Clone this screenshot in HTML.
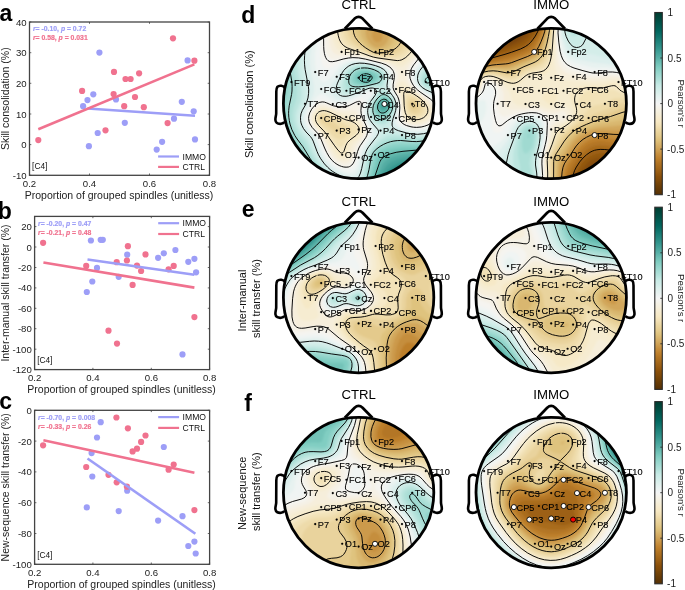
<!DOCTYPE html><html><head><meta charset="utf-8"><style>html,body{margin:0;padding:0;background:#fff;}svg{display:block;font-family:"Liberation Sans",sans-serif;will-change:transform;}</style></head><body><svg width="685" height="590" viewBox="0 0 685 590"><defs><filter id="bl" x="-10%" y="-10%" width="120%" height="120%"><feGaussianBlur stdDeviation="0.8"/></filter></defs><rect width="685" height="590" fill="#fff"/><circle cx="99.4" cy="52.6" r="3.1" fill="#9d9ef7"/><circle cx="83.1" cy="106.2" r="3.1" fill="#9d9ef7"/><circle cx="87.5" cy="100.1" r="3.1" fill="#9d9ef7"/><circle cx="93.3" cy="94.3" r="3.1" fill="#9d9ef7"/><circle cx="116" cy="99.4" r="3.1" fill="#9d9ef7"/><circle cx="124.8" cy="122.8" r="3.1" fill="#9d9ef7"/><circle cx="97.7" cy="133" r="3.1" fill="#9d9ef7"/><circle cx="88.9" cy="146.2" r="3.1" fill="#9d9ef7"/><circle cx="156.7" cy="149.6" r="3.1" fill="#9d9ef7"/><circle cx="162.1" cy="141.8" r="3.1" fill="#9d9ef7"/><circle cx="174" cy="118.7" r="3.1" fill="#9d9ef7"/><circle cx="181.8" cy="101.8" r="3.1" fill="#9d9ef7"/><circle cx="187.6" cy="60.4" r="3.1" fill="#9d9ef7"/><circle cx="193.7" cy="111.3" r="3.1" fill="#9d9ef7"/><circle cx="195" cy="139.4" r="3.1" fill="#9d9ef7"/><circle cx="38.3" cy="140.1" r="3.1" fill="#f0728f"/><circle cx="82.1" cy="90.9" r="3.1" fill="#f0728f"/><circle cx="105.5" cy="130.3" r="3.1" fill="#f0728f"/><circle cx="114" cy="71.9" r="3.1" fill="#f0728f"/><circle cx="113.6" cy="94" r="3.1" fill="#f0728f"/><circle cx="125.5" cy="79" r="3.1" fill="#f0728f"/><circle cx="130.6" cy="79" r="3.1" fill="#f0728f"/><circle cx="135" cy="97" r="3.1" fill="#f0728f"/><circle cx="139.1" cy="73.3" r="3.1" fill="#f0728f"/><circle cx="124.2" cy="106.2" r="3.1" fill="#f0728f"/><circle cx="143.8" cy="107.2" r="3.1" fill="#f0728f"/><circle cx="173" cy="38.3" r="3.1" fill="#f0728f"/><circle cx="167.6" cy="123.1" r="3.1" fill="#f0728f"/><circle cx="194.4" cy="60.7" r="3.1" fill="#f0728f"/><line x1="87.5" y1="108.5" x2="195" y2="115.7" stroke="#9d9ef7" stroke-width="2.6"/><line x1="38.3" y1="129.2" x2="194.4" y2="64.4" stroke="#f0728f" stroke-width="2.6"/><rect x="29.5" y="22" width="180" height="153.3" fill="none" stroke="#444" stroke-width="1.3"/><path d="M29.5 22h1.8M209.5 22h-1.8" stroke="#444" stroke-width="0.8"/><text x="26.7" y="25.5" text-anchor="end" font-size="9.6" fill="#222">40</text><path d="M29.5 52.7h1.8M209.5 52.7h-1.8" stroke="#444" stroke-width="0.8"/><text x="26.7" y="56.2" text-anchor="end" font-size="9.6" fill="#222">30</text><path d="M29.5 83.3h1.8M209.5 83.3h-1.8" stroke="#444" stroke-width="0.8"/><text x="26.7" y="86.8" text-anchor="end" font-size="9.6" fill="#222">20</text><path d="M29.5 114h1.8M209.5 114h-1.8" stroke="#444" stroke-width="0.8"/><text x="26.7" y="117.5" text-anchor="end" font-size="9.6" fill="#222">10</text><path d="M29.5 144.6h1.8M209.5 144.6h-1.8" stroke="#444" stroke-width="0.8"/><text x="26.7" y="148.1" text-anchor="end" font-size="9.6" fill="#222">0</text><path d="M29.5 175.3h1.8M209.5 175.3h-1.8" stroke="#444" stroke-width="0.8"/><text x="26.7" y="178.8" text-anchor="end" font-size="9.6" fill="#222">-10</text><path d="M29.5 175.3v-1.8M29.5 22v1.8" stroke="#444" stroke-width="0.8"/><text x="29.5" y="186.5" text-anchor="middle" font-size="9.6" fill="#222">0.2</text><path d="M89.5 175.3v-1.8M89.5 22v1.8" stroke="#444" stroke-width="0.8"/><text x="89.5" y="186.5" text-anchor="middle" font-size="9.6" fill="#222">0.4</text><path d="M149.5 175.3v-1.8M149.5 22v1.8" stroke="#444" stroke-width="0.8"/><text x="149.5" y="186.5" text-anchor="middle" font-size="9.6" fill="#222">0.6</text><path d="M209.5 175.3v-1.8M209.5 22v1.8" stroke="#444" stroke-width="0.8"/><text x="209.5" y="186.5" text-anchor="middle" font-size="9.6" fill="#222">0.8</text><text x="119" y="198.9" text-anchor="middle" font-size="10.5" fill="#222">Proportion of grouped spindles (unitless)</text><text transform="translate(9.3 98.7) rotate(-90)" text-anchor="middle" font-size="10.5" fill="#222">Skill consolidation (%)</text><text x="32.9" y="31.2" font-size="6.85" font-weight="bold" fill="#9d9ef7" stroke="#9d9ef7" stroke-width="0.2"><tspan font-style="italic">r</tspan>= -0.10, <tspan font-style="italic">p</tspan> = 0.72</text><text x="32.9" y="40.4" font-size="6.85" font-weight="bold" fill="#f0728f" stroke="#f0728f" stroke-width="0.2"><tspan font-style="italic">r</tspan>= 0.58, <tspan font-style="italic">p</tspan> = 0.031</text><text x="32.1" y="169" font-size="8.3" fill="#111">[C4]</text><line x1="158.1" y1="156.5" x2="179" y2="156.5" stroke="#9d9ef7" stroke-width="2.2"/><line x1="158.1" y1="166.9" x2="179" y2="166.9" stroke="#f0728f" stroke-width="2.2"/><text x="182.5" y="159.7" font-size="8.6" fill="#111">IMMO</text><text x="182.5" y="170.1" font-size="8.6" fill="#111">CTRL</text><circle cx="90.9" cy="240.5" r="3.1" fill="#9d9ef7"/><circle cx="100.7" cy="239.8" r="3.1" fill="#9d9ef7"/><circle cx="102.8" cy="239.8" r="3.1" fill="#9d9ef7"/><circle cx="127.2" cy="254.7" r="3.1" fill="#9d9ef7"/><circle cx="97" cy="267.9" r="3.1" fill="#9d9ef7"/><circle cx="92.3" cy="281.5" r="3.1" fill="#9d9ef7"/><circle cx="86.8" cy="292" r="3.1" fill="#9d9ef7"/><circle cx="118.7" cy="276.8" r="3.1" fill="#9d9ef7"/><circle cx="158.1" cy="257.8" r="3.1" fill="#9d9ef7"/><circle cx="163.8" cy="253.3" r="3.1" fill="#9d9ef7"/><circle cx="175.4" cy="250" r="3.1" fill="#9d9ef7"/><circle cx="188.3" cy="261.8" r="3.1" fill="#9d9ef7"/><circle cx="194.4" cy="258.8" r="3.1" fill="#9d9ef7"/><circle cx="196.1" cy="272.3" r="3.1" fill="#9d9ef7"/><circle cx="182.5" cy="354.4" r="3.1" fill="#9d9ef7"/><circle cx="43.1" cy="242.8" r="3.1" fill="#f0728f"/><circle cx="86.2" cy="265.9" r="3.1" fill="#f0728f"/><circle cx="127.9" cy="246.2" r="3.1" fill="#f0728f"/><circle cx="126.9" cy="260.5" r="3.1" fill="#f0728f"/><circle cx="116.7" cy="262.2" r="3.1" fill="#f0728f"/><circle cx="145.5" cy="254.4" r="3.1" fill="#f0728f"/><circle cx="137" cy="265.6" r="3.1" fill="#f0728f"/><circle cx="141.1" cy="271" r="3.1" fill="#f0728f"/><circle cx="132.6" cy="284.9" r="3.1" fill="#f0728f"/><circle cx="168.6" cy="269.3" r="3.1" fill="#f0728f"/><circle cx="173.7" cy="265.9" r="3.1" fill="#f0728f"/><circle cx="108.5" cy="330.7" r="3.1" fill="#f0728f"/><circle cx="117" cy="343.6" r="3.1" fill="#f0728f"/><circle cx="194.4" cy="317.1" r="3.1" fill="#f0728f"/><line x1="87.5" y1="259.5" x2="194.4" y2="274.7" stroke="#9d9ef7" stroke-width="2.6"/><line x1="43.4" y1="262.5" x2="194.4" y2="287.6" stroke="#f0728f" stroke-width="2.6"/><rect x="34.6" y="216.4" width="175" height="153.2" fill="none" stroke="#444" stroke-width="1.3"/><path d="M34.6 226.6h1.8M209.6 226.6h-1.8" stroke="#444" stroke-width="0.8"/><text x="31.8" y="230.1" text-anchor="end" font-size="9.6" fill="#222">20</text><path d="M34.6 247h1.8M209.6 247h-1.8" stroke="#444" stroke-width="0.8"/><text x="31.8" y="250.5" text-anchor="end" font-size="9.6" fill="#222">0</text><path d="M34.6 267.5h1.8M209.6 267.5h-1.8" stroke="#444" stroke-width="0.8"/><text x="31.8" y="271" text-anchor="end" font-size="9.6" fill="#222">-20</text><path d="M34.6 287.9h1.8M209.6 287.9h-1.8" stroke="#444" stroke-width="0.8"/><text x="31.8" y="291.4" text-anchor="end" font-size="9.6" fill="#222">-40</text><path d="M34.6 308.3h1.8M209.6 308.3h-1.8" stroke="#444" stroke-width="0.8"/><text x="31.8" y="311.8" text-anchor="end" font-size="9.6" fill="#222">-60</text><path d="M34.6 328.7h1.8M209.6 328.7h-1.8" stroke="#444" stroke-width="0.8"/><text x="31.8" y="332.2" text-anchor="end" font-size="9.6" fill="#222">-80</text><path d="M34.6 349.2h1.8M209.6 349.2h-1.8" stroke="#444" stroke-width="0.8"/><text x="31.8" y="352.7" text-anchor="end" font-size="9.6" fill="#222">-100</text><path d="M34.6 369.6h1.8M209.6 369.6h-1.8" stroke="#444" stroke-width="0.8"/><text x="31.8" y="373.1" text-anchor="end" font-size="9.6" fill="#222">-120</text><path d="M34.6 369.6v-1.8M34.6 216.4v1.8" stroke="#444" stroke-width="0.8"/><text x="34.6" y="380.8" text-anchor="middle" font-size="9.6" fill="#222">0.2</text><path d="M92.9 369.6v-1.8M92.9 216.4v1.8" stroke="#444" stroke-width="0.8"/><text x="92.9" y="380.8" text-anchor="middle" font-size="9.6" fill="#222">0.4</text><path d="M151.3 369.6v-1.8M151.3 216.4v1.8" stroke="#444" stroke-width="0.8"/><text x="151.3" y="380.8" text-anchor="middle" font-size="9.6" fill="#222">0.6</text><path d="M209.6 369.6v-1.8M209.6 216.4v1.8" stroke="#444" stroke-width="0.8"/><text x="209.6" y="380.8" text-anchor="middle" font-size="9.6" fill="#222">0.8</text><text x="121.6" y="393.2" text-anchor="middle" font-size="10.5" fill="#222">Proportion of grouped spindles (unitless)</text><text transform="translate(9.3 293) rotate(-90)" text-anchor="middle" font-size="10.5" fill="#222">Inter-manual skill transfer (%)</text><text x="38" y="225.6" font-size="6.85" font-weight="bold" fill="#9d9ef7" stroke="#9d9ef7" stroke-width="0.2"><tspan font-style="italic">r</tspan>= -0.20, <tspan font-style="italic">p</tspan> = 0.47</text><text x="38" y="234.8" font-size="6.85" font-weight="bold" fill="#f0728f" stroke="#f0728f" stroke-width="0.2"><tspan font-style="italic">r</tspan>= -0.21, <tspan font-style="italic">p</tspan> = 0.48</text><text x="37.2" y="363.3" font-size="8.3" fill="#111">[C4]</text><line x1="158.2" y1="223.2" x2="179.1" y2="223.2" stroke="#9d9ef7" stroke-width="2.2"/><line x1="158.2" y1="234" x2="179.1" y2="234" stroke="#f0728f" stroke-width="2.2"/><text x="182.6" y="226.4" font-size="8.6" fill="#111">IMMO</text><text x="182.6" y="237.2" font-size="8.6" fill="#111">CTRL</text><circle cx="100.7" cy="422.2" r="3.1" fill="#9d9ef7"/><circle cx="97" cy="437.5" r="3.1" fill="#9d9ef7"/><circle cx="91.6" cy="453.1" r="3.1" fill="#9d9ef7"/><circle cx="92.3" cy="476.5" r="3.1" fill="#9d9ef7"/><circle cx="86.8" cy="507.4" r="3.1" fill="#9d9ef7"/><circle cx="118.7" cy="511.1" r="3.1" fill="#9d9ef7"/><circle cx="127.2" cy="490.7" r="3.1" fill="#9d9ef7"/><circle cx="158.1" cy="520.6" r="3.1" fill="#9d9ef7"/><circle cx="163.8" cy="447" r="3.1" fill="#9d9ef7"/><circle cx="182.5" cy="516.2" r="3.1" fill="#9d9ef7"/><circle cx="188.3" cy="546" r="3.1" fill="#9d9ef7"/><circle cx="194.4" cy="541.6" r="3.1" fill="#9d9ef7"/><circle cx="195.7" cy="553.5" r="3.1" fill="#9d9ef7"/><circle cx="43.1" cy="445.3" r="3.1" fill="#f0728f"/><circle cx="116.4" cy="417.5" r="3.1" fill="#f0728f"/><circle cx="127.9" cy="428.3" r="3.1" fill="#f0728f"/><circle cx="145.5" cy="435.5" r="3.1" fill="#f0728f"/><circle cx="141.1" cy="441.9" r="3.1" fill="#f0728f"/><circle cx="137" cy="448.7" r="3.1" fill="#f0728f"/><circle cx="132.6" cy="451.4" r="3.1" fill="#f0728f"/><circle cx="86.2" cy="467" r="3.1" fill="#f0728f"/><circle cx="108.5" cy="474.8" r="3.1" fill="#f0728f"/><circle cx="116.7" cy="482.3" r="3.1" fill="#f0728f"/><circle cx="126.9" cy="486.7" r="3.1" fill="#f0728f"/><circle cx="168.6" cy="469.7" r="3.1" fill="#f0728f"/><circle cx="173.7" cy="464.6" r="3.1" fill="#f0728f"/><circle cx="194.4" cy="510.1" r="3.1" fill="#f0728f"/><line x1="87.5" y1="458.5" x2="195.4" y2="533.8" stroke="#9d9ef7" stroke-width="2.6"/><line x1="43.4" y1="440.2" x2="194.4" y2="472.8" stroke="#f0728f" stroke-width="2.6"/><rect x="34.6" y="410.3" width="175" height="154" fill="none" stroke="#444" stroke-width="1.3"/><path d="M34.6 410.3h1.8M209.6 410.3h-1.8" stroke="#444" stroke-width="0.8"/><text x="31.8" y="413.8" text-anchor="end" font-size="9.6" fill="#222">0</text><path d="M34.6 441.1h1.8M209.6 441.1h-1.8" stroke="#444" stroke-width="0.8"/><text x="31.8" y="444.6" text-anchor="end" font-size="9.6" fill="#222">-20</text><path d="M34.6 471.9h1.8M209.6 471.9h-1.8" stroke="#444" stroke-width="0.8"/><text x="31.8" y="475.4" text-anchor="end" font-size="9.6" fill="#222">-40</text><path d="M34.6 502.7h1.8M209.6 502.7h-1.8" stroke="#444" stroke-width="0.8"/><text x="31.8" y="506.2" text-anchor="end" font-size="9.6" fill="#222">-60</text><path d="M34.6 533.5h1.8M209.6 533.5h-1.8" stroke="#444" stroke-width="0.8"/><text x="31.8" y="537" text-anchor="end" font-size="9.6" fill="#222">-80</text><path d="M34.6 564.3h1.8M209.6 564.3h-1.8" stroke="#444" stroke-width="0.8"/><text x="31.8" y="567.8" text-anchor="end" font-size="9.6" fill="#222">-100</text><path d="M34.6 564.3v-1.8M34.6 410.3v1.8" stroke="#444" stroke-width="0.8"/><text x="34.6" y="575.5" text-anchor="middle" font-size="9.6" fill="#222">0.2</text><path d="M92.9 564.3v-1.8M92.9 410.3v1.8" stroke="#444" stroke-width="0.8"/><text x="92.9" y="575.5" text-anchor="middle" font-size="9.6" fill="#222">0.4</text><path d="M151.3 564.3v-1.8M151.3 410.3v1.8" stroke="#444" stroke-width="0.8"/><text x="151.3" y="575.5" text-anchor="middle" font-size="9.6" fill="#222">0.6</text><path d="M209.6 564.3v-1.8M209.6 410.3v1.8" stroke="#444" stroke-width="0.8"/><text x="209.6" y="575.5" text-anchor="middle" font-size="9.6" fill="#222">0.8</text><text x="121.6" y="587.9" text-anchor="middle" font-size="10.5" fill="#222">Proportion of grouped spindles (unitless)</text><text transform="translate(9.3 487.3) rotate(-90)" text-anchor="middle" font-size="10.5" fill="#222">New-sequence skill transfer (%)</text><text x="38" y="419.5" font-size="6.85" font-weight="bold" fill="#9d9ef7" stroke="#9d9ef7" stroke-width="0.2"><tspan font-style="italic">r</tspan>= -0.70, <tspan font-style="italic">p</tspan> = 0.008</text><text x="38" y="428.7" font-size="6.85" font-weight="bold" fill="#f0728f" stroke="#f0728f" stroke-width="0.2"><tspan font-style="italic">r</tspan>= -0.33, <tspan font-style="italic">p</tspan> = 0.26</text><text x="37.2" y="558" font-size="8.3" fill="#111">[C4]</text><line x1="158.2" y1="417.1" x2="179.1" y2="417.1" stroke="#9d9ef7" stroke-width="2.2"/><line x1="158.2" y1="427.9" x2="179.1" y2="427.9" stroke="#f0728f" stroke-width="2.2"/><text x="182.6" y="420.3" font-size="8.6" fill="#111">IMMO</text><text x="182.6" y="431.1" font-size="8.6" fill="#111">CTRL</text><clipPath id="cp00"><circle cx="358.6" cy="103.5" r="75.2"/></clipPath><g clip-path="url(#cp00)"><g filter="url(#bl)" fill-rule="evenodd"><circle cx="358.6" cy="103.5" r="78.2" fill="#cc9a4c"/><path fill="#d2a75c" d="M280 23.8l158.3 0 0 159.5-159.4 0 0-159.5zM374.5 29.5l-1.2 1.2-1.1 2.2 0 3.5 0.7 2.2 1.6 2.3 1.8 1.2 1.7 0.2 2.2-0.9 1.3-1.6 0.8-2.3 0.1-2.3-0.9-3.4-1.3-1.8-2.2-1.3-2.3 0.2-1.2 0.6z"/><path fill="#d9b76f" d="M280 23.8l87.7 0-1.6 3.5-0.7 3.4 0.1 3.4 0.9 3.4 1.8 3.4 2.9 3.5 3.4 2.5 3.5 0.8 3.4-0.8 2.7-1.4 2.4-2.3 1.9-3.4 0.7-3.4 0.3-5.7-0.6-3.4-1.5-3.5 51 0 0 159.5-159.4 0 0-159.5z"/><path fill="#dfc37e" d="M280 23.8l81.3 0-0.8 4.6 0.1 4.5 0.9 3.5 1.8 3.4 3.7 4.5 4 3.5 3.5 2 3.5 0.6 4.5-0.8 4.4-1.8 3.2-2.3 2.7-3.4 1.8-4.6 0.8-4.6 0-4.5-0.9-4.6 43.8 0 0 159.5-159.4 0 0-159.5z"/><path fill="#e4ca8c" d="M280 23.8l76.2 0-0.4 4.6 0.4 4.5 1.7 4.6 2.2 3.4 4.5 4.6 4.6 3.4 5.3 2.9 3.5 0.5 5.7-0.7 5.1-1.6 4.2-2.2 3.5-3.5 2.6-4.5 1.3-4.6 0.5-5.7-0.7-5.7 38.1 0 0 159.5-159.4 0 0-159.5z"/><path fill="#e9d39d" d="M280 23.8l71.5 0-0.1 5.7 0.8 4.6 2.2 4.5 2.7 3.5 5.4 4.5 7.2 4.6 4.8 2.1 4.6 0.5 6.8-0.6 5.7-1.4 4.6-2.1 3.6-3.1 3.1-4.5 1.9-5.7 0.8-5.7-0.5-6.9 33.2 0 0 159.5-159.4 0 0-159.5zM411.2 102.4l-0.9 2.3 0.7 2.6 1.1 1.4 1.2 0.7 2.2-0.1 1.2-1.1 0.3-1.2-0.5-2.3-2.1-2.3-2.3-0.5z"/><path fill="#eedbaa" d="M280 23.8l67.2 0 0 5.7 1.2 5.7 2.4 4.6 3.2 3.4 6.5 4.6 10.6 5.6 4.6 1.4 5.7 0.4 7.9-0.4 5.7-1.1 4.6-2.1 3.4-2.9 3.4-5 2.3-6.2 1-6.8-0.2-6.9 28.8 0 0 159.5-159.4 0 0-159.5zM411.3 99l-2.1 1.1-1.1 2.3-0.1 2.3 0.6 3.4 1.1 2.3 1.3 1.5 2.3 1.3 2.2 0.2 2.3-0.5 1.8-1.4 1-2.3 0-2.2-1.5-3.4-2.1-2.3-2.6-1.7-2.3-0.7zM321 117.2l-0.5 1.2 0.5 2.1 2.3 2.5 5.7 3.8 6.8 5.4 2.3 0.5 1.7-0.7 0.9-1.1 0.1-1.2-1.3-2.2-9.3-8-3.2-2.3-2.6-0.9-2.2 0.1-1.2 0.7z"/><path fill="#f2e2b8" d="M280 23.8l63.1 0 0.1 6.9 1.3 5.7 2.5 4.5 3.5 3.4 8 4.6 13.8 6.2 5.7 1.2 11.3 0.5 5.7-0.3 4.6-1.2 4.5-2.8 3.3-3.6 3.2-5.7 1.9-5.7 1-6.8-0.1-6.9 24.9 0 0 159.5-159.4 0 0-159.5zM408.5 96.7l-0.9 0.8-0.8 1.5-0.6 4.6 0.4 4.5 1.8 4.6 2.3 2.2 2.6 1.2 3.4 0.2 3.8-1.4 2.3-2.2 0.9-2.3-0.2-3.4-1.8-3.4-2.7-3.1-3.5-2.5-3.4-1.5-2.3-0.2-1.1 0.3zM322 113.8l-2.2 1.1-1.5 2.3-0.1 2.3 1.6 3.4 14.9 14.5 3.4 1.9 2.3 0 3.4-1.6 5.4-4.5 1.7-2.3 0.1-1.2-0.4-1.1-2.8-2.3-7.4-4.1-11.4-7-3.4-1.3-3.4-0.1z"/><path fill="#f6e9c7" d="M280 23.8l59.2 0 0.1 6.9 1.4 6.8 2.2 4.6 2 2.2 2.3 1.7 6 2.9 20.2 7.7 5.7 1 17.1 1.6 4.5-0.7 3.4-1.8 3.8-3.3 3.6-4.5 2.8-5.7 1.7-5.7 1.1-6.8 0-6.9 21.2 0 0 159.5-159.4 0 0-159.5zM406.7 93.3l-1.4 1.5-0.7 5.3 0.5 8 1.3 5.2 2 2.8 2.6 1.7 3.4 0.9 4.6-0.3 3.4-1.4 2.2-1.9 1-1.3 1.1-3.4-0.3-2.3-0.8-2.3-3.4-4.5-4.4-3.8-5.7-3.2-4.5-1.2zM323.3 111.5l-3.4 0.9-2.7 2.5-1 3.5 0.8 3.4 1.7 2.7 7.3 7.5 9.8 12.1 2.3 2.1 2.3 1.1 1.1-0.2 1.2-1 4.8-6.1 8.7-6.8 1.4-2.3 0.3-1.2-0.4-1.5-2.3-2.9-2.3-1.5-9.1-3.3-14.8-7.7-3.4-1.1-2.3-0.2z"/><path fill="#f6ecd1" d="M280 23.8l55.5 0 0.1 8 1.6 8 2.1 4.5 2.1 2.3 1.6 1.2 4.2 1.7 11.4 3.3 14.8 4.8 25.1 4.7 3.4-0.4 4.5-2.7 4.7-4.6 3.3-4.6 2.7-5.7 2.2-6.8 1.1-6.8 0.1-6.9 17.8 0 0 159.5-159.4 0 0-159.5zM402 87.6l-0.8 1.1-0.1 1.2 1.7 8 1.3 13.6 1.5 4.6 2 2.3 3.4 1.8 4.5 0.8 4.6-0.5 4.8-2.1 3.2-3.5 1-2.2 0.3-2.3-0.4-2.3-0.9-2.3-3.5-4.5-5.4-4.6-12.8-8.1-3.4-1.3zM319.5 110.4l-2.9 2.3-1.8 3.4-0.3 3.4 1.2 3.4 1.9 2.8 4.9 5.2 3.6 4.5 10.9 17.3 3.4 3.1 2.3 0.4 1.1-0.3 1.1-0.7 1.2-1.6 2-7.9 1-2.3 1.5-1.8 6.9-5.4 2.3-3 0.8-3.5-1-3.4-3.3-4.1-3.4-2.4-8-2-13.6-6.1-4.6-1.7-3.4-0.5-3.4 0.7z"/><path fill="#f6eedb" d="M280 23.8l51.8 0 0.2 9.1 1.5 9.2 2.3 5.2 1.4 1.6 2 1.5 3.5 1.3 13.6 2.2 17.1 4.8 13 2.7 5.2 1.7 6.9 3.1 2.2 0.5 1.2-0.1 2.2-1.1 3.5-3.1 6.8-7.4 3.2-5 2.7-5.7 2.2-6.8 1.2-6.8 0.2-6.9 14.4 0 0 159.5-159.4 0 0-159.5zM400.6 81.9l-1.4 1.2-1.4 2.2-0.5 1.3-0.1 2.1 2.9 5.7 1.1 3.5 0.8 4.5 0.9 11.4 0.5 2.3 1.2 2.3 1.8 1.8 2.3 1.3 3.4 1.1 3.4 0.4 3.5-0.2 3.4-0.8 4.9-2.5 3.2-3.4 1.4-3.4 0-3.5-2.1-4.5-4-4.6-13.6-10.2-8.1-7.7-2.2-0.7-1.2 0.3zM319.8 108.1l-3.6 2.3-1.8 2.3-1.1 2.2-0.5 2.3 0 2.3 1 3.4 2.3 3.4 5.1 5.7 2.6 3.4 8.6 16 3.2 4.5 2.5 2.3 2.3 1.2 2.3 0.4 3-0.5 1.7-1.1 2.1-3 2.2-8.4 1-2.3 6.8-6.8 2.3-3.4 0.8-2.3 0.2-2.3-1.4-4.5-3.9-5.8-2.3-2.3-2.3-1.4-8-1.3-19.3-6.6-3.4-0.2-2.3 0.5z"/><path fill="#f5f1e6" d="M280 23.8l48.2 0 0.2 10.3 1.5 11.4 1.7 4.5 1.7 2.3 1.4 1.1 2.3 1 2.2 0.5 12.6 0.2 9.1 1.3 23.9 6 3.6 1.3 4.1 2.3 3.9 3.4 1.5 2.3 0.6 2.2-0.3 3.5-2.6 6.8-0.5 3.4 0.6 2.3 3.7 6.8 1.1 3.4 0.7 5.7 0.2 9.1 0.8 3.5 1.9 2.6 3.5 2.2 4.5 1.4 4.6 0.3 4.5-0.5 3.4-1 3.3-1.6 2.4-1.9 2.3-2.7 1.2-2.3 0.7-3.4-0.2-2.3-1.7-4-3.2-3.9-4-3.4-9.3-6.9-5.7-5.7-2.3-3.4-2.3-4.5-0.5-2.3 0.1-2.3 0.6-2.3 1.9-3.4 10-12.5 4.9-9.1 1.7-4.6 1.6-5.7 0.8-5.7 0.1-5.7 11.3 0 0 159.5-159.4 0 0-159.5zM319.9 105.8l-2.3 1.1-2.3 1.8-2.9 4-0.9 2.2-0.5 3.5 1 4.5 2.1 3.4 5.1 5.7 2.5 3.4 7.8 16 4 6 3.5 3.1 3.4 1.8 3.4 0.8 3.4-0.6 2.3-1.4 1.4-1.8 1.7-3.4 2.8-9.1 1.4-2.3 5.2-6.2 1.7-2.9 0.8-2.2 0.2-3.5-1.5-5.1-6.9-12.6-1.9-1.6-1.5-0.3-6.8 0.9-3.4-0.3-8-1.8-9.1-3.2-3.4-0.3-2.3 0.4z"/><path fill="#f5f4f0" d="M280 23.8l44.5 0 0 6.9 1.2 19.3 0.9 3.4 1 2.3 2.5 2.7 2.3 0.8 2.3 0.2 14.8-2.3 9.1 0.3 6.8 1.3 17.1 4.3 4.7 1.8 3.3 2.1 3.3 3.6 1.3 3.4 0.1 3.5-1.5 6.8-0.1 3.4 1.2 3.4 3.3 5.7 1.5 4.6 0.6 5.7-0.4 10.2 0.6 2.3 1.4 2.3 1.2 1.1 3.4 1.9 4.6 1.4 5.7 0.6 4.5-0.4 3.4-0.9 3.6-1.5 3.4-2.2 2.2-2.3 2.1-3.4 0.9-3.4-0.2-3.5-1.7-4.3-2.9-3.6-4.1-3.4-9.7-6.9-2.6-2.3-2.9-3.4-2.1-3.4-1.3-3.4-0.5-3.4 0.2-2.3 0.6-2.3 1.6-3.4 9.5-12.5 5-9.1 1.8-4.6 1.6-5.7 0.8-5.7 0.2-5.7 8.2 0 0 159.5-159.4 0 0-159.5zM319.1 103.6l-2.6 1.4-2.3 2.1-2.3 2.9-1.4 2.7-1.1 3.4-0.2 2.3 0.5 3.4 0.9 2.2 2.3 3.5 4.7 5 2.2 2.9 7.8 17.1 2 3.4 2.6 3.4 3.6 3.3 4.6 2.5 4.5 1.1 3.5-0.4 2.2-1.2 2.5-3 1.6-3.4 3.3-10.2 6.9-10.3 1.8-4.5 0.1-2.3-0.6-3.4-4.7-10.3-1.1-3.4-0.4-3.4 0.1-5.7-0.4-1.1-1.1-0.7-1.1 0-9.1 4.1-5.7 0.9-8-1.1-10.3-3.7-2.2-0.2-2.3 0.4z"/><path fill="#f0f4f3" d="M280 23.8l40.8 0 0.2 14.8-0.6 12.6 0.3 5.7 1.5 6.8 1.1 2.3 2.3 2.3 2.3 0.5 2.2-0.6 9.3-5.6 5.5-2.3 4.8-1.2 5.5-0.4 8 0.7 14.8 3.5 5.9 1.9 4.3 2.5 2.3 2.2 1.9 3.3 0.6 4.6-0.9 6.8 0.1 3.4 1.2 3.4 4 6.9 1.4 4.5 0.3 5.7-1 9.1 0.1 2.3 1.7 3.4 2.9 2.3 4.8 2 5.7 1.2 5.7 0.1 5.6-1 4.6-1.7 4.3-2.9 3.1-3.4 1.7-3.4 0 67.2-159.4 0 0-159.5zM369.7 93.3l0.3-0.1zM359.1 99l-11.9 5.2-5.7 1-4.5-0.2-3.5-0.7-9.1-4.3-2.2-0.3-2.3 0.4-3.4 1.9-4.6 4.8-2.9 4.7-1.5 4.6 0.1 4.5 1 3.4 2.2 3.5 5.4 5.7 1.7 2.2 7.2 17.1 4.3 6.8 4.5 4.6 5.3 3.3 5.7 1.9 4.6 0 3.2-1.8 2.4-3.4 1.8-4.6 3.2-10.2 7.2-11.4 1.6-4.5 0-2.3-0.8-3.4-4.2-9.1-1.3-4.6-0.1-4.6 1.6-10.2-0.9-0.7-3.5 0.5zM433.8 23.8l4.5 0 0 83.2-1.8-3.4-3.1-3.5-2.8-2.2-9.4-6.1-4.8-4.2-1.8-2.3-1.9-3.4-1.1-3.4-0.3-2.3 0.3-3.4 1.7-4.6 2.2-3.4 8.8-11.4 4.9-9.1 1.6-4.5 1.5-5.7 0.6-4.6 0.2-5.7z"/><path fill="#e7f2f0" d="M280 23.8l37.1 0-0.5 14.8-1.6 16 0.1 9.1 0.8 5.7 1.3 4.5 2.7 5.2 2.3 2.3 1.1 0.4 2.3-0.5 4.5-3.1 3.4-3.4 4.5-6.6 3.6-3.4 4.5-2.5 5.7-1.7 4.5-0.4 4.6 0.1 11.4 2.2 10.2 3.1 2.9 1.5 2.8 2.3 1.7 2.3 1.2 3.4 0.1 3.4-0.7 6.8 0.6 3.4 5.2 9.2 1.5 4.5 0.3 6.8-1.8 10.3 0.4 2.3 1.8 2.8 3.4 2.4 5.7 2.1 6.8 1.2 5.7-0.1 5.7-1.1 4.5-1.7 4.6-2.9 3.4-3.7 0 62.5-159.4 0 0-159.5zM368.1 91l-6.1 4-11.4 5.1-4.5 1.7-4.6 0.7-4.5-0.2-3.5-1-9.1-6.7-2.2-0.9-1.2 0.2-2.3 1.4-2.2 2.2-4.6 5.8-4.4 7.1-1.9 5.7 0 4.5 1.5 4.6 2.3 3.4 6.5 6.8 1.7 3.5 5.1 13.6 2.5 4.6 3.3 4.5 2.8 2.8 3.4 2.8 6.8 3.6 3.4 1.2 3.5 0.7 2.2-0.1 2.3-0.7 2.3-2.2 1.1-2 1.9-4.9 3.8-12.6 1.7-3.4 5.3-7.9 2-4.6 0.3-2.3-0.7-3.4-5-10.2-1.3-5.7 0.3-4.6 1.6-5.7 1.3-2.3 3.9-4.5 1.4-2.3 0.2-1.1-0.7-1.5-1.2-0.6-2.3 0.5zM437.2 23.8l1.1 0 0 78.7-2-2.4-2.8-2.2-11.1-6.8-4.2-3.5-3.2-4.5-0.9-2.3-0.6-3.4 0.4-4.6 2-4.6 11.3-14.8 4.9-9.1 1.7-4.5 1.4-5.7 0.7-4.6 0.2-5.7z"/><path fill="#ddefed" d="M280 23.8l33.3 0-1.2 14.8-1.9 14.8-0.4 8 1 10 3.2 13.9 0.1 5.7-0.8 3.4-1.8 4.6-7.2 13.7-1 4.5 0.1 3.4 0.9 3.4 1.7 3.5 2.5 3.1 5.7 6 7.3 18.2 3.5 5.7 3.9 4.5 3.5 3.1 3.4 2.3 9.1 4.4 5.7 1.3 2.3-0.2 2.3-1 1.7-1.9 1.7-3.7 3.9-14.5 1.6-4.6 2.5-4.3 5-7 1.8-3.5 0.6-3.4-0.5-2.3-6.3-11.3-1-3.5-0.3-3.4 0.3-3.4 1.4-4.5 1.9-3.5 3.7-4.5 1.2-2.3 0-2.3-0.9-1.1-2.4-0.8-2.3 0.4-9.1 4.5-9.1 3.8-4.5 1.4-3.4 0.5-4.6-0.5-3.4-1.5-3-3.3-1.2-3.4 0.2-3.4 1.4-3.4 4.6-6.8 3.4-6.9 3.7-4.1 4.3-2.7 4.8-1.6 5.7-0.6 6.8 0.6 9.1 2 6.9 2.2 4.7 3.1 2.5 3.4 1 4.6-0.6 6.8 0.3 3.4 1.5 3.4 4.4 6.9 1.8 5.7 0.2 3.4-0.3 3.4-2.1 8-0.2 2.2 0.6 3.4 2.1 2.8 3.4 1.9 6.9 2.2 5.7 1 5.7 0.2 5.6-0.8 5.7-1.8 4.6-2.5 3.4-2.8 0 59.1-159.4 0 0-159.5zM438.3 33.1l0 66.2-5-3.7-9.8-5.3-4.5-3.8-1.7-2.3-1.5-3.4-0.4-2.3 0.1-3.4 1-3.4 1.8-3.5 9.4-11.3 4.6-6.9 3.7-7.9 2.1-8z"/><path fill="#d4ede9" d="M280 23.8l29.5 0-3.6 27.4-0.6 9.1 0.8 10.2 3.2 16 0.2 6.8-0.9 4.6-1.4 4.5-4.3 8-1.3 3.4-0.6 3.4 0.1 3.4 1.2 4.6 1.8 3.4 7.1 8 1.5 2.3 4.8 12.5 2.8 5.7 3 4.5 4.6 5.3 3.4 3 3.4 2.3 11.4 5.8 5.7 1.3 2.2-0.2 2.3-0.8 2-1.9 1.6-3.4 4.2-17.1 1.6-4.5 2.5-4.6 7-9.1 1.9-3.4 0.5-2.3-0.7-2.3-7.5-10.2-1.4-3.4-0.6-3.4 0.1-3.5 1.2-4.5 1.7-3.4 4.9-6.9 0.8-2.2-0.5-2.3-2.2-1.4-3.4-0.2-19.4 7.4-3.4 0.9-3.4 0.3-3.4-0.6-2.3-1.2-1.7-1.8-1.1-3.4 0.1-2.3 0.9-3.4 4.8-10.3 2-3.4 3-3.1 4-2.6 5.1-1.5 5.7-0.5 5.7 0.6 9.1 2 5.7 2.3 3.9 2.8 2.1 3.4 0.7 3.5-0.7 7.9 0.2 2.3 1 2.3 5.6 8 1 2.2 0.9 3.5 0.2 3.4-0.4 3.4-2.5 8-0.8 4.5 0.6 3.4 1.8 2.1 4.6 2.2 8 2.2 5.7 0.9 4.5 0.2 5.7-0.5 5.7-1.4 5.1-2.3 4-2.7 0 56.3-159.4 0 0-159.5zM438.3 43.9l0 52.6-4.5-2.8-9.2-4.2-3.4-2.5-2.9-3.9-0.8-2.3-0.4-3.4 0.6-3.5 1.6-3.4 2.5-3.4 10-11.4 3.7-5.7 2.6-5.7z"/><path fill="#cbebe6" d="M280 23.8l25.7 0-3.8 25.1-0.8 11.4 0.7 9.1 3.4 18.2 0.3 8-1.2 6.8-3.7 6.8-1.4 3.5-0.7 3.4 0 4.5 0.8 3.4 1.3 3.5 2.9 4.5 6.6 8 5.3 12.5 3 5.7 3.8 5.4 4.3 4.9 7 5.6 9.2 5.1 3.4 1.6 5.7 1.2 3.4-0.4 2.3-0.9 2.3-2 1.7-3.4 1.6-5.7 2.5-12.5 2.6-6.9 2.9-4.2 9.7-10.6 2.4-3.4 0.2-1.1-0.4-1.2-7.3-5.1-3.4-3.5-2.4-3.9-1-3.4 0-4.6 1.1-4.5 1.7-3.4 4.2-5.7 1.8-3.4 0.1-2.3-0.9-1.2-3.5-1.3-3.4 0.1-18.2 5.8-5.7 1-2.3-0.3-1.7-0.7-1.4-1.1-1.3-2.3-0.2-3.4 1.5-5.7 3.1-7.2 3.4-4.5 3.4-2.5 4.6-1.8 5.7-0.7 5.7 0.4 7.2 1.5 6.2 2.2 3.7 2.6 2.2 3.4 0.7 4.3-1.1 6.8 0 2.3 1.2 2.3 6.5 8 1.5 3.4 0.7 3.4 0 3.4-0.7 3.4-5.6 14.8 0.1 2.3 0.9 1.1 4.9 2.1 12.6 2.9 9.1 1 6.8-0.5 5.7-1.2 4.6-1.8 4.5-2.6 0 53.7-159.4 0 0-159.5zM438.3 50.7l0 43.1-3.4-1.7-9.1-3.5-3.2-2.1-2.7-3.4-0.8-2.3-0.3-2.3 0.6-3.4 1.8-3.7 2.3-2.9 9-9.4 5.6-7.9z"/><path fill="#bce5df" d="M280 23.8l22 0-3.6 20.5-1.3 12.6 0.4 10.2 3.3 18.2 0.8 9.1-0.9 6.9-3.9 9.1-1.1 4.5 0.1 5.7 0.6 3.4 1.2 3.5 2.9 5.1 6.9 8.7 7.7 15.8 2.9 4.5 3.6 4.6 5.1 5.3 4.6 3.7 9.1 5.5 5.5 2.6-67 0 0-159.5zM438.3 56.4l0 34.7-3.4-1.4-8-2.3-2.3-1.1-1.2-1-1.8-2.2-1-3.5 0.6-3.7 2.3-3.9 9.8-9.4 4.7-5.7zM357.5 65.8l6.8-0.5 6.8 1.1 6.9 2.2 4.5 3 2.2 3.5 0.4 3.4-1.4 5.5-1.2 2.2-1.1 1.2-1.2 0.1-4.9-1-3-0.1-21.7 5-3.4 0.3-2.4-0.7-1.9-2.3-0.5-3.4 0.9-4.5 2.1-5.7 2.1-3.4 2.2-2.3 3.2-2.1 3.6-1.3zM381.4 90.2l1.1-0.3 1.2 0.3 2.2 1.4 3.4 2.9 3.5 4.4 1.4 3.5 0.4 4.6-0.7 3.7-2.3 5.4-3.4 5.7-1.1 1.2-2.3 1.5-2.3 0.3-3.4-0.8-3.4-2-2.3-2.1-1.9-2.7-0.9-2.3-0.4-2.2 0-3.5 1.6-5.6 1.9-3.5 7-9.1zM438.3 132l0 51.3-80.8 0 3.4-2.6 2.4-4.3 1.5-5.7 2.6-13.6 2.6-6.4 2.3-3.1 3.4-3.6 4.5-3.9 4.6-3.2 3.4-1.6 4.6-0.6 7.9 0.6 11.4 2 9.1 0 9.1-1.7 4.6-1.7 3.4-1.9z"/><path fill="#aee0d8" d="M280 23.8l18.3 0-3.6 19.4-1.4 13.7 0.3 10.2 2.8 16 0.7 7.9-0.6 8-3.2 10.2-0.8 5.7 0.4 6.9 1.6 5.7 2.9 5.7 7.7 10.5 7.9 14.5 4.8 6.8 5.5 6.1 4.6 4.2 5.6 4.1 6.6 3.9-61.2 0 0-159.5zM438.3 61.8l0 26.2-3.4-1.1-6.8-1-2.3-0.8-2.4-2-0.9-3.5 0.5-2.2 1.6-2.8 9.2-8 3.9-4zM358.6 67l5.7-0.5 5.7 0.7 6.8 2.2 3.8 2.3 1.2 1.1 1.4 2.3 0.4 3.4-0.6 2.3-1.3 2.3-2.6 1.7-6.8 0.7-10.3 2.3-6.8 1-5.7 0.1-2.3-0.9-1.1-1.6-0.5-3.3 0.8-4.6 1.3-3.4 1.8-2.8 2.3-2.2 2.9-1.9 3.3-1.1zM382.5 92.8l1.2 0 2.2 0.6 3.4 2.5 3.1 4.2 1.3 4.6-0.4 4.5-1.7 4.6-3.4 5.1-3.4 2.7-3.4 0.6-2.3-0.5-2.3-1.2-3.5-3.3-1.2-2.3-0.5-2.2-0.2-2.3 0.4-3.4 1.7-4.6 4.5-6.1 3.4-3zM437.2 134.9l1.1-0.6 0 49-77.2 0 2.1-2.4 2-4.5 1.5-5.7 2.3-12.5 2-5.7 3.5-4.6 6.9-5.4 5.7-3.1 5.7-1.5 6.8-0.2 12.5 1.6 6.9 0 9.1-1.2 8-2.7z"/><path fill="#a0dad1" d="M280 23.8l14.8 0-3.9 19.4-1.4 14.8 0.3 9.1 2.4 14.8 0.3 4.6-0.4 7.9-2.5 11.4-0.7 6.9 0.6 7.9 1.8 6.9 2 4.5 2.5 4.6 7 9.5 8.1 13.2 4.1 5.7 9.5 10.3 4.5 3.7 6.4 4.3-56.5 0 0-159.5zM359.7 68.2l3.5-0.4 3.4 0.1 6.8 1.5 4.9 2.3 1.9 1.6 1.4 1.8 0.4 1.1 0 2.3-0.6 1.7-1.3 1.7-3.3 1.7-9.1 2.2-6.8 1-5.7 0.2-3.4-0.6-1.8-1.1-0.9-1.1-0.6-2.3 0-2.3 1-3.4 1.2-2.3 3.4-3.4 2.2-1.2 3.1-1.1zM438.3 67.8l0 16-5.7-1.5-5.7 0.9-1.1-0.5-0.7-0.8-0.3-1.1 1-2.6 6.8-4.7 5.3-5.3zM383.7 94.4l3.4 1.1 3.4 3.1 1.9 3.8 0.5 3.4-0.8 4.6-2.8 5-3.4 3.3-3.4 1.3-3.4-0.4-3.7-2.4-2.1-3.4-0.6-4.6 0.9-4.5 2.4-4.6 4.2-4.4 1.2-0.7 2.2-0.6zM438.3 136.6l0 46.7-74.6 0 2.1-3.5 1.7-4.5 3.1-16 1.3-4.5 2.6-4.1 5.7-4.6 6.9-3.5 6.8-1.9 5.7-0.4 12.5 1 8-0.1 10.2-1.6 8-3z"/><path fill="#8fd3c9" d="M280 23.8l11.3 0-3.8 18.3-1 7.9-0.6 8 0.2 9.1 1.7 13.7 0.2 4.5-0.6 6.9-2.2 11.4-0.2 5.6 0.9 9.2 1.8 7.9 2.7 6.9 3.3 6 8 10.8 9.4 13.9 4.7 5.7 5.4 5.7 4.4 3.9 5.6 4.1-52.3 0 0-159.5zM362 69.2l5.7 0.1 5.7 1.4 3.9 2.1 1.8 1.6 1.1 1.8-0.1 2.3-2.1 2.7-4 1.9-7.4 2.1-5.7 0.4-4.6-0.4-2.8-1-2-2.3-0.3-3.4 0.6-2.3 1.3-2.3 3.2-2.8 4.6-1.7zM381.4 96.4l2.3-0.6 3.4 0.9 2.2 1.9 1.2 1.5 1.3 3.5 0.1 3.4-0.9 3.4-1.9 3.4-3.2 3-3.4 1.3-3.4-0.5-2.3-1.4-1.1-1.2-1.5-3.5-0.3-3.4 1.2-4.5 2.9-4.4 2.9-2.5zM438.3 138.8l0 44.5-72.3 0 1.8-3.5 1.5-4.5 4.2-19.4 2.2-3.4 4.5-3.6 6.9-3.4 6.8-1.9 6.8-0.6 12.6 0.5 7.9-0.4 9.1-1.5 7.9-2.7z"/><path fill="#81cec2" d="M280 23.8l7.9 0-3.8 18.3-1.7 15.9 0 8 1.1 18.2-0.5 5.7-1.8 11.4-0.2 4.5 1.1 10.3 2.1 9.1 3.8 9.8 4.9 8.4 18.8 25.1 7 7.5 8.5 7.3-0.5 0-47.8 0 0-159.5zM363.2 70.5l4.5 0.1 4.2 1.1 4.1 2.2 1.7 2.3-0.2 2.3-2.1 2.3-4.3 2.3-4.5 1.3-4.6 0.1-4.5-0.9-2.7-1.7-1.1-2.3 0.5-3.4 1.5-2.3 3.2-2.2 4.2-1.2zM381.4 97.7l2.3-0.7 3.4 0.9 2.3 2.2 1.5 3.5 0.2 2.2-0.6 3.4-2 3.5-2.6 2.4-2.2 1-3.5 0-2.3-1.2-1.1-1.1-1.2-2.3-0.5-3.4 1.1-4.5 2.2-3.5 2.6-2.2zM438.3 141l0 42.3-70.1 0 1.5-3.5 1.8-5.6 4.2-17.5 2.2-3 3.5-2.6 6.8-3 6.8-1.7 5.7-0.6 13.7-0.1 8-0.6 9.1-1.7 6.6-2.3z"/><path fill="#73c3b8" d="M280 23.8l4.7 0-2.5 10.3-1.8 10.2-1.1 9.1-0.4 8.7 0-38.3zM278.9 67.1l0.4 13.7-0.4 8 0-22.4zM360.9 72.8l3.4-0.8 3.4 0.1 3.4 1 3 2 0.7 1.1 0.2 1.2-0.3 1.1-2.1 2.3-4 2.3-3.2 0.4-3.4-0.4-3.4-1.2-1.4-1.1-0.9-2.3 0.5-2.3 1.8-2.1 2.2-1.3zM381.4 98.9l2.3-0.7 3.1 0.8 2.3 2.3 0.9 2.3 0.2 2.2-0.8 3.4-1.4 2.3-2.1 2-3.4 1.1-2.3-0.3-2.2-1.6-1.3-2.3-0.3-3.4 0.9-3.4 1.8-2.9 2.1-1.7zM279 117.2l2 8 2.5 6.8 3.2 6.9 3.5 5.6 19.3 25.1 7.6 8 6.5 5.7-44.7 0 0-66.7zM438.3 143.3l0 40-68 0 3.6-10.3 3.7-13.7 2.2-3.4 3-2.2 5.4-2.4 6.8-1.9 6.9-0.9 13.6-0.6 8-0.8 8-1.5 6.4-2.2z"/><path fill="#61b7ac" d="M280 23.8l1.5 0-2.6 10.8 0-10.8zM364.3 73.9l2.3-0.1 2.2 0.5 1.7 0.8 1.1 1.1 0.4 1.2-0.8 2.2-1.1 1.2-2.4 1.4-4.2-0.3-2.5-1.1-1.3-1.3-0.3-2.1 0.5-1.2 1.2-1.1 2.8-1.2zM381.4 100.1l2.3-0.8 2.2 0.4 1.2 0.7 1.5 2 0.7 2.3-0.2 2.3-0.9 2.3-2.3 2.5-2.2 1-2.3 0-2.2-1.3-1.2-2.1-0.4-2.4 0.4-2.3 1.1-2.4 2.2-2.2zM279.1 128.6l5.1 11.4 6.1 9.4 17 21.3 6.5 6.9 6.2 5.7-41.1 0 0-55.3zM438.3 145.5l0 37.8-65.8 0 7.7-21.9 2.3-3.2 3.2-2.3 4.8-1.9 5.7-1.5 6.8-1.1 20.5-2 8-1.6 6.3-2.1z"/><path fill="#52aca3" d="M364.3 77.1l2.3-0.5 1.1 0.4 0.7 1.5-0.7 1.3-1.1 0.4-2.2-0.6-0.8-1.1 0.3-1.1zM382.5 100.7l2.3-0.2 1.1 0.4 1.2 1 0.9 1.7 0.3 2.2-0.7 2.3-1.7 2-1.1 0.7-2.3 0.4-1.1-0.3-1.2-0.8-1.1-2 0.1-3.4 1-2.1 1.3-1.3zM278.9 135.4l5.5 10.3 7.5 10.2 13.2 16 11.5 11.4-37.7 0 0-47.9zM438.3 147.8l0 35.5-63.5 0 7.7-18.5 2.3-3.2 3.4-2.6 4.4-1.9 5.9-1.7 6.8-1.2 19.3-2.6 6.9-1.6 6.3-2z"/><path fill="#44a299" d="M382.5 102.1l2.3-0.4 1.1 0.6 0.9 1.3 0.3 2.2-0.4 1.2-0.8 1.2-1.1 0.8-1.1 0.4-1.3-0.2-1-0.6-1-1.6 0.1-2.3 1.5-2.3zM279.4 142.3l5.8 9.1 8.9 11.4 9.9 11.4 9.3 9.1-34.4 0 0-42zM438.3 150.1l0 33.2-61 0 4.1-9 3.4-6.1 3.4-3.9 3.4-2.3 4.6-2 5.7-1.8 25-4.7 11-3.3z"/><path fill="#33958d" d="M383.7 103.2l1.1 0.1 0.8 1.4-0.8 2-1.1 0.4-1.2-0.6-0.3-1.8 0.8-1.1zM279.1 146.8l5.5 8 8.2 10.2 9.1 10.3 8 8-31 0 0-36.9zM438.3 152.4l0 30.9-58.2 0 4.7-8.5 3-4.1 3.8-3.5 4.6-2.7 4.5-2.1 5.8-1.9 21.6-4.8 9.9-3.2z"/><path fill="#298b83" d="M279.1 151.4l5.5 7.5 6.9 8.4 7.9 8.7 7.3 7.3-27.8 0 0-32.3zM438.3 154.8l0 28.5-55.1 0 3.9-5.8 3.4-3.9 4.5-3.6 5.7-3.4 9.1-3.7 19.4-5 9-3.1z"/></g><path fill="none" stroke="#000" stroke-width="0.95" stroke-linejoin="round" d="M353.4 23.8l-0.3 4.6 0.6 4.5 0.7 2.3 1 2.3 2.4 3.4 2.1 2.3 2.6 2.3 3.1 2.3 3.4 2.2 4.4 2.3 2.3 0.7 2.3 0.2 3.4-0.2 3.4-0.4 5.7-1.5 2.4-1.1 2-1.1 1.5-1.1 2.3-2.3 1.6-2.3 1.2-2.3 0.8-2.3 0.7-2.4 0.5-3.3 0.2-3.4-0.2-3.4-0.3-2.3M412.1 104.3l-0.1 0.4 0.1 0.7 0.2 0.4 1 0.9 1.1-0.4 0.2-0.5-0.3-1.1-1-0.9M337.5 23.8l-0.1 4.6 0.2 3.4 0.6 3.4 0.9 3.4 0.9 2.3 1.4 2.3 2.1 2.3 1.6 1.1 2.1 1.2 2.8 1.1 8.6 2.9 10.5 3.9 4.3 1.4 4.6 0.9 15.9 2.2 3.4 0.4 2.3-0.2 2.3-0.6 3.4-2 2.3-1.9 2.2-2.4 1.9-2.3 1.4-2.3 1.3-2.4 1.4-3.3 1.2-3.4 0.8-3.4 0.6-3.5 0.3-3.4 0-5.7M405.3 91l-1.2 0.9-0.3 1.4-0.1 1.1 0.5 11.4 0.4 3.4 0.7 3.5 1.1 2.6 1.2 1.4 1.1 1 1.1 0.7 2.3 0.9 3.4 0.5 3.5-0.3 2.2-0.7 2.3-1.1 2-1.6 1.4-2 0.7-1.4 0.3-2.3-0.3-2.3-0.9-2.3-1.4-2.2-2-2.3-3.2-2.9-3.4-2.5-3.4-2.1-4.6-2.1-2.3-0.7M319.9 111.4l-1.2 0.6-1.1 1-1.1 1.5-0.7 1.6-0.3 1.1 0 2.3 0.6 2.3 0.6 1.1 2 2.8 5.1 5.2 2.8 3.4 8.1 11.5 3.4 4.5 2.3 2.2 1.1 0.5 1.2-0.2 1.2-1.4 1.9-5.7 1.1-2.3 0.7-1.1 2.3-2.3 6.2-4.6 2-2.2 0.7-1.2 0.5-2.3-0.1-1.1-0.6-1.4-1.1-1.7-1.2-1.2-1.7-1.4-1.7-1-2.3-0.9-4.5-1.1-2.3-0.9-13.7-6.7-3.4-1.2-2.3-0.5-2.2 0.1-2.3 0.7M323.3 23.8l-0.1 5.7 0.4 9.1 0.1 8 0.2 3.4 0.5 3.4 0.6 2.3 0.6 1.6 1.1 2 1.2 1.2 1.1 0.7 1.1 0.4 2.3 0.1 3.4-0.6 8-2.2 4.6-0.9 4.5-0.4 5.7 0.3 6.8 1.2 16 4 4.7 1.7 3.7 2.3 1.3 1.1 1.8 2.3 0.6 1.2 0.7 2.2 0.2 3.5-1.2 6.8-0.1 3.4 0.6 2.3 0.6 1.1 3.4 5.7 0.9 2.3 0.6 2.3 0.5 3.4 0.1 3.4-0.6 9.1 0.4 2.3 0.5 1.1 0.8 1.2 1.1 1.1 2.1 1.5 2.3 1.1 4.6 1.3 2.3 0.4 3.4 0.2 4.5-0.4 3.4-0.8 3.5-1.3 3.2-2 2.5-2.3 1.7-2.2 1.2-2.3 0.8-3.4 0.1-2.3-0.5-2.3-0.8-2.3-1.5-2.2-1.9-2.3-2.6-2.3-10.2-7-2.6-2.1-2.3-2.3-1.9-2.3-1.9-3.4-1.2-3.4-0.4-2.3 0-2.3 0.4-2.2 1.4-3.5 2.1-3.4 6.3-7.9 2.4-3.5 2.7-4.5 2.1-4.6 1.7-4.5 1.4-5.7 0.6-4.6 0.3-5.7M319.9 102.3l-1.2 0.4-2.2 1.4-2.3 2-2.5 3.1-1.9 3.5-1 3.4-0.2 2.3 0.5 3.4 0.9 2.2 2.2 3.5 5.3 5.7 1.6 2.2 1.8 3.5 3.7 9.1 2.1 4.5 2.7 4.6 2.8 3.4 2.5 2.2 2.3 1.6 2.2 1.2 2.3 0.9 2.3 0.6 2.3 0.2 2.3-0.2 1.1-0.4 1.1-0.6 1.2-0.9 1.1-1.3 1.1-1.9 1.6-3.7 2-6.8 1.3-3.4 1.3-2.3 5.5-8 1.1-2.3 0.6-2.2 0.1-2.3-0.7-3.4-0.9-2.3-3.3-6.8-1.4-4.6-0.3-3.4 0.5-5.7-0.1-1.1-0.3-1.2-1.3-1-1.1 0-1.1 0.2-2.3 0.9-5.7 2.9-2.3 0.8-2.3 0.5-3.4 0.3-3.4-0.3-4.6-0.9-2.2-0.8-4.6-2.1-2.3-0.8-2.2-0.2-2.3 0.4M308.7 23.8l-3.6 26.5-0.5 5.4-0.2 4.6 0.2 4.5 0.5 4.6 3.3 17.1 0.3 3.4-0.1 3.4-0.6 4.6-1.4 4.5-1 2.3-3.3 5.7-1.3 3.4-0.5 3.4 0.1 3.4 0.4 2.3 0.8 2.3 1.7 3.4 2.6 3.4 4.4 4.6 1.6 2.3 1.1 2.2 3.8 10.3 1.5 3.4 1.9 3.4 1.8 2.6 2.3 3.1 3.2 3.4 2.5 2.3 2.2 1.7 3.4 2.1 8 4.3 3.4 1.3 3.4 0.8 2.3 0 2.3-0.4 2.3-1.1 1.5-1.9 1.5-3.4 1.2-4.5 2.5-11.4 1-3.4 0.9-2.3 1.1-2.3 1.6-2.5 7.8-10 1.3-2.3 0.5-1.1 0.2-1.2-0.2-1.1-0.5-1.2-5.6-6.5-1.9-2.6-1.3-2.2-0.8-2.3-0.6-3.4 0-2.3 0.3-2.3 0.5-2.3 0.9-2.2 1.3-2.3 4.2-5.7 1.2-2.3 0.3-1.1 0-1.2-0.4-1.1-0.3-0.4-0.9-0.8-1.4-0.5-1.1-0.2-2.3 0.1-2.2 0.6-6.9 2.9-9.1 3.3-3.4 1-2.3 0.4-3.4-0.1-2.3-0.7-1.8-1.1-1.1-1.1-0.7-1.1-0.4-1.2-0.3-2.3 0.6-3.4 0.8-2.2 4.7-10.3 1.6-2.4 2.3-2.4 2.7-2 3-1.5 3.4-0.9 4.5-0.5 4.6 0.2 5.7 0.9 5.7 1.5 4.5 1.7 3.4 2 1.3 1.1 1 1.3 1.2 2.1 0.4 1.2 0.3 2.3-0.1 2.2-0.7 5.7 0.2 2.3 0.4 1.1 1.4 2.3 3.5 4.6 1.5 2.3 1 2.2 1 3.5 0.1 3.4-0.4 3.4-0.7 2.5-1.9 5.5-1 4.5 0 2.3 0.3 1.1 0.7 1.2 1.1 1.1 1.8 1.1 2.5 1 7.9 2.2 5.7 1.1 5.7 0.3 5.7-0.6 5.7-1.3 4.6-1.9 2.2-1.3 2.3-1.6M438.3 95.9l-4.5-2.6-8-3.5-3.5-2.2-2.2-2.3-1.5-2.2-0.8-2.3-0.3-2.3 0.3-3.4 0.8-2.3 1.2-2.3 2.6-3.3 6.4-6.9 3.7-4.6 3-4.5 2.8-5.7M294.5 23.8l-2 9.1-1.7 9.2-1 7.9-0.5 6.9-0.1 5.7 0.3 4.5 0.6 4.6 1.8 10.2 0.2 4.6-0.1 4.5-0.4 3.4-2.4 11.4-0.5 4.6-0.1 3.4 0.2 3.4 0.5 3.4 0.7 3.4 1.9 5.7 2.9 5.8 2.3 3.5 5.9 7.8 6.9 11.4 3.9 5.7 4.8 5.7 5.6 5.7 4.8 3.9 6 4.1M438.3 83.3l-2.3-0.9-3.4-0.7-1.1 0-3.4 1.3-1.2 0-1.1-0.6-0.4-0.5-0.3-1.1 0.3-1.2 0.4-0.8 1.1-1.1 3.4-1.8 2.3-1.7 2.3-2.1 3.4-3.7M363.9 183.3l2.1-3.5 1.6-4.5 1.4-5.7 2-11.4 1.1-3.4 1.3-2.4 1.8-2.2 2.8-2.3 2.2-1.6 3.5-2 3.4-1.5 3.4-1.1 3.4-0.7 3.4-0.4 3.4-0.1 11.4 1 4.6 0.1 3.4-0.3 5.7-0.7 4.5-0.9 4.6-1.4 3.4-1.5M360.9 68.1l3.4-0.2 3.4 0.2 3.4 0.7 3.4 1.1 3.5 1.7 1.6 1.2 1.1 1.1 0.7 1.1 0.4 1.2 0.2 1.2-0.5 2.2-1.3 1.9-1.1 1-2.3 0.9-11.4 2.8-6.8 0.7-3.4-0.1-2.3-0.3-1.1-0.4-1.4-0.8-1-1.1-0.5-1.1-0.2-2.3 0.2-2.3 0.8-2.3 1.2-2.3 2-2.2 1.4-1.2 2-1.1 3.6-1.2M381.4 95.1l1.1-0.4 1.2-0.1 1.1 0.1 1.1 0.3 2.3 1.4 1.6 1.5 1.6 2.2 0.5 1.2 0.7 2.3 0.2 3.4-0.5 2.2-0.8 2.3-2.2 3.7-1.1 1.4-2.3 2-1.1 0.6-2.3 0.6-2.3-0.1-2.2-0.8-2.3-1.6-1.1-1.2-0.7-1.2-0.8-2.2-0.3-2.3 0.1-2.3 0.4-2.3 0.8-2.2 1.3-2.3 1.6-2.3 2.1-2.2 1.6-1.2M281.6 23.8l-2.7 11.5M278.9 127.6l2.1 5.6 2.7 5.7 3.2 5.4 3.3 4.8 11.6 14.8 5.7 6.8 6.4 6.9 6.3 5.7M372.4 183.3l1.3-3.5 5.4-15.9 0.9-2.3 1.3-2.3 1-1.1 1.4-1.1 1.7-1.2 2.4-1.1 2.7-1 5.7-1.5 6.8-1 14.8-1.3 6.8-0.9 6.9-1.4 3.4-1 3.4-1.3M364.3 73.8l2.3-0.1 2.2 0.5 1.9 0.9 1.1 1.1 0.4 1.2-0.2 1.1-0.7 1.1-1.1 1.2-1.7 1.1-0.8 0.3-2.3 0.1-2.2-0.4-2.4-1.1-1.2-1.2-0.4-1.1 0-1.1 0.6-1.2 1.1-1.1 2.6-1.2M381.4 100l1.1-0.5 1.2-0.3 1.1 0.1 1.1 0.3 1.2 0.8 0.9 0.9 0.7 1.1 0.6 2.3-0.1 2.3-1 2.4-1.1 1.5-1.2 1-1.1 0.6-1.1 0.4-1.2 0.1-1.1-0.1-1.2-0.5-1.1-0.9-1.1-1.9-0.4-1.5 0-1.1 0.3-2.3 1.2-2.4 1.1-1.4 1-0.8"/></g><g font-size="9.2" fill="#000" stroke="#000" stroke-width="0.12"><circle cx="341.6" cy="51.9" r="1.05" fill="#000"/><text x="344.2" y="55.4">Fp1</text><circle cx="375.6" cy="51.9" r="1.05" fill="#000"/><text x="378.2" y="55.4">Fp2</text><circle cx="315.2" cy="72" r="1.05" fill="#000"/><text x="317.8" y="75.5">F7</text><circle cx="402" cy="72" r="1.05" fill="#000"/><text x="404.6" y="75.5">F8</text><circle cx="336.7" cy="76.8" r="1.05" fill="#000"/><text x="339.3" y="80.3">F3</text><circle cx="380.5" cy="76.8" r="1.05" fill="#000"/><text x="383.1" y="80.3">F4</text><circle cx="358.6" cy="77.8" r="1.05" fill="#000"/><text x="361.2" y="81.3">Fz</text><circle cx="291.4" cy="82" r="1.05" fill="#000"/><text x="294" y="85.5">FT9</text><circle cx="425.8" cy="82" r="1.05" fill="#000"/><text x="428.4" y="85.5">FT10</text><circle cx="321.2" cy="89" r="1.05" fill="#000"/><text x="323.8" y="92.5">FC5</text><circle cx="396" cy="89" r="1.05" fill="#000"/><text x="398.6" y="92.5">FC6</text><circle cx="346.4" cy="90.8" r="1.05" fill="#000"/><text x="349" y="94.2">FC1</text><circle cx="370.8" cy="90.8" r="1.05" fill="#000"/><text x="373.4" y="94.2">FC2</text><circle cx="305" cy="103.8" r="1.05" fill="#000"/><text x="307.6" y="107.2">T7</text><circle cx="412.2" cy="103.8" r="1.05" fill="#000"/><text x="414.8" y="107.2">T8</text><circle cx="332.8" cy="104" r="1.05" fill="#000"/><text x="335.4" y="107.5">C3</text><circle cx="384.4" cy="104" r="2.55" fill="#fff" stroke="#000" stroke-width="0.9"/><text x="387" y="107.5">C4</text><circle cx="358.6" cy="104" r="1.05" fill="#000"/><text x="361.2" y="107.5">Cz</text><circle cx="321.2" cy="118" r="1.05" fill="#000"/><text x="323.8" y="121.5">CP5</text><circle cx="396" cy="118" r="1.05" fill="#000"/><text x="398.6" y="121.5">CP6</text><circle cx="346.2" cy="117" r="1.05" fill="#000"/><text x="348.8" y="120.5">CP1</text><circle cx="371" cy="117" r="1.05" fill="#000"/><text x="373.6" y="120.5">CP2</text><circle cx="315.2" cy="135.1" r="1.05" fill="#000"/><text x="317.8" y="138.6">P7</text><circle cx="402" cy="135.1" r="1.05" fill="#000"/><text x="404.6" y="138.6">P8</text><circle cx="336.7" cy="130.6" r="1.05" fill="#000"/><text x="339.3" y="134.1">P3</text><circle cx="380.5" cy="130.6" r="1.05" fill="#000"/><text x="383.1" y="134.1">P4</text><circle cx="358.6" cy="129.4" r="1.05" fill="#000"/><text x="361.2" y="132.9">Pz</text><circle cx="342.2" cy="154.8" r="1.05" fill="#000"/><text x="344.8" y="158.2">O1</text><circle cx="375" cy="154.8" r="1.05" fill="#000"/><text x="377.6" y="158.2">O2</text><circle cx="358.6" cy="157.6" r="1.05" fill="#000"/><text x="361.2" y="161.1">Oz</text></g><circle cx="358.6" cy="103.5" r="75.2" fill="none" stroke="#000" stroke-width="2.8"/><path fill="none" stroke="#000" stroke-width="2.7" stroke-linejoin="round" d="M344.8 28.8L354.6 18.6Q358.6 15 362.6 18.6L372.4 28.8"/><path fill="none" stroke="#000" stroke-width="2.6" stroke-linejoin="round" d="M432.2 88C433.6 85.7 437.9 84.8 439.9 86.9C440.7 88 440.9 89.5 440.9 91.5L441 113.5C441.1 116 442 117.5 441.8 120C441.5 123.2 438.8 124 436.1 123.8C434.6 123.5 433.4 122.8 432.8 121.8"/><path fill="none" stroke="#000" stroke-width="2.6" stroke-linejoin="round" d="M285 88C283.6 85.7 279.3 84.8 277.3 86.9C276.5 88 276.3 89.5 276.3 91.5L276.2 113.5C276.1 116 275.2 117.5 275.4 120C275.7 123.2 278.4 124 281.1 123.8C282.6 123.5 283.8 122.8 284.4 121.8"/><clipPath id="cp01"><circle cx="551.2" cy="103.5" r="75.2"/></clipPath><g clip-path="url(#cp01)"><g filter="url(#bl)" fill-rule="evenodd"><circle cx="551.2" cy="103.5" r="78.2" fill="#714108"/><path fill="#7c4709" d="M529.6 23.8l101.4 0 0 143.8-25.1-1.5-4.5 0.3-4.6 1-4.4 2.2-2.4 2.4-2.3 4.4-1.7 6.9-114.5 0 0-126.8 20.5-7.6 17.1-7.2 5.7-2.8 4.6-3 4.4-4.1 3.5-4.1 2.1-3.9z"/><path fill="#894f0a" d="M533 23.8l98 0 0 139.4-26.2-1.8-5.7 0.4-4.6 1.2-4.5 2.5-2.3 2-1.6 2.1-1.8 3.4-1.2 3.2-1.3 7.1-110.3 0 0-124.7 24-8.6 15.9-6.1 6.2-3 5.2-3.5 5.5-5.6 2.5-3.4 1.7-4.6z"/><path fill="#93580f" d="M535.3 23.8l95.7 0 0 135.2-9.1-0.3-19.4-1.5-5.7 0.6-4.6 1.7-3.4 2-2.2 1.9-4.1 5.1-2.9 6.8-1.4 8-106.7 0 0-122.7 38.8-13.3 10.2-4.4 5.7-4.1 4.6-5 3.2-5.4 1.2-4.6z"/><path fill="#9d6116" d="M537.6 23.8l93.4 0 0 131.2-10.3-0.2-19.3-1.7-5.7 0.8-4.6 1.8-3.4 2.2-3 2.6-2.7 3.1-2.6 3.7-1.7 3.4-1.4 3.8-0.9 4.2-0.5 4.6-103.4 0 0-120.7 6.9-2.5 33-10.3 8-3.1 4.5-2.3 5.6-4.6 4.4-5.7 2.5-4.9 1.1-5.4z"/><path fill="#a96c1e" d="M539.9 23.8l91.1 0 0 127.2-11.4 0-14.8-1.7-4.6-0.2-5.7 0.9-4.5 2-3.4 2.4-3.5 3.2-3.4 4-3.4 5.1-2 4-1.1 3.5-0.9 4.5-0.4 4.6-100.4 0 0-118.8 8-3 31.9-9 9.1-3.3 5.2-2.6 5.1-4.1 4.5-6.1 3.4-6.9 0.8-5.7z"/><path fill="#b37625" d="M542.1 23.8l88.9 0 0 123.2-12.6 0.2-13.6-1.8-5.7-0.2-5.7 1.1-4.6 2.1-3.9 3-4 4.1-4.6 5.9-3.1 4.8-1.6 3.4-1.5 4.6-0.9 9.1-97.7 0 0-116.9 9.1-3.5 29.7-7.4 11.3-4.1 5.7-2.7 3-2.1 2.2-2.3 5.1-7.8 3.1-7 0.5-5.7z"/><path fill="#bd7f2c" d="M543.3 23.8l87.7 0 0 119-13.7 0.7-12.5-1.9-5.7-0.4-5.7 1-5.7 2.6-4.1 3.2-3.9 4.2-6.9 9.4-2.8 4.6-1.5 3.4-1.2 4.6-0.7 9.1-95.1 0 0-115 5-2.3 5.3-1.8 28.5-6.3 12.7-4.5 6.6-3.1 2.3-1.7 2.3-2.6 4.5-7.7 3.6-8.8 0.4-5.7z"/><path fill="#c58e3d" d="M544.4 23.8l86.6 0 0 114.7-13.7 1-13.7-1.8-6.8-0.1-5.7 1.5-5.7 3.1-3.4 2.7-3.4 3.8-11.3 16.3-1.4 3.5-1.1 4.5-0.6 10.3-92.7 0 0-113.1 4.6-2.4 5.7-2 10.2-2.4 12.6-1.8 5.7-1.2 13.6-5 6.9-3.1 2.2-1.6 2.3-2.6 4.6-8.2 3.6-9.2 0.4-2.3 0.2-4.6z"/><path fill="#cc9a4c" d="M545.6 23.8l85.4 0 0 110.1-12.6 1.2-15.9-1.1-6.8 0.2-5.7 1.8-6.9 3.7-3.4 2.9-3.4 3.9-11.7 17.4-1.3 3.4-0.9 4.6-0.5 5.7 0 5.7-90.4 0 0-111.2 5.7-3.2 5.7-2 9.1-1.9 13.7-1.3 5.7-1.3 15.9-6.1 5.7-2.9 2.3-2 1.9-2.5 3.8-7.6 3.7-10.6 0.6-6.9z"/><path fill="#d2a75c" d="M546.7 23.8l84.3 0 0 105.2-12.6 1.4-15.9 0.1-6.8 0.6-3.5 0.9-4.5 1.7-4.6 2.3-3.4 2.3-3 2.8-2.8 3.4-5.6 9.2-4.4 5.6-2 3.5-1 3.4-0.8 4.5-0.4 5.7 0.1 6.9-88.3 0 0-109.1 5.7-3.8 6.9-2.4 9.1-1.7 12.5-0.4 5.7-1.2 17.1-6.7 5.7-3 2.2-2 2.3-3 3.4-7.3 3.6-10.9 0.8-8z"/><path fill="#d9b76f" d="M547.8 23.8l83.2 0 0 100.1-16 2.1-14.8 1.4-5.7 1-4.5 1.3-5.5 2.3-4.2 2.3-3.3 2.3-5.3 5.7-6.5 10.2-4.3 5.7-1.2 2.3-1 3.4-0.6 5.1-0.4 7.4 0.1 6.9-86.3 0 0-107 5.7-4.3 5.7-2.5 10.3-1.8 12.5 0.3 4.6-0.6 19.3-7.8 5.3-2.7 3.8-3.7 2-3.2 1.6-3.4 4.2-13.7 1.1-9.1z"/><path fill="#dfc37e" d="M549 23.8l82 0 0 94.7-6.9 0.9-25 4.9-5.7 1.4-5.7 2-5.7 2.5-4.6 2.5-3.4 2.6-6 7-9.2 13.6-1.7 3.4-0.9 6.9-0.2 17.1-84.5 0 0-104.6 5.7-5.1 2.3-1.4 3.4-1.4 4.6-1.1 5.7-0.6 13.6 1.1 3.5-0.5 21.6-9 4.5-2.6 2.3-2 2.1-2.7 3.2-6.8 3.4-12.5 1.3-10.3z"/><path fill="#e4ca8c" d="M550.1 23.8l80.9 0 0 89.3-4.6 0.2-3.4 0.7-12.5 3.9-16 4.3-12.5 5.1-6.7 3.6-3 2.3-3.4 3.4-3.6 4.5-8.4 12.8-2.1 4.3-0.6 4.6 0.1 20.5-82.8 0 0-102.2 6-6 3.1-2.1 2.3-1 4.6-1.1 5.7-0.4 4.5 0.3 9.1 1.5 3.5-0.3 3.4-1.1 10.2-4.9 9.1-3.7 4.6-2.6 2.3-2 2.2-2.9 2.8-5.9 3.2-12.5 1.7-12.6z"/><path fill="#e9d39d" d="M551.2 23.8l79.8 0 0 84.1-4.6-0.2-4.5 0.8-13.3 5.3-12.9 4.3-10.3 4.5-5.7 2.9-6.8 4.1-4.2 3.6-3.3 3.4-2.8 3.6-7.9 13.1-1.8 3.8-0.5 4.5 0.2 21.7-81.1 0 0-99.7 2.3-2.1 4.6-5.4 2.2-1.8 3.5-1.5 4.5-0.9 4.6-0.1 4.5 0.5 9.1 1.9 4.6-0.3 4.5-1.7 9.2-4.6 9.8-3.9 3.9-2.3 2.6-2.3 1.9-2.4 2.9-6.7 2.8-12.1 1.9-14.1z"/><path fill="#eedbaa" d="M552.4 23.8l78.6 0 0 79.6-5.7-0.7-5.7 0.8-3.5 1.2-9.1 4.6-12.5 4.4-11.4 6.5-9.1 6.1-4.8 3.4-5.2 4.6-2.5 2.9-2.3 3.6-6.8 12.9-1.3 3.4-0.4 3.4 0.4 22.8-1 0-78.6 0 0-97.4 3.5-2.9 4.5-6.3 2.2-1.6 2.4-1.1 4.5-0.9 4.6 0 4.5 0.8 9.1 2.3 4.6 0 4.5-1.5 10.3-5.4 10.2-3.9 4.6-2.7 2.3-2.3 1.6-2.4 2.8-6.8 2-10.3 2.2-17.1z"/><path fill="#f2e2b8" d="M553.5 23.8l77.5 0 0 75.7-10.3-1.4-5.7 0.1-3.4 1.2-6.8 4.4-9.1 1.4-3.5 1.2-3.4 2.6-5.3 5.9-5.9 5.7-16.1 12.6-2.3 2.7-1.7 3-6.3 13.4-1.6 4.8-0.4 3.4 0.5 22.8-78.2 0 0-95.3 4.8-3.8 2.4-4.6 1.9-2.2 2.3-1.7 2.3-0.9 3.4-0.5 4.6 0.1 3.4 0.8 10.2 3.2 3.5 0.3 2.2-0.2 4.6-1.6 10.2-5.9 10.3-3.4 4.5-2.5 2.3-2.1 1.9-2.7 2.6-6.9 1.7-9.1 2.4-20.5z"/><path fill="#f6e9c7" d="M554.7 23.8l76.3 0 0 72.2-8-2-8-4.1-2.3-0.5-2.2 0.1-6.9 1.8-3.4 0.4-10.2-1.2-2.3 0.2-3.6 1.5-2.7 2.2-1.7 2.6-1 3.1-0.1 3.5 0.8 4.5 0 2.3-1.4 4.5-2.2 3.5-3.2 3.4-4.3 3.4-7.9 5.4-2.6 2.6-2 3.6-6.7 16.9-0.9 3.4-0.3 3.4 0.5 11.4-0.1 11.4-76.8 0 0-93.2 5.7-4.5 3.9-7.1 1.8-1.5 2.3-1 3.4-0.5 4.6 0.3 4.5 1.4 10.3 3.9 3.4 0.4 2.3-0.1 4.5-1.8 6.3-4.5 4-2.2 11.4-2.9 4.5-2.4 1.6-1.6 1.8-2.7 1.3-3 1.3-4.6 1.2-7.9 2.4-24z"/><path fill="#f6ecd1" d="M555.8 23.8l75.2 0 0 68.8-4.6-1.1-3.4-1.6-2.6-2.3-3.1-4.2-2.3-0.7-3.4 0.3-11.4 2.5-12.5-0.3-5.7 0.5-5.7 1.7-3.5 2.5-2.4 3.4-0.7 3.4 0.8 3.4 3.6 9.1 0.3 3.5-0.5 2.2-1.7 3.5-2.7 3.1-3.4 2.6-8 4.7-2.3 2.1-1.2 2.3-3.1 10.2-3.7 9.9-0.9 3.8-0.3 4.5 0.5 11.4-0.2 10.3-75.4 0 0-91.1 5.7-4.4 1.9-2.5 2.5-5.7 1.3-1.2 2.3-1.2 3.4-0.5 4.8 0.7 4.3 1.6 11.4 5.7 3.4 1 3.4 0.2 3.5-1.4 6.8-7.1 3.4-2.1 3.4-0.6 9.1-0.3 2.3-0.4 2.3-1.2 2-2.3 1.1-2.3 2.1-7.9 1.2-10.3 1-19.3 1-6.9zM548.7 91l-2.5 1.2-2.7 2.2-1.2 2.3 0 1.2 1.4 2.2 4.1 3.4 2.3 0.9 2.3-0.2 2.4-1.8 1.6-2.3 0.8-2.2-0.3-2.3-1.4-2.3-2-1.6-2.3-0.8-2.2 0z"/><path fill="#f6eedb" d="M556.9 23.8l74.1 0 0 65.5-3.5-0.9-3.4-1.7-1.4-1.4-3.1-4.5-3.4-1.5-4.6 0.1-10.2 1.9-6.9 0.4-27.3-1.4-3.4-0.8-3.7-2.1-2.1-2.3-1.9-3.4-0.8-3.5-0.4-3.4 0.1-30.7 0.4-5.7 0.8-4.6zM486.3 78.2l4.6 0.1 4 1.3 4.1 2.3 5.9 4.6 3.3 3.4 1.5 2.3 2.8 9.2 2 2.2 2.6 1.4 3.4 1 4.6 0.4 7.9-1.5 4.6 0 3.4 0.8 6.8 2.6 3.4 0.5 3.5-0.7 6.8-2.7 2.3-0.1 3.4 1.4 2.1 2.5 1 2.3 0.2 2.3-0.4 2.3-1.8 3.1-3.4 2.9-9.1 4.4-2.2 2.1-1.1 2.3-2.1 10.2-4 12.6-0.9 4.5-0.2 4.6 0.6 12.5-0.4 8-74 0 0-88.9 4.6-3.3 2.3-2.2 1.6-2.4 2.2-5.7 1-1.2 2.1-1.1z"/><path fill="#f5f1e6" d="M558.1 23.8l72.9 0 0 61.9-4.6-1.5-1.5-1.1-4-4.6-3.6-1.6-5.7-0.4-13.7 1.8-7.9-0.2-9.1-1.5-11.4-2.6-3.4-1.3-3.3-2.2-2-2.3-1.6-2.8-1.2-4-0.8-4.5-1.1-22.8 0.3-5.7 1-4.6zM486.3 79.6l3.5 0.1 4.5 1.7 3.8 2.8 3.1 3.4 1.4 2.3 1.1 3.4 0.2 3.4-0.4 5.7 0.4 2.3 1.3 2.3 2.8 1.9 3.4 0.7 4.5 0.2 8-0.4 9.1-1.1 3.4 0.1 4.6 1 6.8 2.7 3.4 0.9 3.5-0.2 6.8-2.1 2.3 0.2 1.1 0.6 1.2 1.3 0.6 2.1-0.1 1.2-1.2 2.3-2.8 1.8-5.7 1.4-2.2 1.1-2.3 2.3-1.9 3.6-1.8 12.5-3.6 12.6-0.9 4.5-0.2 4.6 0.6 12.5-0.4 8-72.7 0 0-86.6 7.2-5.7 2.3-3.4 1.9-5.8 1.2-1.3 2.1-0.9z"/><path fill="#f5f4f0" d="M559.2 23.8l71.8 0 0 57.7-3.5-1.5-5.6-4.1-4.6-1.6-6.8-0.5-13.7 1.5-5.7-0.3-8-1.7-9.1-2.5-4.5-1.7-3.4-2-2.4-2.3-2.2-3.3-1.4-3.5-1-4.6-1.1-9.1-0.8-11.4 0.3-4.5 1.1-4.6zM485.2 81.7l3.4-0.4 3.4 1.3 3.5 2.7 2.3 3.4 0.8 2.3 0.2 3.4-1.9 8-0.2 3.4 1.6 5.7 1.2 2.3 1.6 1.7 2.3 1 2.3 0 14.8-4 9.1-1.3 4.6-0.2 4.5 0.7 3.4 1.2 5 3.2 2 2.3 0.4 1.1 0.1 2.3-1.2 6.8-0.9 10.3-4 15.9-0.6 4.5 0.5 16-0.6 8-71.3 0 0-83.9 6.6-5 2.5-2.5 1.9-3.2 1.5-5.6 0.8-1.2z"/><path fill="#f0f4f3" d="M560.4 23.8l70.6 0 0 53.1-9.1-4.1-5.7-1.3-8-0.5-12.5 1-4.6-0.5-15.9-4.4-3.5-1.3-3.5-2.1-2.6-2.3-2.3-3.4-1.5-3.4-1.2-4.6-2.2-17.1 0.2-4.5 1.3-4.6zM487.5 84.1l2.3 0.6 2.2 1.8 1.4 2.2 0.6 2.3-0.1 3.4-1.7 8-0.3 5.7 0.3 19.4 0.9 3.4 1.2 1.3 2.3 0.9 3.4-0.7 2.3-1.9 4.4-6.5 3.4-3.4 5.8-3.7 6.9-2.4 8-1.2 5.6 0.4 3.5 1.1 2.2 1.3 3.1 3.4 0.9 2.3 0.3 2.2-0.2 11.4-0.8 6.9-2.9 11.4-0.9 5.6-0.1 4.6 0.7 11.4-0.8 8-69.9 0 0-80.5 2.8-2.7 7.7-5.7 2.3-3.4 1.8-5.7 1.2-1.1z"/><path fill="#e7f2f0" d="M561.5 23.8l69.5 0 0 48.5-9.1-2.6-10.3-1.5-5.7-0.4-10.2 0.2-3.5-0.4-15.9-4.3-3.4-1.3-3.4-2-2.3-2-2.5-3.4-1.4-3.4-1.5-5.7-1.4-7.6-0.7-6.1 0.2-3.4 1.5-4.6zM482.9 100l1.2 0.1 1.1 0.7 0.8 1.6 0.4 4.6-0.5 4.5-1.3 4.6-1.7 3.1-2.3 2.5-2.2 1.1-2.3-0.1-1.1-0.6-2.3-2.6-1.2-3.8 0-4.2 1.3-4.5 2.1-3.4 3.5-2.3 3.7-1.2zM526.2 115.9l6.8-0.4 3.4 0.6 2.3 0.9 2 1.4 1.4 1.6 1.9 4 0.6 5.7 0 6.9-0.9 6.8-2.8 11.4-0.7 4.5-0.1 4.6 0.8 12.5-0.9 6.9-61.6 0-0.7-6.9 0.6-7.9 1.9-6.9 2.9-5.7 2.1-2.7 3.1-3 11.7-8.2 5.7-5.2 1.6-2.5 3-8 3.6-4.5 5.5-3.7 6-2z"/><path fill="#ddefed" d="M562.6 24.8l0.6-1 67.8 0 0 43.8-14.8-2-9.2-1.6-13.6-1.5-16-3.3-5.8-2.3-2.1-1.6-2.3-2.5-1.4-2.8-2-5.8-2-7.8-0.7-4.6 0.1-3.4 1.4-3.4zM525.1 118.2l3.4-0.6 3.4 0 3.4 0.6 2.3 1 1.8 1.4 1.6 2.2 1.5 4.7 0.6 5.7-0.4 6.8-3.4 15.9-0.6 4.6 0 4.5 0.9 11.4-1.2 6.9-51.7 0-0.2-4.6 0.7-5.7 1.4-4.6 2.7-5.6 4.5-6.9 12.2-16.3 2.2-4.2 2.4-6.8 1.9-3.4 2-2.3 2.9-2.2 5.3-2.3z"/><path fill="#d4ede9" d="M564.9 24.6l0.6-0.8 65.5 0 0 38.4-9.1-0.4-5.7-0.7-24-6.9-13.6-0.3-3.4-0.6-2.3-0.9-2.3-1.6-2.3-3-2.2-4.9-2.3-6.5-1-4.6 0-2.3 0.7-2.2 1.2-2.3zM525.1 120.3l5.7-0.7 3.4 0.6 2.2 1.1 1.9 1.6 1.4 2.3 1.4 4.5 0.4 5.7-0.4 5.7-3.3 14.8-0.7 4.6 0 4.5 1.1 11.4-0.4 3.4-1.2 3.5-41.3 0 0.1-5.7 1.8-6.9 7-17 7.2-14.7 3.4-9.3 1.9-3.4 2-2.3 2.9-2.2 2.6-1.2z"/><path fill="#cbebe6" d="M568.3 24.4l0.6-0.6 62.1 0 0 31.4-5.7 0.2-5.7-0.7-4.2-1.3-3.8-1.9-3.4-2.5-2.2-2.4-6.9-10.9-2.3-1.9-2.3-1-3.4 0.1-3.4 1.7-2.3 2.6-3.4 6-2.3 2.1-2.3 0.9-3.4-0.4-2.3-1.4-2.2-2.6-2.3-4-1.4-3.7-0.5-2.3 0.1-2.3 0.8-2.2 1.6-2.3zM528.5 121.6l4.5 0.5 3.4 2.1 2.3 3.8 1.1 5.2 0 4.5-0.6 5.7-3.9 17.1 0 4.5 1.4 11.4-0.6 3.4-1.5 3.5-30.7 0 0.2-5.7 2.5-10.3 2.1-12.5 7.6-22.8 1.9-3.9 2.4-2.9 3.3-2.3 3.7-1.1z"/><path fill="#bce5df" d="M620.7 24.2l0.6-0.4 9.7 0 0 17.3-3.5 0.4-2.2-0.3-2.9-1.4-2.3-2.3-1.8-3.4-0.8-3.4 0.5-3.4 1.6-2.3zM575.2 25.9l2.2-0.2 1.2 0.4 1.1 1.1 0.3 1.2-0.3 2.3-1.1 2.4-1.8 2.1-1.6 0.9-2.3-0.2-1.2-0.8-1.1-1.5-0.5-1.8 0.3-2.3 0.7-1.1 1.1-1.1 2.1-1.2zM527.3 123.9l2.3-0.2 2.3 0.3 2.3 1.2 1.1 1 2 3.5 0.8 4.6 0 4.6-0.8 5.6-3.6 12.6-0.7 4.5 0.1 4.6 1.8 10.2-0.7 3-2.5 3.9-19.2 0-0.5-2.3 0.1-3.4 1.9-8-0.9-9.1 0.1-5.7 0.6-4.6 1.6-6.8 2.5-9.1 1.9-4.6 3-3.6 4-2.1z"/><path fill="#aee0d8" d="M527.3 126.1l3.5 0 2.2 1.1 1.2 1.1 1.6 3.7 0.5 4.6-1.1 9.1-4.8 12.5-1 4.6 0.3 3.4 2.2 7.5 0.2 2.7-0.3 1.2-1.5 2.2-1.8 1.5-1.7 0.8-1.7 0.4-2.6-0.4-1.6-1.1-1.2-2.3-0.2-2.3 0.8-9.1-2.2-10.2-0.5-5.7 0.9-9.1 2.2-9.1 1-2.3 1.7-2.3 3.4-2.3z"/><path fill="#a0dad1" d="M528.5 128.4l2.3 0.3 2.2 2.2 0.9 3.4-0.1 4.6-0.8 5.2-1.1 3.4-3.4 4.7-2.3 1.3-1.1-0.1-1.2-0.7-1.1-1.9-0.9-4 0-4.5 0.7-5.7 0.9-3.4 1.6-2.7 2.6-1.9z"/><path fill="#8fd3c9" d="M528.5 133.7l1.1 0.6 0.1 1.1-0.1 1.2-1.1 2.1-0.8-2.1 0.4-2.3z"/></g><path fill="none" stroke="#000" stroke-width="0.95" stroke-linejoin="round" d="M471.5 64.4l3.5-1.4 4.5-1.6 24.5-6.8 7.4-2.3 9.1-3.3 4.8-2.4 3.2-2.2 2.3-2.2 2.2-2.8 2.3-3.3 2.3-4.2 0.9-2.4 0.6-2.2 0.2-3.5M631 151.3l-5.7 0.1-5.7-0.2-4.6-0.4-10.2-1.3-4.6-0.1-3.4 0.4-2.3 0.5-2.3 0.9-2.2 1.1-3.4 2.4-3.5 3.2-3.4 4-3.4 5.2-1.8 3.6-1.1 3.5-0.9 4.5-0.4 4.6M471.5 72.4l2.9-1.9 2.8-1.5 2.3-0.9 3.4-1 9.1-2 4.6-0.5 9.1-0.7 2.3-0.3 3.4-0.9 15.9-6.1 3.5-1.6 2.2-1.3 1.8-1.4 1.9-2.3 2-3.3 2.3-4.9 2.3-5.9 1.3-4.1 0.7-3.4 0.2-4.6M631 133.3l-8 1-4.6 0.2-4.5-0.1-11.4-0.9-5.7 0.2-3.4 0.6-3.1 1.1-3.7 1.8-3.5 2.1-3.6 3-3.2 3.6-2.3 3.3-3.4 5.6-4.5 6.1-1.8 3-1.3 3.4-0.9 4.6-0.5 5.7 0.1 5.7M471.5 81.9l6.6-6.8 2.5-1.7 3.5-1.4 4.5-0.9 4.6-0.3 4.5 0.4 9.1 1.7 3.5-0.3 2.2-0.6 2.3-0.9 9.1-4.4 9.1-3.7 2.3-1.1 2.6-1.6 2.5-2.3 1.8-2.3 1.9-3.4 1.3-3.4 1.6-5.7 1.4-6.8 1-5.7 0.7-6.9M631 111.5l-4.6 0.1-3.4 0.6-12.5 4.3-11.4 3.2-4.6 1.4-7.9 3.2-5.7 2.6-6.9 3.9-2.8 2.4-3.3 3.4-3.6 4.5-8.1 12.6-1.7 3.4-0.6 2.2-0.2 2.3-0.1 17.1 0.2 4.6M471.5 91.1l3.5-2.4 2.4-2.2 1-1.3 0.5-1 1.3-3.4 1.6-2.2 1.7-1.2 1.7-0.8 3.4-0.5 2.3 0.1 2.3 0.3 4.5 1.5 6.9 3.2 3.4 1.3 3.4 0.7 2.3 0.1 2.2-0.5 2.3-1 2.3-1.6 4.6-4 1.7-1.1 1.7-0.9 3.4-1 6.8-1 2.3-0.5 2.3-0.8 2.3-1.4 2-2.4 1.3-2.3 1.2-3.2 0.9-3.6 1.2-8 1.4-19.3 0.9-6.9M631 94.4l-4.6-1.1-3.4-1.3-1.7-1-1.6-1.1-3.5-3.5-1.2-0.6-1.1-0.2-2.3 0.2-8 1.9-3.4 0.5-3.4 0-6.8-0.7-3.4 0.2-3.5 0.8-2.2 1-2.3 1.4-1.3 1.3-1.6 2.2-0.5 1.3-0.5 2.2-0.1 2.2 0.3 2.3 1.5 5.7 0.3 2.3-0.1 2.3-1.2 3.4-2.3 3.4-3.5 3.4-3.5 2.6-6.8 4.2-2.4 2.3-1.1 1.8-0.7 1.6-3.1 9.1-3.6 9.2-0.8 3.4-0.4 3.4 0.5 12.5-0.1 10.3M631 78.4l-2.3-1-4.2-2.3-2.6-1.3-2.3-0.7-3.4-0.7-3.5-0.4-4.5 0-12.5 1.2-2.3-0.1-3.4-0.6-8-2.1-8-2.4-3.4-1.4-3.4-2-2.3-2.2-1.1-1.5-1.2-1.9-1.3-3.3-1.2-4.5-1.3-9.1-0.8-9.2 0.2-4.5 1.3-4.6M471.5 101.5l2.3-2 5.5-3.9 2.4-2.3 0.8-1.1 1.2-2.3 1.5-5.7 1.1-1.2 1.2-0.1 1.1 0.1 2.6 1.2 2 1.8 1.2 1.6 0.5 1.1 0.7 2.3 0 3.4-1.7 6.9-0.3 2.3-0.1 4.5 0.8 6.6 1.2 5.6 1.1 3.3 1.2 1.6 1.1 0.6 1.1 0 1.1-0.3 1.2-0.7 5.2-4.2 5.5-3.4 5.2-2.3 3.4-0.9 3.5-0.7 3.4-0.5 3.4-0.2 4.5 0.3 2.3 0.6 2.3 0.9 2.3 1.4 1.6 1.4 0.9 1.2 1.1 2.2 0.4 2.3 0 2.3-0.5 10.2-0.5 4.6-1 4.5-2.6 10.3-0.7 4.5-0.1 4.6 0.7 11.4-0.2 4.5-0.5 3.5M631 56.4l-5.7 0.1-5.7-0.6-4.9-1.3-4.7-2.3-3.2-2.3-2.3-2.2-1.7-2.3-3.3-5.7-1.6-2.3-1.1-1.2-1.1-0.8-2.3-0.9-2.3 0-1.1 0.3-1.2 0.5-1.1 0.8-1.1 1.3-0.7 1.1-2.8 5.4-1.2 1.5-1.6 1.1-1.7 0.7-2.3 0.2-2.3-0.5-1.1-0.6-2.3-2-2.3-3.3-2.2-4.7-1-3.5-0.3-2.2 0.4-2.3 1.2-2.3 1.8-2.3M502.7 183.3l-0.1-3.5 0.4-3.4 2.5-9.1 2.6-12.5 1.4-4.6 3.8-10.2 3.1-9.1 1.8-3.4 2-2.3 1.4-1.2 1.8-1.1 1.7-0.8 2.2-0.6 2.3-0.2 2.3 0.2 1.1 0.3 2.3 1.1 1.4 1.1 0.9 1.2 1.2 2.3 0.7 2.2 0.5 3.5 0.1 4.5-0.7 5.7-0.7 3.4-2.6 10.3-0.5 3.4-0.1 4.5 1.2 8 0.2 3.4-0.6 3.4-1.4 3.5"/></g><g font-size="9.2" fill="#000" stroke="#000" stroke-width="0.12"><circle cx="534.2" cy="51.9" r="2.55" fill="#fff" stroke="#000" stroke-width="0.9"/><text x="536.9" y="55.4">Fp1</text><circle cx="568.2" cy="51.9" r="1.05" fill="#000"/><text x="570.9" y="55.4">Fp2</text><circle cx="507.9" cy="72" r="1.05" fill="#000"/><text x="510.5" y="75.5">F7</text><circle cx="594.6" cy="72" r="1.05" fill="#000"/><text x="597.2" y="75.5">F8</text><circle cx="529.4" cy="76.8" r="1.05" fill="#000"/><text x="532" y="80.3">F3</text><circle cx="573.1" cy="76.8" r="1.05" fill="#000"/><text x="575.8" y="80.3">F4</text><circle cx="551.2" cy="77.8" r="1.05" fill="#000"/><text x="553.9" y="81.3">Fz</text><circle cx="484.1" cy="82" r="1.05" fill="#000"/><text x="486.7" y="85.5">FT9</text><circle cx="618.5" cy="82" r="1.05" fill="#000"/><text x="621.1" y="85.5">FT10</text><circle cx="513.9" cy="89" r="1.05" fill="#000"/><text x="516.5" y="92.5">FC5</text><circle cx="588.6" cy="89" r="1.05" fill="#000"/><text x="591.2" y="92.5">FC6</text><circle cx="539" cy="90.8" r="1.05" fill="#000"/><text x="541.6" y="94.2">FC1</text><circle cx="563.5" cy="90.8" r="1.05" fill="#000"/><text x="566.1" y="94.2">FC2</text><circle cx="497.6" cy="103.8" r="1.05" fill="#000"/><text x="500.2" y="107.2">T7</text><circle cx="604.9" cy="103.8" r="1.05" fill="#000"/><text x="607.5" y="107.2">T8</text><circle cx="525.5" cy="104" r="1.05" fill="#000"/><text x="528.1" y="107.5">C3</text><circle cx="577" cy="104" r="1.05" fill="#000"/><text x="579.6" y="107.5">C4</text><circle cx="551.2" cy="104" r="1.05" fill="#000"/><text x="553.9" y="107.5">Cz</text><circle cx="513.9" cy="118" r="1.05" fill="#000"/><text x="516.5" y="121.5">CP5</text><circle cx="588.6" cy="118" r="1.05" fill="#000"/><text x="591.2" y="121.5">CP6</text><circle cx="538.9" cy="117" r="1.05" fill="#000"/><text x="541.5" y="120.5">CP1</text><circle cx="563.6" cy="117" r="1.05" fill="#000"/><text x="566.2" y="120.5">CP2</text><circle cx="507.9" cy="135.1" r="1.05" fill="#000"/><text x="510.5" y="138.6">P7</text><circle cx="594.6" cy="135.1" r="2.55" fill="#fff" stroke="#000" stroke-width="0.9"/><text x="597.2" y="138.6">P8</text><circle cx="529.4" cy="130.6" r="1.05" fill="#000"/><text x="532" y="134.1">P3</text><circle cx="573.1" cy="130.6" r="1.05" fill="#000"/><text x="575.8" y="134.1">P4</text><circle cx="551.2" cy="129.4" r="1.05" fill="#000"/><text x="553.9" y="132.9">Pz</text><circle cx="534.9" cy="154.8" r="1.05" fill="#000"/><text x="537.5" y="158.2">O1</text><circle cx="567.6" cy="154.8" r="1.05" fill="#000"/><text x="570.2" y="158.2">O2</text><circle cx="551.2" cy="157.6" r="1.05" fill="#000"/><text x="553.9" y="161.1">Oz</text></g><circle cx="551.2" cy="103.5" r="75.2" fill="none" stroke="#000" stroke-width="2.8"/><path fill="none" stroke="#000" stroke-width="2.7" stroke-linejoin="round" d="M537.5 28.8L547.2 18.6Q551.2 15 555.2 18.6L565 28.8"/><path fill="none" stroke="#000" stroke-width="2.6" stroke-linejoin="round" d="M624.9 88C626.2 85.7 630.5 84.8 632.5 86.9C633.4 88 633.5 89.5 633.5 91.5L633.6 113.5C633.8 116 634.6 117.5 634.5 120C634.1 123.2 631.5 124 628.8 123.8C627.2 123.5 626 122.8 625.5 121.8"/><path fill="none" stroke="#000" stroke-width="2.6" stroke-linejoin="round" d="M477.6 88C476.2 85.7 471.9 84.8 469.9 86.9C469.1 88 468.9 89.5 468.9 91.5L468.9 113.5C468.8 116 467.9 117.5 468.1 120C468.4 123.2 471.1 124 473.8 123.8C475.2 123.5 476.4 122.8 477.1 121.8"/><linearGradient id="cb0" x1="0" y1="0" x2="0" y2="1"><stop offset="0.000" stop-color="#003c30"/><stop offset="0.025" stop-color="#00463b"/><stop offset="0.050" stop-color="#005046"/><stop offset="0.075" stop-color="#015b52"/><stop offset="0.100" stop-color="#01655d"/><stop offset="0.125" stop-color="#0c7169"/><stop offset="0.150" stop-color="#1a7e76"/><stop offset="0.175" stop-color="#278a82"/><stop offset="0.200" stop-color="#35978f"/><stop offset="0.225" stop-color="#47a49b"/><stop offset="0.250" stop-color="#58b0a7"/><stop offset="0.275" stop-color="#6dbfb4"/><stop offset="0.300" stop-color="#7fccc0"/><stop offset="0.325" stop-color="#92d4ca"/><stop offset="0.350" stop-color="#a3dbd3"/><stop offset="0.375" stop-color="#b4e2db"/><stop offset="0.400" stop-color="#c7eae5"/><stop offset="0.425" stop-color="#d2ede9"/><stop offset="0.450" stop-color="#def0ed"/><stop offset="0.475" stop-color="#e9f2f1"/><stop offset="0.500" stop-color="#f4f5f5"/><stop offset="0.525" stop-color="#f5f2e8"/><stop offset="0.550" stop-color="#f5efdc"/><stop offset="0.575" stop-color="#f6ebcf"/><stop offset="0.600" stop-color="#f6e8c3"/><stop offset="0.625" stop-color="#f1dfb3"/><stop offset="0.650" stop-color="#ead59f"/><stop offset="0.675" stop-color="#e5cc8f"/><stop offset="0.700" stop-color="#dec17b"/><stop offset="0.725" stop-color="#d7b169"/><stop offset="0.750" stop-color="#cfa256"/><stop offset="0.775" stop-color="#c79040"/><stop offset="0.800" stop-color="#bf812d"/><stop offset="0.825" stop-color="#b17423"/><stop offset="0.850" stop-color="#a5691b"/><stop offset="0.875" stop-color="#995d13"/><stop offset="0.900" stop-color="#8b500a"/><stop offset="0.925" stop-color="#7e4909"/><stop offset="0.950" stop-color="#6e4007"/><stop offset="0.975" stop-color="#613806"/><stop offset="1.000" stop-color="#543005"/></linearGradient><rect x="654.8" y="12.5" width="7.5" height="182.2" fill="url(#cb0)" stroke="#2a2a2a" stroke-width="1.1"/><text x="667.6" y="16.1" font-size="10" fill="#1a1a1a">1</text><line x1="660.3" y1="58" x2="662.3" y2="58" stroke="#2a2a2a" stroke-width="0.9"/><text x="667.6" y="61.6" font-size="10" fill="#1a1a1a">0.5</text><line x1="660.3" y1="103.6" x2="662.3" y2="103.6" stroke="#2a2a2a" stroke-width="0.9"/><text x="667.6" y="107.2" font-size="10" fill="#1a1a1a">0</text><line x1="660.3" y1="149.1" x2="662.3" y2="149.1" stroke="#2a2a2a" stroke-width="0.9"/><text x="667.1" y="152.7" font-size="10" fill="#1a1a1a">-0.5</text><text x="667.1" y="198.3" font-size="10" fill="#1a1a1a">-1</text><text transform="translate(678.2 103.5) rotate(90)" font-size="9.6" fill="#1a1a1a" text-anchor="middle">Pearson's r</text><clipPath id="cp10"><circle cx="358.6" cy="297.6" r="75.2"/></clipPath><g clip-path="url(#cp10)"><g filter="url(#bl)" fill-rule="evenodd"><circle cx="358.6" cy="297.6" r="78.2" fill="#bd7f2c"/><path fill="#c58e3d" d="M280 217.8l158.3 0 0 159.5-159.4 0 0-159.5zM406.4 343.1l-2.3 1.9-1.7 2.7-1.7 3.7-1.1 4.2 0 5.7 1 3.4 1.2 2.3 2.3 3.1 2.3 2.1 2.8 1.6 2.9 1.1 3.4 0.5 2.3-0.2 3.4-0.9 2.3-1.3 1.6-1.4 1.7-2.3 1.3-3.4 0.1-4.6-0.9-3.4-1.1-2.3-4.3-5.7-6.4-5.2-4.5-2.1-2.3-0.2-2.3 0.7z"/><path fill="#cc9a4c" d="M280 217.8l158.3 0 0 159.5-6.2 0 1.9-2.3 2-3.4 1.4-5.7 0-3.4-0.7-3.5-1.3-3.4-2-3.4-5.3-6.1-11.4-9.1-4.6-2.7-4.5-1-2.3 0.3-2.3 1.3-3.4 4.5-2.8 7.1-1.8 9.1 0 5.7 1.2 5.7 2.9 5.7 4 4.6-124.2 0 0-159.5z"/><path fill="#d2a75c" d="M280 217.8l158.3 0 0 129.3-6.7-6.3-7.9-5.7-4.7-3.9-3.5-2.1-3.4-1.1-3.4-0.4-4.6 0.6-2.6 1.2-3.4 3.5-3.3 5.6-2 6.8-1.3 8-0.3 6.9 0.8 6.8 1.9 5.4 2.9 4.9-117.9 0 0-159.5z"/><path fill="#d9b76f" d="M280 217.8l158.3 0 0 120.1-15.9-12-3.4-1.9-2.3-0.9-4.6-0.4-4.5 0.8-5.7 2-4.2 2.8-3.3 3.4-2.9 4.6-1.7 4.5-1 5.7-0.9 11.4 0.2 6.8 1.4 6.9 2.6 5.7-113.2 0 0-159.5zM409.7 240.6l-1.4 1.2-1 2.2-0.1 3.4 0.9 2.3 0.9 1.2 2 1.1 2.3 0.1 2.2-0.7 2.2-1.7 1.3-2.3 0.2-2.2-0.8-2.3-1.7-1.8-2.3-1-2.3-0.2-2.3 0.6z"/><path fill="#dfc37e" d="M280 217.8l158.3 0 0 111.8-14.8-11.1-3.4-1.8-3.4-0.6-4.6 1.1-11.4 5.8-4.8 3-4 3.4-3 3.5-2 3.4-1.1 3.4-0.5 3.4-0.6 15.9 0.1 5.7 1.2 6.9 2.2 5.7-109.3 0 0-159.5zM408.7 232.6l-2.4 1.2-2.8 2.3-1.8 2.2-1.7 3.5-0.7 3.4-0.1 3.4 0.5 3.4 1 3.4 1.2 2.3 1.7 2.3 1.7 1.3 2.3 0.8 4.5-0.1 6.9-2 3.4-1.7 2.5-1.7 2.3-2.3 1.6-2.3 1.5-4.6 0-3.4-0.6-2.2-1-2.3-1.8-2.5-2.3-2.1-3.4-1.9-3.4-1.1-3.4-0.3-5.7 1zM318.4 282.7l0.3 1.3 1.2 0.2 1.1-0.5 0.4-1-0.4-0.7-1.1-0.3-1.2 0.7z"/><path fill="#e4ca8c" d="M280 217.8l158.3 0 0 26.1-0.9-3.3-1.6-3.4-2-2.8-2.3-2.3-3.4-2.5-2.9-1.5-4-1.3-3.4-0.6-3.4-0.1-3.4 0.4-3.4 1-3.5 1.7-3 2.3-2.6 2.8-2 2.9-1.5 3.4-0.9 4.6 0 4.5 0.8 4.6 1.5 4.5 2.1 4.1 2.2 2.8 2.3 1.5 3.4 1.1 3.4 0.3 4.6-0.8 8.9-3.3 5.9-2.8 3.4-2.4 2.6-2.7 2.1-3.5 1-3.6 0 71.9-8-6.2-5.4-5.1-3.4-4.6-3.4-6.8-1.4-1.8-2.3-1-2.3 0.6-1.2 2.2 0.4 6.8-0.2 2.3-0.7 2.3-2 3.4-4.9 4.5-11.1 6.9-4.6 3.4-4.9 4.6-1.9 3.4-0.3 3.4 1.1 10.2 0.1 16 0.9 5.7 1.9 5.7-105.8 0 0-159.5zM318.9 279.3l-2.4 1.2-1.2 1.1-1 2.3 0.1 1.1 0.9 1.3 1.2 0.6 2.2 0.1 3.5-1.5 1.3-1.6 0.4-1.2-0.6-2.2-1.1-0.9-2.3-0.4z"/><path fill="#e9d39d" d="M280 217.8l158.3 0 0 13.1-3.4-3.1-4.6-2.9-4.5-1.9-4.6-1.1-4.5-0.4-4.6 0.3-4.5 1-4.6 2-5.7 4.2-4.7 5.9-2.5 5.7-0.7 5.7 0.3 4.6 1 4.5 1.5 4.6 2.3 4.5 2.7 3.4 2.4 2.1 3.4 2.1 4.6 2 3.4 0.8 3.4-0.2 9.1-4.2 10.3-3 4.5-2.7 0 48.5-5.5-4.4-3.6-3.9-2.5-4-3.2-6.9-2.3-3.3-3.4-2.6-3.4-0.5-3.4 1.8-3.4 4.3-1.5 4.9-0.2 8-1.1 4.5-2.2 3.4-4.1 3.5-14.8 7.5-3.5 1.1-3.4-0.6-7.1-3.5-5.4-0.8-4.6-0.1-2.2 0.4-2.3 1.1-1.4 1.7-0.3 2.3 0.5 1.6 1.2 2 2.3 2.4 5.7 3.6 9.1 3.4 2.2 1.6 2.3 2.9 1.2 2.8 0.4 2.4 0.4 13.7 0.6 5.7 2.1 8-102.6 0 0-159.5zM317 278.2l-2.1 1.1-2.3 2.3-1.1 2.3-0.2 2.3 1.4 2.2 1.5 0.8 2.3 0.2 3.4-0.9 2.3-1.3 2.4-2.2 1.1-2.3-0.1-2.2-1.2-1.7-2.2-1.1-2.3-0.2-2.3 0.5z"/><path fill="#eedbaa" d="M280 217.8l131.4 0-3.8 0.8-4.6 1.6-4 2.2-4 3-4.5 5-3.2 4.5-1.5 3.4-0.7 3.5 0 5.6 0.9 5.7 1.6 5.7 2.3 5.7 1.7 3.1 2.2 2.6 8.8 6.9 2.1 2.2 1.2 2.3 0.3 2.3-0.4 2.3-3.6 10.2-0.4 3.4-0.1 8-0.4 2.3-1 2.3-1.8 2.2-2.3 1.6-4.6 1.9-4.5 1.2-5.7 0.5-6.9-1.7-2.2-0.2-15.2 1.3-5.3 1.3-1.4 1-1.4 2.2-0.2 2.3 0.5 2.3 1.3 2.6 2.5 3.1 6.6 5.7 4.6 2.9 6.8 3.6 2.8 2.6 1.3 4.5 1.6 17.1 1.8 6.9-99.7 0 0-159.5zM315.9 277.1l-3.7 2.2-2.1 2.3-1.5 3.4-0.2 2.3 1.2 2.8 2.3 1.5 2.3 0.3 3.4-0.8 4.6-2.4 3-2.5 2.2-3.5 0.2-2.2-1.2-2.3-3.1-1.9-3.4-0.3-3.4 0.8zM422.4 217.8l15.9 0 0 6.7-3.4-2.2-4.5-2.2-3.5-1.2-4.9-1.1zM438.3 277.6l0 27.2-3.4-2.7-2.8-3.4-1.5-4.6-0.6-5.7 0.2-3.4 1.1-2.3 6.2-4.5z"/><path fill="#f2e2b8" d="M280 217.8l119.2 0-7.1 4.6-8.4 8.7-2.2 3.8-1 5.7 0.2 5.7 1.3 6.8 2.2 8 2.9 7.7 1.4 2.6 1.9 2.2 7.9 5.7 1.3 1.7 0.8 1.7 0.1 3.5-2.8 7.9-0.7 3.5 0.4 10.2-0.9 3.4-1.5 1.5-3.4 1.1-4.5 0.3-8-0.7-4.6 0.1-11.3 3-13.7 1.3-2.3 1.3-1 1.2-1.1 3.4 0 2.3 0.6 2.3 1.5 3.1 2 2.6 3.4 3.4 8.3 7 7.5 5.5 2.7 3.4 1.8 5.7 1.4 11.4 1.4 6.9-96.8 0 0-159.5zM319.2 274.8l-4.1 1.1-3.9 2.3-3.4 3.4-1.8 3.4-0.5 3.4 1 3.5 0.9 1.1 2.2 1.5 3.5 0.2 4.5-1.8 5.7-3.6 3.6-3.1 2.4-3.5 0.4-2.2-0.2-1.2-1.6-2.3-3.5-1.9-4.5-0.4zM436 217.8l2.3 0 0 1.7-3.1-1.7z"/><path fill="#f6e9c7" d="M280 217.8l111.6 0-9.7 6.9-3.5 3.4-1.7 3.4-0.9 5.7 0.7 9.1 4.6 19.4 0.6 5.7-1.2 3.4-6 5.4-1.1 2.5 0.2 1.2 1 1.1 8 4.6 2.6 2.3 1 2.2 0.4 2.3 0.3 4.6-0.4 2.2-1.7 2.3-1.8 1.2-17.6 7.3-5.7 1.2-10.2-0.2-3.1 0.8-1.6 1.1-1.8 2.3-1 2.3-0.4 2.2 0.7 4.6 1 2.3 2.4 3.4 3.4 3.4 16.9 14.8 2.7 3.4 2 5.7 1.4 10.3 1.3 5.7-94.5 0 0-159.5zM318.4 273.6l-5.3 1.9-4.4 2.7-3.3 3.4-2.3 4.6-0.5 4.5 1.3 4.2 1.2 1.5 2.3 1.9 1.1 0.4 2.3 0 4.5-2.2 9.1-6.8 5.2-4.7 2.4-3.4 0.1-2.3-0.6-1.1-2-2.3-1.6-1.1-4.6-1.4-4.6 0.2z"/><path fill="#f6ecd1" d="M280 217.8l104.2 0-6.2 3.9-3.5 3-1.4 2.2-0.8 2.3-0.9 5.7 0.5 9.1 4 17.1 0.5 5.7-0.3 2.3-0.9 2.3-5 7.9-0.7 3.4 0.5 2 1 1.5 5 4.5 2.6 3.4 0.8 2.3 0.3 2.3-0.6 3.4-1.4 2.3-2.5 2.3-7.5 4.5-3.4 1.5-5.7 1-10.2-0.8-2.3 0.3-1.2 0.5-2.5 2.1-1.9 2.2-1.8 3.5-0.5 2.2 0.7 4.6 1 2.3 2.5 3.4 3.3 3.4 9.6 8 9 8.6 2.2 2.8 2.2 5.7 2.4 14.8-92.2 0 0-159.5zM318 272.5l-6.4 2.3-5.2 3.4-4.1 4.5-2.1 4.6-0.6 3.4 0.1 3.4 2 7.5 1.8 3.9 1.6 2.3 1.1 0.8 2.3 0.2 2.3-2.2 3.7-5.6 3.9-4.6 16.2-13.7 1.9-2.2-0.3-1.2-2.1-2.2-5.1-3.6-4.6-1.4-5.7 0.2zM342.9 281.6l0.9 1.2 1.1 0.3 0.8-0.4-0.2-1.1-1.7-0.5z"/><path fill="#f6eedb" d="M280 217.8l97.5 0-4.6 3.5-2.8 3.4-1.6 5.7-0.9 7.9 0.5 8 3.3 12.5 0.8 5.7-0.6 4.6-4.1 9.1-0.5 3.4 0.5 2.3 1.2 2.3 5 5.7 2 3.4 0.6 3.4-0.8 3.4-1.4 2.3-2.4 2.3-5.1 3.4-3.4 1.4-5.7 0.8-10.3-1.2-2.3 0.5-3 1.9-5 4.5-2.5 3.5-0.6 2.2 0.3 2.3 0.8 2.3 4 5.7 4.8 4.5 10.3 8 8 8 2.7 3.4 2.3 5.7 2 13.7-90.1 0 0-159.5zM317.7 271.4l-4.6 1.4-3.5 1.6-4.1 2.7-2.7 2.2-2 2.3-2.1 3.4-1.3 3.4-0.7 3.5-0.3 5.7 0.7 11.2 0.7 4.7 1.1 3.4 1.7 2.3 3.3 1.7 3.5 0.2 4.5-0.6 3.9-1.3 1.7-1.2 0.8-1.1 0.5-2.3-2.1-6.8 0.1-4.6 2-4.5 3.7-4.6 5.4-4.6 5.6-3.8 2.3-0.8 2.3-0.3 5.7 1.3 2.3 0.1 2.3-1.3 1.2-2 0.2-1.1-0.7-2.3-1-1.1-2-1.2-9.1-1.5-6.9-3.5-3.4-1.1-3.4-0.3-4.6 0.5z"/><path fill="#f5f1e6" d="M280 217.8l92.8 0-4 4-1.9 4-2.2 9.1-0.9 8 0.4 5.7 3.3 11.4 0.8 5.7-0.8 4.5-2.7 6.9-0.6 3.4 0.6 2.2 1.2 2.3 5.4 6.9 1.9 3.4 0.5 2.3 0 2.2-0.8 2.3-1.5 2.3-4.9 4.1-4.6 2-5.7 0.5-7.9-1.2-2.3-0.1-3.4 1.4-6.9 4.4-3.4 1.8-3.4 0.5-2.3-0.8-2.3-2.2-3.1-4.7-1.2-2.3-0.7-2.3-0.1-2.3 0.4-2.2 2.4-4.6 3.1-3.4 2.7-2.3 5.6-3.4 2.3-0.6 2.3-0.1 6.8 1 3.5-0.9 3.1-2.8 1.1-2.3 0.1-1.1-0.6-2.3-0.8-1.1-1.8-1.6-2.3-1.3-3.4-0.8-6.8-0.5-8-3.2-5.7-0.5-8 1.6-6.8 2.8-5.4 3.5-4.6 4.5-2.7 4.6-1.8 5.7-0.8 5.7-0.6 11.3 0.1 6.9 0.8 4.5 1.4 3.4 2.2 2.4 2.3 1 3.4 0.3 14.8-2.1 4.6 0 3.4 0.8 3.4 2.2 11.3 10.2 10.3 7.2 3.4 2.9 6.9 7 3 4.6 1.7 5.7 1.4 11.4-88.1 0 0-159.5z"/><path fill="#f5f4f0" d="M280 217.8l89.5 0-2.8 3.5-2.1 4.5-3.4 11.4-1.5 6.8-0.2 3.4 0.3 3.5 4 11.3 0.6 4.6-0.7 4.6-2.8 5.2-2.3 2.3-6.8-5.7-3.4-2-3.5-0.8-7.9-0.1-5.7-2.1-3.4-0.6-3.5 0-4.5 0.8-8 2.4-4.5 1.9-5.2 3.2-4 3.4-2.8 3.4-1.9 3.5-1.7 4.5-1.2 5.7-1.8 18.2 0.2 5.7 1.3 5.3 2.2 3.8 2.3 1.9 2.3 0.7 3.4 0.1 16-2.3 6.8 1 5.7 2.6 22.8 15 7.2 7.2 3.1 4.6 1.8 5.7 1.1 11.4-86.1 0 0-159.5zM358.6 280l2.3 1.9 4.5 5 4.1 5 1.4 2.2 1 3.5-0.1 2.2-0.8 2.3-1.6 2.3-4 3.3-4.5 1.8-4.6 0.3-7.9-1.3-2.3 0-3.4 1-6.9 3.6-4.5 1.1-2.3-0.4-2.3-1.2-2.5-2.5-2.1-3.4-0.8-3.5 0.2-2.2 0.8-2.3 3.1-4.6 3.6-3.1 3.4-1.9 3.4-1 2.3 0 5.7 0.8 3.8-0.5 4-2.2 5.9-5.5 0.7-0.2z"/><path fill="#f0f4f3" d="M280 217.8l86.9 0-2.3 3.5-1.6 3.4-8 20.5-1.1 4.5 0 3.4 0.8 3.5 3.9 7.9 0.8 2.3 0.3 2.3-0.7 2.3-0.4 0.3-1.1 0.1-1-0.4-4.7-3.9-3.4-1.3-3.5-0.2-6.8 0.7-10.2-1.1-5.7 0.8-9.1 2.8-5.7 2.2-4.2 2.2-3.8 2.7-3.5 3-2.7 3.4-2.4 4.6-1.7 4.6-1.3 5.7-1.8 12.5-0.6 6.8 0.4 5.7 1.6 5.7 2.9 4.5 3.2 2.3 2.5 0.6 3.4 0.1 15.9-2.2 6.9 0.8 3.4 1 4.5 2.1 18.3 10.2 3.4 2.4 6.5 6.7 2.7 4.5 1.4 5.7 0.7 10.3-84.2 0 0-159.5zM357.5 284.9l1.1-0.1 2.3 0.6 3.4 2.5 3.5 4 1.4 2.2 0.8 2.3 0 3.4-1.5 3.4-3.1 3-3.4 1.7-2.3 0.6-3.4 0.1-7.9-1.3-2.3-0.1-3.4 0.9-6.9 3.1-2.3 0.5-2.2 0.1-2.3-0.7-2.3-1.4-2.3-2.7-1.1-2.6-0.2-3.4 1.2-3.4 2.5-3.5 3.3-2.7 2.3-1.1 3.4-0.9 8 0.8 3.4-0.3 2.3-0.9 7.5-4z"/><path fill="#e7f2f0" d="M280 217.8l84.7 0-2.6 4.6-6.2 13.7-3 4.9-5.5 7.6-3.5 8-2.4 3-2.2 1.5-2.3 1-12.6 2.1-15.9 5.3-4.6 2.2-4.8 3.1-4.3 3.3-2.1 2.4-3.5 5.7-3 7.9-2.9 14.8-0.8 8 0.4 6.8 1.6 5.7 2.8 4.6 1.8 1.9 2.3 1.5 3.4 1.1 3.4 0.2 16-1.9 4.5 0.2 3.5 0.6 4.5 1.3 5.7 2.5 14.8 7.3 4.6 2.9 5 5.2 2.7 4.5 1.3 5.7 0.4 10.3-82.3 0 0-159.5zM356.3 287.2l2.3-0.3 3.4 1.1 3.4 2.9 2.8 4.4 0.4 3.4-1.1 3.4-2.1 2.5-3.4 2.1-2.3 0.6-3.4 0.2-7.9-1.5-2.3-0.1-3.4 0.7-6.9 2.8-3.4 0.5-2.3-0.5-2.2-1.3-1.5-1.4-1.3-2.3-0.5-3.4 1-3.4 2.5-3.5 3.2-2.2 4.5-1.2 8 0.8 2.3-0.1 3.4-1 6.4-3.1z"/><path fill="#ddefed" d="M280 217.8l82.7 0-6.4 12.9-2.5 4.2-4.3 5.4-6.8 6.6-4.4 7.4-2.5 2.8-4.7 2.9-26 9.7-8.4 5.1-5.2 4.5-4.4 6.9-3.1 7.9-3.2 14.8-1 9.1 0.6 6.9 0.8 3.4 1.4 3.4 3.1 4.6 2.3 2 2.3 1.4 3.4 1.1 3.4 0.4 17.1-1.5 8 0.7 4.5 1.2 5.7 2.2 13.7 5.8 4.5 2.6 4.8 4.6 1.5 2.2 1.5 3.5 0.9 4.5 0 10.3-80.4 0 0-159.5zM354 289.6l3.5-1 3.4 0.6 3.4 2.4 1.9 2.5 1 3.5-0.6 3.4-1.6 2.2-3 2.2-2.3 0.7-3.4 0.2-7.9-1.7-3.5 0-7.9 2.9-3.5 0.7-3.4-0.8-2.2-1.7-1-1.3-0.8-2.3 0.3-3.4 2-3.4 2.9-2.3 2.2-0.8 2.3-0.4 8 1.2 2.3-0.1 2.3-0.6 5.6-2.7z"/><path fill="#d4ede9" d="M280 217.8l80.9 0-5.7 11.1-3.3 4.9-3.5 4-8 7-5.7 8-2.4 2.6-3.2 2.3-4.3 2.3-9.5 4.4-7.9 2.9-4.6 2.2-8.4 5.3-3.9 3.4-4.1 5.7-2.9 5.7-2.3 6.8-2.3 9.6 0-88.2zM355.2 290.6l3.4-0.5 2.3 0.6 2.3 1.6 2.1 3 0.5 3.4-0.7 2.3-1.9 2.2-2.3 1.4-2.3 0.5-2.3 0.1-10.2-2.5-3.4 0.7-5.7 2.5-3.5 0.6-3.4-1-2-2.3-0.6-2.2 0.6-3.4 1.7-2.3 2.6-1.6 3.4-0.6 8 1.6 2.3-0.1 2.3-0.7 6.3-3.2zM278.9 329.4l2 4.6 2.5 3.4 3.5 3.1 3.4 1.8 3.4 1 4.5 0.3 12.6-1.2 5.7-0.1 5.7 0.7 5.7 1.5 17 6.1 4.6 2.2 4.5 4.1 1.6 2.1 1.5 3.5 0.7 4.5-0.4 10.3-78.5 0 0-47.9z"/><path fill="#cbebe6" d="M280 217.8l79 0-4.7 9.1-3.7 5.3-3.4 3.5-8.3 7.2-6.5 8-3.4 3.6-4.5 3.2-6.1 3.4-16.7 7.5-8 5-3.4 2.8-3.6 4.1-2.9 4.5-2.7 5.7-2.2 6.2 0-79.1zM356.3 291.7l2.3-0.1 2.3 0.7 2.2 1.8 1.1 2.3 0.2 2.3-0.9 2.3-1.5 1.5-2.3 1.2-2.2 0.3-3.5-0.5-5.2-2.5-2.7-2-1.2-0.2-0.9 1-4.9 3.4-4.4 1.6-2.3-0.2-1.1-0.5-1.2-0.9-1.1-2.1-0.1-1.3 0.6-2.2 0.8-1.2 2.1-1.5 2.3-0.6 3.4 0.6 3.4 1.5 3.4 2.2 1.2-0.2 0.5-0.8 4.6-3.5 4.4-2.2zM279.5 336.3l2.7 3.4 2.4 2.1 2.3 1.4 3.4 1.5 3.4 0.9 3.4 0.3 17.1-1.2 4.5 0.3 5.7 1 8 2.1 14.8 4.9 4.1 2.6 2.9 3.4 1.5 3.5 0.5 3.4-0.8 11.4-76.5 0 0-42.1z"/><path fill="#bce5df" d="M280 217.8l77.3 0-4.2 8-3.4 4.6-3.6 3.6-9.2 7.8-10.2 11.3-4.3 3.5-5.5 3.4-15.2 7.2-11.4 7.4-3.7 3.6-2.6 3.4-2.7 4.6-2.4 5 0-73.4zM357.5 293l2.2 0.3 1.4 0.8 1.1 1.2 0.8 2.3-0.4 2.2-0.8 1.2-1.6 1.1-1.6 0.5-2.3 0-2.3-0.7-2.2-1.7-0.9-1.5 0-1.1 1.6-2.3 2.7-1.8 2.1-0.5zM332.4 296.2l1.1-0.3 2.3 0 1.4 0.5 1.5 1.2 0.6 1.1-0.1 1.1-0.7 1.2-1.4 1.1-1.3 0.6-2.3 0.2-2.2-1.2-0.8-1.9 0-1.1 0.5-1.1 1.2-1.2zM279.2 339.7l2.1 2.3 3.3 2.5 3.4 1.8 3.4 1.1 6.8 0.7 16-1 8 0.8 22.7 5.5 4.6 2.2 2.5 2.3 2 3.4 0.7 3.4 0 3.5-1.3 9.1-74.5 0 0-38z"/><path fill="#aee0d8" d="M280 217.8l75.5 0-3.6 6.9-2.6 3.4-3.2 3.3-11 9.2-10.7 11.6-3.9 3.2-5.1 3.4-14.9 7.6-11.1 7.2-5.6 5.7-4.9 7.8 0-69.3zM356.3 294.9l2.3-0.2 1.4 0.6 1 1.1 0.3 2.3-0.5 1.1-1.1 0.9-2.2 0.5-1.4-0.2-1.8-1.2-0.6-1.1-0.1-1.1 0.6-1.2 1.2-1.1zM333.5 297.8l1.2 0.2 0.7 0.7-0.2 1.1-1.7 0.4-0.9-1.5zM279.3 343.1l5.3 4.1 3.4 1.5 3.4 1.1 5.7 0.6 14.8-1 8 0.6 23.9 4.5 3.4 1.2 3.4 2.3 2.1 3.3 0.6 3.4-0.2 3.5-1.8 9.1-72.4 0 0-34.6z"/><path fill="#a0dad1" d="M280 217.8l73.7 0-3 5.7-2.7 3.4-13.4 11.4-13.2 13.7-7.6 5.7-13.3 7.2-11.6 7.6-5 4.6-5 6.7 0-66zM357.5 296.9l1.1 0 0.6 0.7-0.2 1.1-1.5 0.3-0.6-0.3-0.2-1.1zM279.8 346.5l5.9 3.7 6.9 2.1 5.6 0.4 11.4-0.9 6.9 0.2 26.2 3.8 3.7 1 3.1 1.8 1.8 2.7 0.5 3.4-2.6 12.6-70.3 0 0-31.6z"/><path fill="#8fd3c9" d="M280 217.8l71.9 0-2.5 4.6-2.2 2.8-14.3 12-14.5 14.8-6.1 4.6-12.9 7.4-11.1 7.4-5.2 4.5-4.2 5.1 0-63.2zM279.1 348.8l3.2 2.2 3.4 1.7 6.9 1.9 5.6 0.5 11.4-0.9 4.6 0.1 15.9 2.3 12.6 0.9 3.4 0.8 2.3 1.2 1.3 1.8 0.4 3.4-3.3 12.6-67.9 0 0-28.7z"/><path fill="#81cec2" d="M280 217.8l70 0-2.7 4.6-2.1 2.3-13.9 11.4-14.8 14.9-5.7 4.4-11.4 7-12.5 8.5-4.6 3.9-3.4 3.8 0-60.8zM280 352.1l6.9 3.5 6.8 1.6 5.7 0.3 12.5-0.6 18.2 2.5 12.6 0.2 2.8 0.6 1.7 0.9 0.7 1.4 0.1 2.2-3.9 12.6-65.2 0 0-26z"/><path fill="#73c3b8" d="M280 217.8l67.9 0-1.8 2.9-2.6 2.8-13.4 11.1-16.4 16.3-6 4.5-22 14.8-6.8 6.2 0-58.6zM279.6 354.5l6.1 3.1 8 2.1 5.7 0.4 12.5-0.1 18.2 3 10.3 0 2.8 0.6 0.8 1.1 0 1.2-2.2 6.8-1.1 4.6-61.8 0 0-23.3z"/><path fill="#61b7ac" d="M280 217.8l65.6 0-3.8 4.6-13.6 11.4-16.3 16.1-5.6 4.4-21.7 15.1-5.7 4.9 0-56.5zM279.1 356.8l5.5 2.9 5.7 1.9 6.8 1.2 12.5 0.5 6.9 1 10 2.7 7 3.4 1.9 2.3 0.8 4.6-57.3 0 0-20.6z"/><path fill="#52aca3" d="M280 217.8l63.2 0-4.4 4.6-12.1 10.2-12.4 12.6-5 4.5-18.3 13.7-7.6 5.2-4.5 3.8 0-54.6zM280 360l5.7 2.7 5.7 1.9 5.7 1 13.7 1.6 7.9 2.1 6.9 3.4 2.7 2.3 1.7 2.3-51.1 0 0-18z"/><path fill="#44a299" d="M280 217.8l60.5 0-3.5 3.5-11.4 9.8-17.8 17.5-28.9 21.9 0-52.7zM279.8 362.5l5.9 2.9 5.7 1.9 16 3.3 5.7 1.5 5.6 2.6 3.7 2.6-43.5 0 0-15.4z"/><path fill="#33958d" d="M280 217.8l57.7 0-13.3 11.8-13.2 13.3-6.2 5.7-14.3 11.4-11.8 8.6 0-50.8zM279.1 364.7l4.3 2.4 5.7 2.4 17.1 4.9 7.1 2.9-34.4 0 0-12.7z"/><path fill="#298b83" d="M280 217.8l54.8 0-11.5 10.3-19.7 19.3-12.5 10.3-12.2 9.1 0-49zM280 368l9.1 4.4 13.6 4.9-23.8 0 0-10z"/><path fill="#1f827a" d="M280 217.8l51.9 0-10.9 10-20 19.6-11 9.2-11.1 8.4 0-47.2zM279.5 370.4l6.2 3.4 7.8 3.5-14.6 0 0-7.3z"/></g><path fill="none" stroke="#000" stroke-width="0.95" stroke-linejoin="round" d="M438.3 333.5l-14.8-11-3.4-1.9-3.4-0.9-2.3 0-2.3 0.3-5.7 1.9-3.4 1.4-3 1.6-2.7 1.8-2 1.6-3.2 3.4-1.7 2.3-1.3 2.3-1.2 3.4-0.8 4.5-0.9 13.7 0.2 6.8 0.4 3.5 0.9 3.4 1.2 3.4 1.1 2.3M413.3 234.9l-2.3 0.3-2.3 0.7-2.2 1.3-1.2 1.1-1.2 1.4-1 2.1-0.8 3.4 0 2.2 0.2 2.3 0.6 2.3 1 2.3 1.9 2.3 1.6 1 1.1 0.4 2.3 0.3 2.3-0.2 3.4-1 2.3-1 2.2-1.5 1.6-1.5 1.7-2.2 0.5-1.2 0.7-2.3 0.1-2.2-0.4-2.3-0.8-1.8-1.1-1.8-2.3-2.1-2-1.1-2.5-0.9-2.3-0.3M400.5 217.8l-4.2 2.3-3.5 2.6-3.3 3.1-5.1 5.7-1.4 2.3-1 2.3-0.5 2.2-0.3 3.5 0.3 5.6 1.3 6.9 2.4 7.9 2.3 5.7 1.2 2.3 1.8 2.3 2.3 2 4.5 3.1 2 1.7 0.9 1.2 1 2.2 0.2 1.2-0.1 2.3-0.6 2.2-2.1 5.7-0.7 3.5-0.1 3.4 0.4 6.8-0.4 2.3-0.4 1.1-0.8 1.2-1.6 1.1-2.2 0.8-2.3 0.5-4.6 0.1-7.9-0.8-3.5 0-2.2 0.4-5.7 1.6-2.3 0.5-3.4 0.5-8 0.5-2.3 0.3-2.2 1-1.2 1-1 1.6-0.6 2.2 0 2.3 0.6 2.3 1.1 2.3 2.4 3.4 3.5 3.4 6.5 5.5 3.5 2.7 5.6 3.9 1.7 1.6 0.7 1.1 1.1 2.4 0.8 3.3 0.7 4.6 0.8 7.9 0.7 3.4 1 3.5M438.3 220.2l-4.5-2.4M316.5 275.6l-3.4 1.6-1.6 1-1.9 1.7-2.2 2.8-0.6 1.2-0.7 2.3-0.1 2.2 0.2 1.3 1 2.2 1.1 1.1 1.3 0.9 1.2 0.3 1.1 0.1 2.3-0.3 2.3-0.8 2.2-1.1 3.5-2.2 2.2-1.7 3.2-3.2 1.4-2.3 0.3-1.1 0.1-1.1-0.3-1.2-0.6-1.1-1-1.1-1.6-1.2-1.5-0.6-2.2-0.4-2.3 0-2.3 0.4M372.1 217.8l-2.1 2-1.2 1.5-1.4 2.2-0.9 2.3-1.3 4.6-1.2 5.7-0.7 4.5-0.2 3.4 0.2 3.4 0.4 2.3 3.1 10.3 0.7 3.4 0.1 2.3-0.2 2.2-0.5 2.3-3.1 8-0.2 2.3 0.7 2.2 1.3 2.3 5.5 6.9 0.7 1.1 1.1 2.3 0.6 2.3-0.1 2.2-0.8 2.3-1.5 2.3-2.3 2.3-2.2 1.5-2.3 1.2-2.3 0.8-2.3 0.5-3.4 0.1-2.3-0.2-5.6-1.1-2.3 0-2 0.6-1.4 0.7-6.9 4.3-3.4 1.5-2.3 0.4-1.1-0.1-1.1-0.3-1.2-0.6-1.1-1-1.2-1.2-2.5-3.7-1.3-2.3-0.8-2.3-0.1-2.3 0.4-2.2 0.9-2.3 1.4-2.3 1.9-2.3 3.6-3.2 3.4-2.3 2.2-1 2.3-0.6 2.3-0.1 6.8 0.9 2.3-0.4 1.2-0.4 1.2-0.8 2.3-2.3 1.2-2.3 0.2-1.1-0.1-1.2-0.5-1.1-0.9-1.4-2.3-2-2.3-1.1-3.4-0.8-4.6-0.1-2.2-0.3-2.3-0.8-3.4-1.6-2.3-0.8-2.3-0.4-3.4 0-3.4 0.5-4.6 1.2-3.4 1.2-3.4 1.5-2.6 1.5-3.2 2.3-2.6 2.2-2 2.3-1.6 2.3-1.1 2.3-0.9 2.2-1 3.5-0.9 6.8-0.7 11.4 0.1 6.8 0.9 4.6 0.8 2.1 0.7 1.3 0.9 1.1 1.5 1.2 1.4 0.6 1.2 0.3 2.3 0.2 3.4-0.3 8-1.4 3.4-0.4 4.5 0.1 3.4 0.6 2.3 1 1.2 0.7 11.8 9.9 9.8 6.8 3.4 2.6 7.7 7.7 1.7 2.3 1.3 2.3 0.9 2.3 0.8 3.4 1.3 11.4M361.8 217.8l-5.7 11.4-3.2 5.1-2.3 2.8-2.2 2.4-6.9 6.1-1.4 1.8-3.5 5.7-1.9 2.3-1.2 1.1-2.2 1.6-3.8 1.9-12.2 5.1-6.8 2.4-4.6 2.1-4.5 2.6-3.9 2.6-2.9 2.3-2.1 2.2-1.7 2.3-2.1 3.4-1.7 3.4-1.7 4.6-1.3 4.6-1.1 4.5-1.4 6.8-0.6 4.3M278.9 323.8l0.6 3.4 0.7 2.2 0.9 2.3 1.3 2.3 1.6 2.3 1.7 1.8 2.3 1.7 2.3 1.2 3.4 1.1 3.4 0.3 3.4-0.1 9.1-1 4.6-0.3 4.5 0.2 3.5 0.5 4.5 1.2 4.6 1.6 14.8 5.9 3.4 1.8 2.3 1.6 2.2 2.2 2.2 3 1.1 2.3 0.7 2.3 0.5 3.4-0.1 10.3M356.3 289.5l2.3-0.1 1.1 0.2 2.3 1 1.2 0.8 1.4 1.6 0.8 1.2 0.9 2.2 0.2 2.3-0.2 1.1-1.2 2.3-1 1.1-1.5 1.2-2.8 1.1-2.3 0.3-2.3-0.2-6.8-1.8-2.3-0.2-2.3 0.3-5.7 2.4-2.3 0.7-2.3 0.3-1.1-0.1-1.8-0.5-1.6-1-1.2-1.3-0.9-2.3-0.2-1.1 0.4-2.3 1.1-2.3 1.9-2 2.3-1.3 2.3-0.6 2.3 0 5.7 1.1 2.2 0.2 1.2-0.1 2.3-0.7 5.6-2.7 2.1-0.7M354 217.8l-3 5.7-2.6 3.5-3.5 3.3-7.2 5.8-3 2.6-3.1 3.1-6.1 6.8-3.5 3.4-4.2 3.4-3.4 2.3-13.9 7.4-11.3 7.4-2.7 2.3-3.1 3.2-2 2.5-2.5 3.8M278.9 345.2l3.4 2.7 3.4 1.9 3.4 1.3 3.5 0.8 2.2 0.3 3.4 0.1 11.4-0.9 5.7 0.1 4.6 0.5 11.4 1.9 10.2 1.4 3.4 0.7 2.3 0.9 2.3 1.4 1.1 1.3 0.9 1.7 0.5 2.3-0.1 3.4-1.8 6.8-0.5 3.5M357.5 296.3l1.1 0.1 1.2 1.2-0.2 1.1-1 0.8-1.1 0.1-1.4-0.9-0.1-1.1 1.2-1.2M345.3 217.8l-1.8 2.3-2 2.1-10.2 8.4-3.4 3.1-11.4 11.6-4.8 4.4-5.8 4.6-15.6 11-5.7 3.8-2.9 2.3-2.8 2.6M278.9 357.1l2.3 1.3 3.4 1.7 3.4 1.3 3.4 0.9 3.4 0.6 3.4 0.4 10.3 0.5 4.6 0.4 5.6 1.2 5.7 1.7 5.2 2.2 1.9 1.1 1.5 1.2 0.9 1.1 0.6 1.1 0.8 3.5"/></g><g font-size="9.2" fill="#000" stroke="#000" stroke-width="0.12"><circle cx="341.6" cy="246" r="1.05" fill="#000"/><text x="344.2" y="249.5">Fp1</text><circle cx="375.6" cy="246" r="1.05" fill="#000"/><text x="378.2" y="249.5">Fp2</text><circle cx="315.2" cy="266.1" r="1.05" fill="#000"/><text x="317.8" y="269.6">F7</text><circle cx="402" cy="266.1" r="1.05" fill="#000"/><text x="404.6" y="269.6">F8</text><circle cx="336.7" cy="270.9" r="1.05" fill="#000"/><text x="339.3" y="274.4">F3</text><circle cx="380.5" cy="270.9" r="1.05" fill="#000"/><text x="383.1" y="274.4">F4</text><circle cx="358.6" cy="271.9" r="1.05" fill="#000"/><text x="361.2" y="275.4">Fz</text><circle cx="291.4" cy="276.1" r="1.05" fill="#000"/><text x="294" y="279.6">FT9</text><circle cx="425.8" cy="276.1" r="1.05" fill="#000"/><text x="428.4" y="279.6">FT10</text><circle cx="321.2" cy="283.1" r="1.05" fill="#000"/><text x="323.8" y="286.6">FC5</text><circle cx="396" cy="283.1" r="1.05" fill="#000"/><text x="398.6" y="286.6">FC6</text><circle cx="346.4" cy="284.8" r="1.05" fill="#000"/><text x="349" y="288.2">FC1</text><circle cx="370.8" cy="284.8" r="1.05" fill="#000"/><text x="373.4" y="288.2">FC2</text><circle cx="305" cy="297.8" r="1.05" fill="#000"/><text x="307.6" y="301.2">T7</text><circle cx="412.2" cy="297.8" r="1.05" fill="#000"/><text x="414.8" y="301.2">T8</text><circle cx="332.8" cy="298.1" r="1.05" fill="#000"/><text x="335.4" y="301.6">C3</text><circle cx="384.4" cy="298.1" r="1.05" fill="#000"/><text x="387" y="301.6">C4</text><circle cx="358.6" cy="298.1" r="1.05" fill="#000"/><text x="361.2" y="301.6">Cz</text><circle cx="321.2" cy="312.1" r="1.05" fill="#000"/><text x="323.8" y="315.6">CP5</text><circle cx="396" cy="312.1" r="1.05" fill="#000"/><text x="398.6" y="315.6">CP6</text><circle cx="346.2" cy="310.9" r="1.05" fill="#000"/><text x="348.8" y="314.4">CP1</text><circle cx="371" cy="310.9" r="1.05" fill="#000"/><text x="373.6" y="314.4">CP2</text><circle cx="315.2" cy="329.1" r="1.05" fill="#000"/><text x="317.8" y="332.6">P7</text><circle cx="402" cy="329.1" r="1.05" fill="#000"/><text x="404.6" y="332.6">P8</text><circle cx="336.7" cy="324.6" r="1.05" fill="#000"/><text x="339.3" y="328.1">P3</text><circle cx="380.5" cy="324.6" r="1.05" fill="#000"/><text x="383.1" y="328.1">P4</text><circle cx="358.6" cy="323.4" r="1.05" fill="#000"/><text x="361.2" y="326.9">Pz</text><circle cx="342.2" cy="348.8" r="1.05" fill="#000"/><text x="344.8" y="352.2">O1</text><circle cx="375" cy="348.8" r="1.05" fill="#000"/><text x="377.6" y="352.2">O2</text><circle cx="358.6" cy="351.6" r="1.05" fill="#000"/><text x="361.2" y="355.1">Oz</text></g><circle cx="358.6" cy="297.6" r="75.2" fill="none" stroke="#000" stroke-width="2.8"/><path fill="none" stroke="#000" stroke-width="2.7" stroke-linejoin="round" d="M344.8 222.8L354.6 212.7Q358.6 209 362.6 212.7L372.4 222.8"/><path fill="none" stroke="#000" stroke-width="2.6" stroke-linejoin="round" d="M432.2 281.9C433.6 279.7 437.9 278.9 439.9 280.9C440.7 281.9 440.9 283.6 440.9 285.6L441 307.6C441.1 310.1 442 311.6 441.8 314.1C441.5 317.2 438.8 318.1 436.1 317.8C434.6 317.6 433.4 316.9 432.8 315.9"/><path fill="none" stroke="#000" stroke-width="2.6" stroke-linejoin="round" d="M285 281.9C283.6 279.7 279.3 278.9 277.3 280.9C276.5 281.9 276.3 283.6 276.3 285.6L276.2 307.6C276.1 310.1 275.2 311.6 275.4 314.1C275.7 317.2 278.4 318.1 281.1 317.8C282.6 317.6 283.8 316.9 284.4 315.9"/><clipPath id="cp11"><circle cx="551.2" cy="297.6" r="75.2"/></clipPath><g clip-path="url(#cp11)"><g filter="url(#bl)" fill-rule="evenodd"><circle cx="551.2" cy="297.6" r="78.2" fill="#cc9a4c"/><path fill="#d2a75c" d="M472.7 217.8l158.3 0 0 159.5-159.5 0 0-159.5zM605.7 296.4l-0.8 1.2 0 1.1 1 1.9 2.3 2 4.5 1.7 2.3-0.1 1.2-0.7 0.3-1.4-0.4-1.1-1.6-2.3-1.8-1.7-3.4-1.5-2.3 0.2-1.1 0.6z"/><path fill="#d9b76f" d="M472.7 217.8l158.3 0 0 159.5-159.5 0 0-159.5zM605.1 291.9l-2.9 2.2-0.8 1.5-0.5 2 0.6 3.4 2.1 3 4.6 3.6 5.3 2.5 4.9 0.9 3.5-0.5 2.2-1.6 1.2-2.2 0-2.3-2.1-3.4-5.9-5.8-4.6-3.2-3.4-1-3.4 0.5z"/><path fill="#dfc37e" d="M472.7 217.8l158.3 0 0 159.5-159.5 0 0-159.5zM605.4 288.4l-4.1 2.3-2.1 2.3-1.2 2.3-0.4 2.3 0.2 2.2 0.9 2.3 1.4 2.3 2.4 2.6 3.4 2.8 6.8 3.9 5.7 1.7 3.5 0 2.2-0.5 3.4-2.3 1.2-1.7 0.7-2 0.2-2.2-0.4-2.3-1.7-3.2-4.5-4.8-5.7-5-3.4-2.4-3.4-1.1-4.6 0.4zM523.3 294.1l-2.8 1.9-1.9 2.7-1.3 4.5 0 3.5 1 2.2 2.2 1.8 3.4 0.9 2.6-0.4 2-1.1 2.4-3.4 1.5-4.6-0.1-3.4-0.9-2.3-1.8-1.8-2.3-0.9-3.4 0.2zM562.5 323.7l-0.9 1.2 0.5 1.1 2.8 0.9 2.3-0.4 1-0.5 0.7-1.1-0.6-1.3-2.2-0.7-3.5 0.8z"/><path fill="#e4ca8c" d="M472.7 217.8l158.3 0 0 83.7-3.2-3.9-11.6-10.4-2.3-1.4-3.4-0.9-2.3 0.1-3.4 0.8-5 2.6-2.5 2.3-1.8 2.3-1 2.3-0.3 2.3 0.2 2.2 0.9 2.3 1.3 2.3 2.9 3.4 6.4 5.4 6.8 4 5.7 1.9 4.6 0.3 4.5-1.3 3.5-3.1 0 62.3-159.5 0 0-159.5zM526.9 289.6l-3 0.4-2.3 0.9-2.2 1.4-2.3 2.4-2.5 5.1-0.7 3.4-0.1 3.5 1 3.8 1.1 1.5 2.1 1.5 5.9 2.6 5.7 0.9 2.3-0.5 1.7-1.9 3.3-10.2 0.6-5.7-0.9-3.4-2.4-3.3-3.4-1.9-3.5-0.5zM554.3 315.8l-5.3 1.8-4.1 2.7-0.9 1.2-0.6 2.2 1.2 3.5 3.3 3.4 5.6 2.7 6.9 1.3 5.7-0.3 4.5-1.9 2.3-1.9 1.5-2.2 0.9-2.3 0.2-2.3-0.5-2.2-1-1.8-1.3-1.7-2.1-1.5-3.4-1.3-5.7-0.4-6.8 0.9z"/><path fill="#e9d39d" d="M472.7 217.8l158.3 0 0 79.8-9.1-8-5.7-5.7-2.3-1.2-3.4-0.5-3.5 0.4-3.4 1-3.4 1.6-3.2 2.1-2.7 2.3-2.9 3.4-1.1 2.3-0.4 2.3 0.4 2.2 1 2.3 4.4 5.7 6.8 6.2 8 5.4 5.7 2.7 5.7 1.2 4.5-0.4 4.6-2.2 0 56.6-159.5 0 0-159.5zM526.5 286.2l-4.9 1.3-3.4 1.8-2.7 2.6-1.8 2.8-1.6 4-0.9 5.7 0.4 4.5 1.4 3.5 4 3.4 10.1 5.7 5 3.4 8.9 8.1 4.6 3 4.5 1.7 5.7 1.3 4.6 0.5 4.5-0.2 4.6-1.3 3.4-2.1 2.8-3 1.9-3.5 0.9-3.4 0-4.5-1.1-3.8-2.2-4.2-3.5-3.6-2.2-1.4-2.3-0.7-5.7-0.4-12.5 1.1-3.4-0.7-1.1-1.1-0.4-1.2-1.5-10.2-0.9-2.3-1.5-2.3-2.5-2.3-3.5-1.6-3.4-0.7-3.5 0z"/><path fill="#eedbaa" d="M472.7 217.8l158.3 0 0 76.8-7.5-6.2-6.2-6.9-2.3-1.3-2.3-0.5-5.7 0.6-5.6 1.8-5.6 2.9-11.5 7.6-3.4 1-1.2-0.1-2.3-1.1-6.8-6.5-2.3-1.5-2.2-0.9-2.3-0.2-2.3 0.6-8 4.9-2.3 0.4-2.2-0.6-10.3-4.9-4.5-1.1-4.6-0.1-4.5 0.8-5 1.7-4.1 2.3-2.3 2.2-1.7 2.4-1.5 3.4-1.1 4.5-0.4 4.6 0.8 5.7 1 2.3 1.7 2.2 14 10.3 13.4 13.1 2.6 1.7 3.1 1.3 11.3 2.5 5.7 0.6 5.7-0.8 4.8-2.5 2.1-1.7 2.3-2.8 2.9-5.7 1.2-5.7 0.1-4.6-1.5-9.1 0.1-3.4 0.7-2.3 1-1.1 1.1-0.3 2.3 0.3 3.4 1.8 13.7 11.3 6.8 4.7 5.7 3.1 4.6 1.5 3.4 0.4 4.5-0.5 3.5-1.3 0 51.9-159.5 0 0-159.5z"/><path fill="#f2e2b8" d="M472.7 217.8l158.3 0 0 74.1-6.9-5.4-5.7-7.3-1.5-1-1.9-0.5-4.5-0.1-5.7 1.1-5.7 2-9.1 4.4-4.6 1.1-2.3-0.2-2.2-0.8-8-5-4.6-1.7-5.7 0.1-9.1 2.4-3.4 0.4-3.4-0.2-9.1-2-5.7-0.3-5.7 1.1-6.8 2.5-4.6 2.2-3.1 2.6-1.8 2.3-1.5 3.4-1.2 5.7-0.4 5.7 0.9 5.7 2.6 4.5 2.3 2.3 8.9 6.8 3.8 3.5 11.1 12.7 2.3 2.2 2.3 1.5 3.4 1.3 16 3.9 4.5 0.4 5.7-1.4 4.6-2.8 3.4-3.7 2.4-3.9 2.1-5.5 1.7-7 1.3-10.3 0.5-1.1 1.1-1.2 1.1-0.2 2.3 1.1 19.4 13.5 5.7 3 4.5 1.3 3.4 0.3 3.4-0.4 3.5-1.1 0 47.5-159.5 0 0-159.5zM484.8 273.6l-0.7 0.8-0.1 1.5 1.2 0.8 1.1-0.1 0.6-0.7 0-1.1-0.6-1-1.1-0.4z"/><path fill="#f6e9c7" d="M472.7 217.8l158.3 0 0 71.6-5.7-4.4-5.7-7.7-1.2-0.8-2.2-0.7-4.6-0.2-5.7 0.8-6.3 1.8-9.6 3.5-2.3 0.4-4.6-0.9-9.1-5.2-4.5-1.3-5.7 0-10.3 2.1-3.4 0.2-12.5-1.8-4.6 0-5.7 1.4-11.4 4.7-4.8 2.6-2.7 2.3-1.7 2.2-1 3.1-1 11.7 0.6 5.7 1.4 3.5 1.5 2.2 3.2 3.3 7.2 5.8 4.8 4.6 13.8 17.1 2.7 1.8 2.2 1.1 10.3 2.7 6.8 4.2 3.4 1.3 3.5 0.1 4.5-1.5 4.6-2.9 4.4-4.5 2.4-3.5 2.2-4.5 4.6-15.4 1.2-1.9 2.2-1.6 2.3 0.1 3.4 1.3 4.3 2.7 8.3 6.2 3.4 2 3.4 1.4 3.4 0.8 3.4 0.2 3.4-0.3 3.5-1 0 43.1-159.5 0 0-159.5zM483.7 266.8l-1.9 0.9-1.2 1.9-0.3 2.9 0.7 3.4 1.1 2.3 2 2.2 2.2 1.1 2.3 0 1.9-1 1.3-2.3 0-2.3-0.5-2.3-1.1-2.2-1.7-2.3-2.2-1.7-2.2-0.7z"/><path fill="#f6ecd1" d="M472.7 217.8l158.3 0 0 69.1-3.9-3-4.2-5.7-2.2-2.2-2.3-1.4-2.2-0.5-4.6-0.3-4.6 0.5-14.8 3.7-3.4 0.5-4.5-0.9-9.9-5.1-3.8-1-6.8 0.1-12.6 1.7-3.4-0.3-7.9-1.6-4.6-0.2-3.4 0.4-3.4 1.1-22.8 10.6-2.8 1.7-0.9 1.2-0.4 2.2 0.9 8 0.2 10.3 1.4 4.5 2 3.4 3.2 3.4 8.1 6.9 4.5 4.5 4.5 5.7 8.9 12.6 3.4 2.6 10.3 5.5 2.1 2.1 3.9 5.7 2.2 2.3 2 1 2.3 0.4 2.3-0.1 3.4-0.9 5.7-3.1 5.7-5 4.5-5.5 3.6-6.2 1.7-4.5 2.2-10.3 1.3-3.4 1.5-1.5 2.3-0.5 3.4 1.3 10.2 8.3 5.7 2.9 3.4 0.9 4.6 0.4 4.5-0.5 3.5-1 0 38.7-159.5 0 0-159.5zM479.3 260l-1.1 1.1-1.2 2.3-0.6 2.3-0.1 3.4 1.2 4.5 4.3 8.8 1.1 1.2 2.3 1.6 3.4 0.8 4.6-0.6 2.7-1.5 0.9-2.3-1-4.5-2.6-6.4-3.4-5.8-3.5-4-2.2-1.6-2.3-0.4-2.3 0.9z"/><path fill="#f6eedb" d="M472.7 217.8l158.3 0 0 66.5-2.3-1.9-4.5-5.3-2.3-2.2-2.3-1.4-3.4-0.9-3.5-0.4-4.5 0.2-14.8 2.8-4.6 0.2-4.5-1.1-8.6-4.1-4-1.1-6.8-0.4-13.7 0.8-13.6-2.8-4.6 0.4-3.4 1.3-10.7 6.4-7.5 3.2-5.7 1.2-3.4-0.6-2.1-1.5-1.3-1.6-3.1-5.3-4.5-10.2-3.7-12.6-1.3-1.6-1-0.6-2.4-0.2-2.3 0.8-2.2 1.6-2.3 2.3-3.2 5.7-1.4 5.8 0-43.4zM471.5 265.7l0.7 3.4 1.2 3.4 3.7 6.8 1.8 4.6 1.7 2.7 2.3 2 2.3 1.2 2.3 0.6 6.8 0.8 2.3 1 1.1 0.9 1.2 1.7 0.8 2.8 0.2 6.8 0.6 3.4 1.3 3.4 2.1 3.4 3.1 3.4 8.1 6.9 4.4 4.5 4.5 5.7 9.1 13.7 2.2 2.3 7.6 5.7 2.4 2.2 2.5 3.5 4.6 7.9 3.2 2.3 4.8 1.2 5.7-0.4 5.9-1.9 5.6-3.4 5.1-4.6 4.8-5.7 4.5-6.8 4.8-9.5 1.1-1.5 1.2-0.5 2.3 0.3 9.1 3.8 5.7 1.3 4.5 0.2 3.4-0.2 6.9-1.8 0 34.1-159.5 0 0-111.8z"/><path fill="#f5f1e6" d="M472.7 217.8l158.3 0 0 63.7-8-7.7-2.4-1.3-3.3-1.1-4.6-0.7-4.5 0.1-13.7 2-4.5 0.1-4.6-1.1-9.1-3.8-3.4-1-5.7-0.7-14.8-0.7-4.4-1.1-8.1-2.8-3.5-0.6-3.4 0.4-2.2 1.1-11 8.8-5 2.9-5.7 1.8-2.3 0.1-2.2-0.4-2.3-1.2-2.3-2.3-2-3.2-1.9-4.6-1.1-4.5-0.2-3.4 0.3-3.5 0.9-3.4 2.9-5.2 2.2-2.3 2.3-1.5 4.6-1.5 11.4-0.7 3.4-1.3 1.1-1.3 0.7-2.1-0.3-3.4-0.9-2.3-1.6-2.3-2.4-2.1-2.5-1.3-3.2-1.1-6.9-0.5-7.9 1.4-8.8 3.6-7.2 4.6-6.8 6.2-4.6 6.3 0-25.1zM472.1 278.2l4.6 10.2 2.8 3.8 3.4 2.3 3.4 1 5.7 0.9 2.3 0.9 1.2 1.2 2.1 9.3 1.6 3.4 2.3 3.4 3.2 3.4 9.4 8 4.2 4.6 4.2 5.7 9 13.6 11.3 11.4 7.3 12 2.3 2 4.2 2-85.1 0 0-100.1zM628.7 348.7l2.3-0.9 0 29.5-59.6 0 5.8-2.3 5.6-3.4 5.5-4.6 10.8-10.3 4.5-3 4.6-1.4 13.7-1.7 6.6-1.8z"/><path fill="#f5f4f0" d="M472.7 217.8l16.9 0-5.5 3.1-4.6 3.3-4.3 3.9-3.7 4.2 0-14.5zM521.6 217.8l109.4 0 0 60.8-4.2-3.8-3.2-2.3-2.9-1.4-3.4-1.1-8-0.9-13.6 1.5-5.7-0.2-4.6-1.1-11.4-4.2-18.2-2.5-4.6-1.3-3.4-1.6-6.2-4.3-3.1-3.4-1.7-3.4-4.6-16-1.7-4.5-3.7-5.7-2.3-2.3-3.1-2.3zM509.1 246.1l5.7-0.1 5.7 1.8 2.3 1.4 1.8 1.7 1.3 2.2 0.4 2.3-0.3 2.3-1.3 3.4-4 5.7-2.2 2.3-3.2 2.3-5 2-2.3 0.2-2.3-0.4-3.4-2.2-2.7-4.2-1.3-5.7 0.3-4.5 1.9-4.6 3.1-3.4 2.1-1.4 2.6-0.9zM472 289.6l2.3 4.5 2.9 3.9 3.4 2.3 8 2.5 2.3 1.5 8.9 11.5 14.5 12.5 5.3 6.8 10 15.4 10.7 12 6.4 10.5 3.8 4.3-79 0 0-88.7zM629.8 353.1l1.2-0.5 0 24.7-47.7 0 5.6-3.5 11.3-8.2 5.7-3.6 5.7-2.5 17.7-6.2z"/><path fill="#f0f4f3" d="M472.7 217.8l6.4 0-7.6 6.7 0-6.7zM529.6 217.8l101.4 0 0 58.2-6.9-4.9-3.4-1.5-4.5-1.2-8-0.9-12.5 1-4.6-0.2-4.5-1.1-12.6-4.1-15.9-3.1-5.7-2.3-4.7-3.4-3.7-4.6-2.2-4.5-6.6-18.3-2.6-4.5-3.8-4.6zM509.1 251.8l3.4-0.1 3.9 1.4 2.2 2.3 1.1 3.4-0.2 2.3-0.7 2.3-2.2 3.4-2.9 2.5-3.4 1.5-3.5-0.1-2.2-1.2-2.2-2.7-1-3.4 0.1-3.4 1.2-3.4 1.9-2.4 3.7-2.2zM472.3 299.8l2.7 3.2 1.8 1.4 9.5 3.5 3.5 1.9 9.4 8.2 9.9 7.4 3.2 2.9 5.3 6.8 10.9 16.8 9.8 11.7 6.3 10.2 2.5 3.5-75.6 0 0-78.6zM631 357.3l0 20-38.1 0 16.4-9.9 20.5-9.5z"/><path fill="#e7f2f0" d="M471.5 218.2l0-0.4 0.5 0zM534.2 217.8l96.8 0 0 55.8-6.9-4.2-7.9-2.5-8-1-12.5 0.6-4.6-0.4-14.8-4.5-13.7-3.1-6.8-2.7-4.9-3.8-3.5-4.6-2.6-5.6-5.2-14.9-2.3-4.5-3.2-4.6zM509.1 257.6l2.3 0.1 1.1 0.6 1.2 1.2 0.5 1.6-0.5 3.4-1.9 2.3-1.5 0.9-2.3 0.3-1.2-0.5-1.1-1-0.9-2 0-2.3 0.9-2.2 1.1-1.3 1.9-1zM472.3 305.5l4.9 3.2 8 3.1 4.6 2.3 17 11.4 3.4 2.8 5.4 6.8 11 17.1 10 12.5 7.8 12.6-72.9 0 0-72.5zM631 362l0 15.3-28.6 0 27.7-14.8z"/><path fill="#ddefed" d="M538.7 217.8l92.3 0 0 53.6-6.9-3.6-9.1-2.6-6.8-1-12.5 0.1-4.6-0.5-26.2-7.1-5.9-2.4-4.6-3.4-2-2.3-2.2-3.4-2.5-5.7-4.7-13.7-4.4-8zM472.7 309.8l4.5 2.4 9.1 3.7 5.7 2.8 12.6 7.3 4.5 3.4 4.5 5.7 11.5 17.8 10 13 6.8 11.4-70.4 0 0-68.3zM631 366.5l0 10.8-19.3 0 18.5-10.3z"/><path fill="#d4ede9" d="M543.3 217.8l87.7 0 0 51.5-5.7-2.7-10.3-3-6.8-1.2-12.5-0.3-4.6-0.6-22.8-6.1-6.8-2.7-4.6-3.5-3.7-5.2-2.5-5.7-4.5-13.6-3.6-6.9zM472.7 313.1l4.5 2.3 11.4 4.6 6.9 3.2 9.1 4.8 3.3 2.6 4.4 5.7 11.1 17 10.2 13.7 6 10.3-68.1 0 0-64.9zM631 370.9l0 6.4-10.9 0 9.8-5.7z"/><path fill="#cbebe6" d="M546.7 217.8l84.3 0 0 49.5-5.7-2.4-11.4-3.3-5.7-1-11.4-0.7-5.7-0.8-20.5-5.2-6.8-2.8-4.6-3.7-3.3-4.5-2.4-5.7-4.4-13.7-2.8-5.7zM471.8 315.8l6.6 3.1 18.2 7.2 6.5 3.3 3.2 2.3 4 4.8 11.1 16.8 10.5 14.4 5.5 9.6-65.9 0 0-61.7zM629.8 375.8l1.2-0.8 0 2.3-3.6 0 1.9-1.2z"/><path fill="#bce5df" d="M550.1 217.8l80.9 0 0 47.5-5.7-2.2-11.4-3.3-5.7-1.1-17.1-2-19.1-4.7-5.9-2.3-4.3-3.4-3.2-4.5-2.4-5.7-3.9-12.6-2.6-5.7zM472.6 319.2l6.9 3.1 18.2 6.7 4.6 2.4 3.3 2.6 3.5 4.3 20.9 29.9 5.2 9.1-63.7 0 0-58.7z"/><path fill="#aee0d8" d="M553.5 217.8l77.5 0 0 45.5-6.9-2.5-10.2-3-25.1-4-15.9-4-5.7-2.3-3.8-3.5-2.7-4.5-1.8-4.6-3.6-11.4-2.3-5.7zM472.7 322l6.8 3 16 5.6 4.5 2.1 3.5 2.4 4.5 5 17.5 24.6 3.8 5.7 3.8 6.9-61.6 0 0-55.8z"/><path fill="#a0dad1" d="M556.9 217.8l74.1 0 0 43.5-6.9-2.5-10.2-3-26.2-4.8-12.5-3.1-5.7-2.2-3.3-2.8-2.8-4.6-7.3-20.5zM472.7 324.8l6.8 2.8 16 5.6 4.5 2.4 3.4 2.7 4.6 5.2 12.2 16.7 6.9 10.2 3.8 6.9-59.4 0 0-53.1z"/><path fill="#8fd3c9" d="M559.2 217.8l71.8 0 0 41.4-17.1-5.6-29.6-6.1-8.4-2.3-4.2-1.9-3.1-2.7-2.5-4.1-7-18.7zM472.1 327.2l6.3 2.5 15.9 5.7 4.6 2.4 3.4 2.7 4.5 4.9 10.5 13.6 6.9 10.3 4.6 8-57.3 0 0-50.4z"/><path fill="#81cec2" d="M562.6 217.8l68.4 0 0 39.3-16-5.4-28.8-6.5-6.5-2-4.5-1.9-3.5-2.7-2.6-3.7-2.2-4.5-4.7-12.6zM472.7 330l20.5 7.6 4.5 2.5 3.4 2.6 5.7 6 9.1 11.5 6 9.1 4.6 8-55 0 0-47.8z"/><path fill="#73c3b8" d="M566.1 217.8l64.9 0 0 37-18.3-6.1-26.1-6.5-8-3.2-4-2.9-2.7-3.5-2.4-4.6-4.2-10.2zM472.7 332.6l18.8 7.1 4.3 2.3 4.2 3 5.7 5.7 8.8 10.6 9.8 16-52.8 0 0-45.2z"/><path fill="#61b7ac" d="M569.5 217.8l61.5 0 0 34.8-17.1-6-23.9-6.7-8-3.2-4.1-2.9-3.1-3.4-2.6-4.6-3.7-8zM472.7 335.1l18.2 7.2 4.6 2.5 4.5 3.4 5.7 5.7 7.3 8.6 9 14.8-50.5 0 0-42.7z"/><path fill="#52aca3" d="M572.9 217.8l58.1 0 0 32.4-16-5.8-22.8-7.1-6.8-3-4.2-2.8-3.3-3.4-2.7-4.1-3.3-6.2zM472 337.4l17.8 7.2 4.5 2.6 4.6 3.3 5.7 5.4 6.6 7.7 8.4 13.7-48.1 0 0-40.1z"/><path fill="#44a299" d="M576.3 217.8l54.7 0 0 30-13.7-5.3-21.6-7.4-6.9-3.1-3.4-2.2-3.4-2.9-3.4-4.2-3-4.9zM472.7 340.3l15.9 6.7 4.6 2.6 4.5 3.3 5.7 5.2 5.7 6.4 3.4 4.8 4.7 8-45.7 0 0-37.5z"/></g><path fill="none" stroke="#000" stroke-width="0.95" stroke-linejoin="round" d="M631 300.1l-1.2-1.4-2.3-2.3-11.3-10.1-2.3-1.5-1.2-0.4-2.2-0.3-2.3 0.1-3.4 0.8-3.4 1.6-2.8 1.8-2.5 2.3-1.7 2.3-1 2.3-0.3 2.3 0.3 2.2 0.8 2.3 1.4 2.3 2.8 3.4 3 2.9 3.4 2.7 3.4 2.3 3.4 1.9 3.4 1.6 2.3 0.7 3.4 0.7 2.3 0 2.3-0.4 2.2-0.8 2.2-1.4 1.3-1.1M522.8 289.4l-2.3 1-1.1 0.8-2.3 2.1-2.1 3.1-1.2 3.4-0.8 4.6 0.1 3.4 0.6 2.2 0.6 1.2 1.6 1.8 2.3 1.5 2.3 1.2 5.7 2.3 4.6 1.3 5.6 0.7 1.2 0.9 2.3 4 1.5 2.3 3 3.2 1.7 1.3 1.8 1.2 4.5 1.8 3.4 0.8 3.4 0.6 3.4 0.1 2.3-0.2 3.4-0.9 2.2-1.1 1.6-1.1 1.9-2 1.6-2.6 0.7-2.3 0.2-2.3-0.4-2.2-1-2.3-1.6-2.3-1.8-1.6-2.2-1.3-2.3-0.7-2.3-0.2-4.5-0.1-3.5 0.2-3.4 0.6-3.2 0.8-8.2 3.2-2.2 0.6-1.2 0.1-1.1-0.7-0.8-2-0.3-3.4 0.3-2.3 1.8-5.7 0.4-2.3 0.1-2.3-0.5-3.4-0.9-2.3-1.3-1.9-1.1-1.1-1.1-0.8-2.3-1.1-2.3-0.6-2.3-0.1-2.2 0.2-2.3 0.7M631 289.7l-4.6-3.4-1.4-1.3-3.9-5.7-1.5-1.7-1.2-0.8-1.1-0.5-1.6-0.4-3-0.2-2.2 0.2-5.7 1-5.7 1.7-9.1 3.5-2.3 0.5-2.3-0.2-2.3-0.7-2.2-1.1-6.9-4.1-2.3-0.9-2.2-0.5-2.3-0.2-3.4 0.3-10.3 2-3.4 0.3-3.4-0.2-9.1-1.6-4.6-0.1-2.2 0.4-3.5 0.9-10.2 4.2-4.6 2.3-2.3 1.6-1.3 1.2-1.7 2.2-0.5 1.2-0.7 2.3-0.6 4.5-0.5 6.8 0.2 3.5 0.5 2.2 1.4 3.5 1.5 2.2 2.9 3.1 7.5 6 4.9 4.6 3.9 4.6 7.6 10 2.3 2.3 2.3 1.6 2.2 1 2.3 0.8 5.7 1.1 2.3 0.7 6.8 3.7 3.4 1.3 1.2 0.1 2.3 0 2.2-0.5 2.3-0.9 2.3-1.2 2.3-1.7 2.2-2 1.4-1.5 2.5-3.5 1.9-3.4 1.7-4.5 3.2-11.4 0.7-1.8 1-1.6 1.4-1.2 1-0.3 2.3 0.2 3.4 1.4 3.5 2.1 6.8 5.2 3.4 2.4 3.4 1.8 2.3 0.9 3.4 0.8 3.4 0.2 3.4-0.3 3.5-1M482.9 267.8l-1.3 1.3-0.8 2.3 0 2.2 0.5 2.3 0.5 1.2 1.1 1.8 1.2 1.1 1.1 0.7 1.1 0.3 1.2 0.1 1.1-0.2 0.9-0.4 1.2-1.2 0.5-1.1 0.2-1.1-0.2-2.3-0.9-2.3-1.7-2.6-1.1-1.1-1.2-0.8-1.1-0.4-1.1-0.1-1.2 0.3M500.4 217.8l-4.3 1.2-4.1 1.5-3.7 1.9-4.2 2.6-3.5 2.5-3.4 3.1-3.4 3.8-2.3 3M631 280.1l-4.3-4.2-2.8-2.3-3.2-1.8-3.4-1.1-3.4-0.6-4.6-0.2-4.5 0.4-10.3 1.5-3.4 0-2.3-0.3-3.4-0.9-8-3.2-4.5-1.4-4.6-0.7-12.5-1-4.6-0.9-4.5-1.6-9.1-4.4-2.3-0.6-1.1-0.1-1.2 0.3-1.1 0.5-1.1 0.9-8.9 9.5-2.6 2.3-3.4 2.3-3.4 1.5-3.4 0.8-2.3 0.1-1.1-0.2-2.3-1-2.3-1.9-1.8-2.7-1.5-3.4-1.1-4.6-0.2-3.4 0.5-3.4 1.3-3.4 1.7-2.9 1.6-1.7 1.8-1.4 2.3-1.2 2.3-0.7 2.3-0.4 3.4-0.1 3.4 0.2 6.8 1 2.3 0.1 1.1-0.3 1-0.6 0.7-1.1 0.2-1.2 0.2-3.4-0.7-4.6-1.1-3.4-1.8-3.4-1.9-2.3-1.1-1.1-2.3-1.7-3.4-1.8-3.5-1.1M471.5 281.9l2.3 5.7 1.5 3.1 1.9 2.9 1.7 1.7 1.7 1.3 2.3 1 8 2 1.1 0.6 1.2 1.2 1.1 2.2 2.2 5.3 2.9 4.6 1.9 2.3 2.2 2.2 8.4 6.9 4.5 4.5 4.3 5.7 7.8 12.1 2.3 3.2 2.2 2.7 6.1 5.9 2 2.3 2.4 3.4 3.8 6.9 1.6 2.2 2.3 2.3 1.8 1.2M577.7 377.3l4.3-2.2 3.6-2.4 4.5-3.4 9-7.6 3.4-2.4 2.3-1.3 4.5-1.8 13.7-3.3 4.5-1.4 3.5-1.4M631 271.3l-3.5-2-3.4-1.6-9.1-2.7-3.4-0.6-3.4-0.3-3.4-0.1-9.1 0.2-4.6-0.6-3.4-0.8-10.3-3.1-11.3-2.8-3.5-1.1-3.4-1.6-2.3-1.5-2.2-1.9-2-2.2-2.3-3.4-2.5-5.7-3.3-10.3-1.3-3.4-2.3-4.5-2.1-3.5M471.5 309.2l2.3 1.5 2.3 1.2 10.2 4.2 5.7 2.8 12.6 7.2 3.2 2.2 1.2 1.1 2 2.3 2.4 3.4 8 12.6 3.7 5.4 9.8 12.8 6.9 11.4M612.2 377.3l11.9-6.5 6.9-4M631 264l-5.7-2.2-11.4-3.3-5.7-1.1-12.5-1.5-5.7-1-16.5-4-3.6-1.2-2.7-1.2-2.3-1.6-1.8-1.7-1.7-2.3-1.3-2.3-2.3-5.7-3.9-12.5-2-4.6M471.5 320.5l3.5 1.7 4.5 1.9 11.4 3.8 5.7 2.3 4.5 2.3 3.5 2.5 2.2 2.5 2.3 3 18.7 26.5 2.9 4.6 3.1 5.7M631 256.5l-8-2.9-10.3-3.1-6.8-1.7-13.7-2.9-7.4-1.9-5.1-1.6-3.9-1.8-1.7-1.1-1.3-1.2-2-2.2-1.3-2.3-2.2-4.6-4.4-11.4M471.5 330.1l5.7 2.4 11.4 4 4.6 1.8 4.5 2.5 3.4 2.7 2.3 2.2 3.4 3.8 8.6 10.7 5.3 8 5.3 9.1"/></g><g font-size="9.2" fill="#000" stroke="#000" stroke-width="0.12"><circle cx="534.2" cy="246" r="1.05" fill="#000"/><text x="536.9" y="249.5">Fp1</text><circle cx="568.2" cy="246" r="1.05" fill="#000"/><text x="570.9" y="249.5">Fp2</text><circle cx="507.9" cy="266.1" r="1.05" fill="#000"/><text x="510.5" y="269.6">F7</text><circle cx="594.6" cy="266.1" r="1.05" fill="#000"/><text x="597.2" y="269.6">F8</text><circle cx="529.4" cy="270.9" r="1.05" fill="#000"/><text x="532" y="274.4">F3</text><circle cx="573.1" cy="270.9" r="1.05" fill="#000"/><text x="575.8" y="274.4">F4</text><circle cx="551.2" cy="271.9" r="1.05" fill="#000"/><text x="553.9" y="275.4">Fz</text><circle cx="484.1" cy="276.1" r="1.05" fill="#000"/><text x="486.7" y="279.6">FT9</text><circle cx="618.5" cy="276.1" r="1.05" fill="#000"/><text x="621.1" y="279.6">FT10</text><circle cx="513.9" cy="283.1" r="1.05" fill="#000"/><text x="516.5" y="286.6">FC5</text><circle cx="588.6" cy="283.1" r="1.05" fill="#000"/><text x="591.2" y="286.6">FC6</text><circle cx="539" cy="284.8" r="1.05" fill="#000"/><text x="541.6" y="288.2">FC1</text><circle cx="563.5" cy="284.8" r="1.05" fill="#000"/><text x="566.1" y="288.2">FC2</text><circle cx="497.6" cy="297.8" r="1.05" fill="#000"/><text x="500.2" y="301.2">T7</text><circle cx="604.9" cy="297.8" r="1.05" fill="#000"/><text x="607.5" y="301.2">T8</text><circle cx="525.5" cy="298.1" r="1.05" fill="#000"/><text x="528.1" y="301.6">C3</text><circle cx="577" cy="298.1" r="1.05" fill="#000"/><text x="579.6" y="301.6">C4</text><circle cx="551.2" cy="298.1" r="1.05" fill="#000"/><text x="553.9" y="301.6">Cz</text><circle cx="513.9" cy="312.1" r="1.05" fill="#000"/><text x="516.5" y="315.6">CP5</text><circle cx="588.6" cy="312.1" r="1.05" fill="#000"/><text x="591.2" y="315.6">CP6</text><circle cx="538.9" cy="310.9" r="1.05" fill="#000"/><text x="541.5" y="314.4">CP1</text><circle cx="563.6" cy="310.9" r="1.05" fill="#000"/><text x="566.2" y="314.4">CP2</text><circle cx="507.9" cy="329.1" r="1.05" fill="#000"/><text x="510.5" y="332.6">P7</text><circle cx="594.6" cy="329.1" r="1.05" fill="#000"/><text x="597.2" y="332.6">P8</text><circle cx="529.4" cy="324.6" r="1.05" fill="#000"/><text x="532" y="328.1">P3</text><circle cx="573.1" cy="324.6" r="1.05" fill="#000"/><text x="575.8" y="328.1">P4</text><circle cx="551.2" cy="323.4" r="1.05" fill="#000"/><text x="553.9" y="326.9">Pz</text><circle cx="534.9" cy="348.8" r="1.05" fill="#000"/><text x="537.5" y="352.2">O1</text><circle cx="567.6" cy="348.8" r="1.05" fill="#000"/><text x="570.2" y="352.2">O2</text><circle cx="551.2" cy="351.6" r="1.05" fill="#000"/><text x="553.9" y="355.1">Oz</text></g><circle cx="551.2" cy="297.6" r="75.2" fill="none" stroke="#000" stroke-width="2.8"/><path fill="none" stroke="#000" stroke-width="2.7" stroke-linejoin="round" d="M537.5 222.8L547.2 212.7Q551.2 209 555.2 212.7L565 222.8"/><path fill="none" stroke="#000" stroke-width="2.6" stroke-linejoin="round" d="M624.9 281.9C626.2 279.7 630.5 278.9 632.5 280.9C633.4 281.9 633.5 283.6 633.5 285.6L633.6 307.6C633.8 310.1 634.6 311.6 634.5 314.1C634.1 317.2 631.5 318.1 628.8 317.8C627.2 317.6 626 316.9 625.5 315.9"/><path fill="none" stroke="#000" stroke-width="2.6" stroke-linejoin="round" d="M477.6 281.9C476.2 279.7 471.9 278.9 469.9 280.9C469.1 281.9 468.9 283.6 468.9 285.6L468.9 307.6C468.8 310.1 467.9 311.6 468.1 314.1C468.4 317.2 471.1 318.1 473.8 317.8C475.2 317.6 476.4 316.9 477.1 315.9"/><linearGradient id="cb1" x1="0" y1="0" x2="0" y2="1"><stop offset="0.000" stop-color="#003c30"/><stop offset="0.025" stop-color="#00463b"/><stop offset="0.050" stop-color="#005046"/><stop offset="0.075" stop-color="#015b52"/><stop offset="0.100" stop-color="#01655d"/><stop offset="0.125" stop-color="#0c7169"/><stop offset="0.150" stop-color="#1a7e76"/><stop offset="0.175" stop-color="#278a82"/><stop offset="0.200" stop-color="#35978f"/><stop offset="0.225" stop-color="#47a49b"/><stop offset="0.250" stop-color="#58b0a7"/><stop offset="0.275" stop-color="#6dbfb4"/><stop offset="0.300" stop-color="#7fccc0"/><stop offset="0.325" stop-color="#92d4ca"/><stop offset="0.350" stop-color="#a3dbd3"/><stop offset="0.375" stop-color="#b4e2db"/><stop offset="0.400" stop-color="#c7eae5"/><stop offset="0.425" stop-color="#d2ede9"/><stop offset="0.450" stop-color="#def0ed"/><stop offset="0.475" stop-color="#e9f2f1"/><stop offset="0.500" stop-color="#f4f5f5"/><stop offset="0.525" stop-color="#f5f2e8"/><stop offset="0.550" stop-color="#f5efdc"/><stop offset="0.575" stop-color="#f6ebcf"/><stop offset="0.600" stop-color="#f6e8c3"/><stop offset="0.625" stop-color="#f1dfb3"/><stop offset="0.650" stop-color="#ead59f"/><stop offset="0.675" stop-color="#e5cc8f"/><stop offset="0.700" stop-color="#dec17b"/><stop offset="0.725" stop-color="#d7b169"/><stop offset="0.750" stop-color="#cfa256"/><stop offset="0.775" stop-color="#c79040"/><stop offset="0.800" stop-color="#bf812d"/><stop offset="0.825" stop-color="#b17423"/><stop offset="0.850" stop-color="#a5691b"/><stop offset="0.875" stop-color="#995d13"/><stop offset="0.900" stop-color="#8b500a"/><stop offset="0.925" stop-color="#7e4909"/><stop offset="0.950" stop-color="#6e4007"/><stop offset="0.975" stop-color="#613806"/><stop offset="1.000" stop-color="#543005"/></linearGradient><rect x="654.8" y="207.2" width="7.5" height="182.2" fill="url(#cb1)" stroke="#2a2a2a" stroke-width="1.1"/><text x="667.6" y="210.8" font-size="10" fill="#1a1a1a">1</text><line x1="660.3" y1="252.8" x2="662.3" y2="252.8" stroke="#2a2a2a" stroke-width="0.9"/><text x="667.6" y="256.4" font-size="10" fill="#1a1a1a">0.5</text><line x1="660.3" y1="298.3" x2="662.3" y2="298.3" stroke="#2a2a2a" stroke-width="0.9"/><text x="667.6" y="301.9" font-size="10" fill="#1a1a1a">0</text><line x1="660.3" y1="343.8" x2="662.3" y2="343.8" stroke="#2a2a2a" stroke-width="0.9"/><text x="667.1" y="347.4" font-size="10" fill="#1a1a1a">-0.5</text><text x="667.1" y="393" font-size="10" fill="#1a1a1a">-1</text><text transform="translate(678.2 298.2) rotate(90)" font-size="9.6" fill="#1a1a1a" text-anchor="middle">Pearson's r</text><clipPath id="cp20"><circle cx="358.6" cy="492.6" r="75.2"/></clipPath><g clip-path="url(#cp20)"><g filter="url(#bl)" fill-rule="evenodd"><circle cx="358.6" cy="492.6" r="78.2" fill="#b37625"/><path fill="#bd7f2c" d="M280 412.9l121.5 0-5.3 3-5.2 3.8-5.1 5.2-2.7 3.9-1.1 3.4 0.1 2.3 0.5 1.2 2.1 1.6 4.5 0.8 5.7-0.7 5.3-1.7 15.2-7.5 14.1-6.2 3.8-2.3 2-2.3 0.6-2.2-0.7-2.3 3 0 0 159.4-159.4 0 0-159.4z"/><path fill="#c58e3d" d="M280 412.9l110.9 0-5 4.6-4.7 5.6-2.7 4.6-1.5 4.5-0.1 4.6 1.1 2.5 2.7 2.1 5.2 1.2 6.9 0.1 5.7-1 15.9-5.9 8-2.1 6.8-1 9.1-0.6 0 140.2-159.4 0 0-159.4z"/><path fill="#cc9a4c" d="M280 412.9l105.1 0-4.1 4.5-3.3 4.6-2.3 4.6-1.4 4.5-0.5 4.6 0.6 3.4 1.6 2.8 2.4 1.7 3.3 1.3 3.4 0.8 9.1 0.4 8-1.3 12.5-4.1 5.7-1.3 8-0.5 10.2 0.9 0 132.5-159.4 0 0-159.4zM371.9 532.5l-3 4.5-1.1 3.4-0.1 3.4 0.9 3.5 1.4 2.1 1.1 1 2.3 1 2.3-0.2 2.9-1.7 1.7-2.2 1-3.5 0.1-2.6-0.7-3.1-1.6-3-2.3-2.4-2.3-1.1-2.2 0.5z"/><path fill="#d2a75c" d="M280 412.9l100.8 0-4 5.2-2.3 3.9-2.2 5.6-1 4.6-0.1 4.6 0.7 3.4 2.2 3.4 2.7 2.1 3.4 1.5 3.5 0.9 4.5 0.7 5.7 0.3 8-0.8 13.6-3.9 5.7-0.8 8 0.3 9.1 1.9 0 126.5-159.4 0 0-159.4zM358.2 518.8l-1.7 2.3-0.1 3.4 1.1 2.6 4.5 6.9 1.5 12.1 1.9 5.7 2.3 3.1 3.4 1.9 3.4 0.3 3.5-1.2 2.2-1.7 2-2.4 1.5-2.8 0.9-2.9 0.4-3.4-0.2-3.4-0.8-3.4-1.5-3.7-3.4-5.3-2.3-2.2-2.3-1.6-4.1-2-6-2.3-3.5-0.6-2.3 0.4z"/><path fill="#d9b76f" d="M280 412.9l97.4 0-3.9 5.7-2.1 4.5-1.5 4.6-0.9 5.7 0.2 4.5 0.9 3.5 2.2 3.4 3.4 2.7 3.4 1.6 3.4 1.1 10.3 1.5 4.5 0.1 4.6-0.5 13.6-3.2 5.7-0.6 8 0.7 4.6 1.2 4.5 1.8 0 121.1-159.4 0 0-159.4zM359.3 515.4l-3.2 1.1-1.5 1.2-1.7 2.2-0.9 3.4 0.3 3.5 5.3 11.3 2.9 13.7 2.3 5.7 2.6 2.9 2.3 1.5 2.3 0.7 3.4 0.2 3.4-1 3.4-2.1 3.2-3.3 2.1-3.4 1.6-4.6 0.7-4.6-0.1-4.5-0.9-4.6-1.7-4.5-1.9-3.4-2.5-3.5-2.4-2.2-4-2.3-6-2.3-4.9-1.1-3.7-0.1z"/><path fill="#dfc37e" d="M280 412.9l94.5 0-3.4 5.5-2 4.7-1.4 5.7-0.7 5.7 0.4 4.6 1 3.4 2.2 3.4 2.8 2.5 3.6 2.1 5.5 1.9 6.8 1.3 5.7 0.6 8-0.3 14.8-3 6.8 0.2 6.9 1.7 6.8 3.5 0 115.9-159.4 0 0-159.4zM359.5 513.1l-3.2 0.8-2.3 1.1-2 1.5-2 2.3-1.2 2.3-0.6 2.2 0.3 4.6 4.7 10.2 1.1 3.5 1 4.5 1.4 11.4 1.9 5 2.4 3 3.3 2.3 3.4 1 4.6 0 4.5-1.5 3.4-2.1 3.5-3.2 3-4.5 2-4.5 1.3-5.7 0.4-5.7-0.6-5.7-1.4-4.6-2.1-4.5-3.1-4.6-3-3-4.5-2.7-5.7-2.1-5.7-1.3-4.6 0z"/><path fill="#e4ca8c" d="M280 412.9l91.9 0-3.1 5.6-1.6 4.6-1.5 6.9-0.5 5.7 0.5 4.5 1.1 3.4 2.3 3.5 3.2 2.9 4.5 2.5 4.6 1.6 6.8 1.7 6.8 0.9 6.9 0.1 15.9-2.7 6.8 0.4 3.5 0.8 3.4 1.5 3.4 2.1 3.4 2.8 0 110.6-60 0 4.2-3.3 3.4-4 2.5-4.1 2.1-4.7 1.5-5.5 0.7-5.7-0.1-5.7-1-5.7-1.6-4.6-2.5-4.5-3.4-4.6-2.7-2.6-4.6-2.7-4.5-1.9-5.7-1.4-4.6-0.3-5.7 0.7-3.4 1.4-2.3 1.4-2.4 2-1.9 2.3-1.8 3.4-0.6 2.3 0 2.3 0.8 3.4 4.8 9.1 1.4 4.5 0.3 6.9-1.9 14.8 0.8 3.4 2.8 3.4-74 0 0-159.4z"/><path fill="#e9d39d" d="M280 412.9l89.7 0-2.4 4.5-1.9 5.5-1.6 8.2-0.4 5.7 0.6 4.6 1.2 3.4 2.3 3.4 2.5 2.4 3.4 2.3 4.6 2.2 11.3 3 5.7 0.9 5.7 0.3 13.7-2.2 6.8-0.2 3.4 0.6 3.5 1.2 3.4 1.9 2.8 2.4 4 4.8 0 104.5-53.2 0 3.1-4.3 2.3-4.1 2.1-5.3 1.4-5.6 0.9-6.9 0-5.7-0.7-5.7-1.3-4.5-2.2-4.6-2.5-3.7-3.4-4-3.4-3-4.6-2.6-4.5-1.8-5.7-1.2-4.6-0.3-5.7 0.7-6 2.3-4.9 3.4-2.4 2.3-2.6 3.4-2.1 4.5 0 3.4 1.5 3.5 4.3 5.6 1.9 3.5 0.8 3.4-0.6 4.5-2.4 4.3-3.4 2.6-3.4 1-9.1 0.9-2.3 0.7-2.3 1.6-1.6 2.6-0.4 2.3 0.3 3.4 1.4 3.4-44.1 0 0-159.4z"/><path fill="#eedbaa" d="M280 412.9l87.6 0-2.2 4.5-1.4 4.6-1.9 10.2-0.4 5.7 0.6 4.6 1.3 3.4 2.3 3.4 2.9 2.9 3.5 2.3 4.5 2.2 5.7 1.9 6.8 1.7 5.7 0.9 5.7 0.4 13.7-2 5.7-0.1 3.4 0.6 3.4 1.2 4.6 3.3 2.4 2.9 4.4 7.2 0 97.6-48.5 0 2.4-4.5 2.2-5.7 1.4-5.7 0.9-5.7 0.4-5.7-0.1-5.7-0.9-5.7-1.5-4.6-2.3-4.5-3.3-4.6-4.2-4.5-3.4-2.8-3.4-2-4.6-1.9-5.7-1.2-4.5-0.3-6.9 0.6-6.8 2.2-5.6 3.1-10.4 7.5-3.4 1.7-4.5 0.8-10.3-0.3-2.2 0.7-3.6 2.1-2.7 2.3-2.9 3.5-1.5 3.3-0.7 4.6 2.5 20.5 1.9 6.8 2.4 5.7-29.6 0 0-159.4z"/><path fill="#f2e2b8" d="M280 412.9l85.8 0-2.1 4.5-1.3 4.6-2 11.4-0.4 5.7 0.6 4.5 1.3 3.5 2.3 3.4 2.3 2.2 4.6 3.4 4.6 2.3 6.8 2.3 8 2 10.2 0.9 12.6-1.5 4.5-0.2 3.4 0.3 3.4 1 3.5 2 2.2 2.2 1.6 2.4 3 6.9 1.1 1.2 2.3 1.4 0 93-44.5 0 1.8-4.5 1.7-5.9 1.2-6.3 0.6-7.2 0.1-5.7-0.4-5.7-0.9-4.5-1.6-4.6-2.5-4.6-3.4-4.5-4.5-4.7-4.5-3.7-3.4-2-4.6-1.8-4.6-1-4.5-0.3-6.8 0.4-6.9 1.6-5.9 2.4-10 5.1-4.6 1.6-4.5 0.8-9.1 0.6-4.6 1-7.6 3.4-3.6 2.3-3.6 3.1-2.3 2.9-1.9 4.2-0.9 4.6-0.3 5.7 0.6 6.8 1.4 7.5 2.2 7.3 2.4 5.7-19.4 0 0-159.4z"/><path fill="#f6e9c7" d="M280 412.9l84 0-1.9 4.5-0.9 3.5-2.6 13.6-0.4 5.7 0.6 4.6 1.3 3.4 2.3 3.4 3 3 4.6 3.3 4.5 2.4 5.7 2 8 2.2 5.7 0.8 5.7 0.3 13.7-1.3 5.7 0.1 3.4 0.7 2.2 0.9 3.5 2.6 1.5 2.4 3.2 7.9 2.1 1.8 3.4 1.6 0 90-40.9 0 1.7-5.7 1.1-5.7 1.1-14.8-0.7-10.2-1-4.6-1.7-4.5-2.7-4.6-3.6-4.5-4.5-4.9-4.6-3.9-3.4-2.2-4.6-2-4.5-1.1-4.6-0.3-5.7 0.3-6.8 1-6 1.7-14.5 5.3-4.5 0.9-10.3 1-5.7 1.2-10.9 4.1-7.8 4.5-3.4 3.5-2.5 4.5-1.8 5.7-0.7 5.7-0.1 6.8 1 8 2 8 2.6 6.8-11.4 0 0-159.4zM319.3 474.4l-1.7 1.3-1.1 2.1 0.1 2.3 0.5 1.1 1 1.2 1.8 1.1 2.3 0.2 2.2-0.8 2.1-1.7 1.3-2.3 0.1-2.2-0.5-1.2-1.2-1.1-1.8-0.7-2.2-0.2-2.3 0.6z"/><path fill="#f6ecd1" d="M280 412.9l82.5 0-2.4 6.8-3.3 16-0.5 5.7 0.5 4.5 1.3 3.4 1.6 2.6 3 3.1 5 4 5.7 3.3 3.4 1.4 9.1 2.7 5.7 0.9 5.7 0.3 14.8-1.1 4.6 0 5.7 1.2 3.5 2.1 1.6 2.3 2.3 5.7 1.7 2.8 2.3 1.9 4.5 2.2 0 87.6-37.5 0 2.1-11.4 0.5-15.9-1-10.3-2.4-7.9-1.8-3.5-3.4-4.5-5.5-6-4.5-4.4-3.4-2.7-3.4-2.1-3.5-1.4-3.4-0.8-6.8-0.2-10.3 1.2-6.8 1.3-13.7 4-15.9 1.7-11.4 3.2-11.4 4.5-3.4 1.9-3.4 2.6-2.6 2.9-2.1 3.4-1.6 3.4-1.4 4.6-0.9 4.5-0.5 5.6 0-133.1zM322.7 471l-4 0.9-2.3 1.3-2.1 2.3-1 3.4 0.8 3.5 2.4 2.9 2.2 1.4 3.5 0.5 3.4-1.3 3.1-2.4 2.5-3.4 1-3.4-0.4-2.3-0.7-1.2-1.4-1.1-3-1-3.4-0.2zM278.9 550.7l1.3 10.2 3.4 11.4-4.7 0 0-22.5z"/><path fill="#f6eedb" d="M280 412.9l81 0-1.7 4.5-4.1 18.3-1 6.8 0.3 3.4 0.9 3.4 1.8 3.4 2.5 2.9 6.9 5.4 5.7 3.8 4.5 2 5.7 1.6 5.7 1.1 5.7 0.2 17.1-1 4.5 0 5.7 1.2 3.3 2.2 3.7 6.8 2.1 3 3.5 2.8 4.5 2.2 0 85.4-34.2 0 1.4-11.4 0-17.1-1.1-9.1-2.3-7.9-1.8-3.5-2.4-3.4-10.8-11.8-6.9-5.9-5.7-2.9-3.4-0.7-4.5 0.1-18.2 2.3-13.7 3-4.6 0.3-7.9-0.3-4.6 0.8-20.9 7.2-6.4 2.8-3.4 2.2-3.3 2.9-2.7 3.4-2 3.3 0-113.7zM324.8 468.7l-4.9 0.7-4.6 1.9-3.4 3.1-1.4 3.4-0.1 2.3 0.6 2.3 2.1 3.7 3.4 3.5 2.2 1.3 2.3 0.4 2.3-0.5 2.3-1.1 5-3.9 3.8-4.6 1.8-4.5 0.1-3.5-0.5-1.5-1.1-1.4-3.4-1.3-5.7-0.4z"/><path fill="#f5f1e6" d="M280 412.9l79.6 0-1.5 4.5-1.6 8-3.3 11.4-1.1 5.7 0 4.6 0.7 3.4 1.5 3.4 1.8 2.3 16.2 13 4.5 2.4 4.6 0.7 6.8 0.1 23.9-1.7 4.6 0.5 3 0.9 2 1.1 1.8 1.8 4.1 6.2 2.7 3 3.5 2.5 4.5 2.2 0 83.4-30.9 0 0.8-11.4-0.6-17.1-1-7.9-2.1-8-2.1-4.6-4.3-5.6-12.2-13.5-6.8-6.2-4.6-2.4-3.4-0.5-3.4 0.4-9.1 2-11.4 0.9-11.4 1.7-4.5-0.3-3.1-1.5-0.9-1.1-0.2-1.2 0.6-2.3 1.5-2.2 7.8-8 2-3.4 1.3-3.4 0.5-3.5-0.4-3.4-1.3-2.3-2.1-1.2-8 0.1-9.1 1.1-5.7 2.1-3.5 2.5-2.5 3.4-0.8 2.3-0.1 2.3 1.4 4.5 6.2 10.3 0.3 2.3-0.9 2.2-2.3 2.3-3.9 2.3-14.4 4.8-5.7 2.6-4.6 3.1-4.5 4.7 0-106.3z"/><path fill="#f5f4f0" d="M280 412.9l78.4 0-3.2 12.9-5.1 15.6-0.6 5.7 0.4 5.6 0.9 3.5 1.6 2.2 9.2 5.7 4.2 4.6 2.3 4.5 0.9 6.9 2.5 5.7-0.1 1.1-0.8 1.1-2.6 2.3-3.5 2.3-4.8 2-5.7 0.4-17-1-0.8-0.3-0.4-1.1 5.6-8 1.7-3.4 1.6-4.5 0.7-3.5 0.1-3.4-0.3-2.3-1-2.2-1.2-1.2-1.5-0.6-4.5-0.4-19.6 3.3-5.5 2.2-3.4 2.3-2.2 2.3-1.9 3.5-0.5 2.2 0.4 3.5 1.4 3.4 2.7 4.5 1.2 3.4-0.1 2.3-1.1 2.3-2.2 1.9-2.3 1.2-11.3 3.4-4.6 1.8-4.6 2.8-4.5 3.9 0-100.4zM404.1 473.2l9.2-0.2 3.4 0.6 2.3 0.9 3.4 2.7 4 5.2 3.2 3.4 4.2 2.9 4.5 2.3 0 81.3-27.7 0 0.4-11.4-1.3-18.2-1.3-8-2.5-7.9-1.8-3.8-2.9-4.2-25.2-29.6-1.3-2.3 0.5-2.3 1.7-2.2 2.1-2.3 3.4-2.3 7-2.3 14-2.3z"/><path fill="#f0f4f3" d="M280 412.9l77.2 0-3.2 12.7-6.1 15.8-2.1 12.5-1.9 3.4-3.5 2.1-5.7 1.7-20.5 4.5-4.6 1.9-3.5 2.3-4.2 4.6-1.2 2.3-0.8 3.4 0.7 4.5 4.3 8-0.6 2.3-1.5 1.3-1.8 1-8.4 2.4-4.6 1.8-4.6 2.8-4.5 3.6 0-94.9zM356.3 466.3l1.2 0.2 1.8 1 1.9 3.5 0.7 3.4 0.3 8-0.3 3.4-0.9 2.2-2.4 2.3-2.3 0.4-3-0.4-2.7-1.1-1.2-1.2-0.8-2.2 0.4-3.4 3-12.6 1.3-2.3 2.1-1.1zM403 475.4l4.6-0.5 4.5 0.1 3.4 0.7 2.3 0.9 3.4 2.5 5 5.5 3.7 3.4 3.9 2.7 4.5 2.4 0 79.2-24.3 0-0.1-11.4-1.7-15.9-1.5-9.1-2.4-8-2-4.6-2.2-3.4-10.6-12.5-5.7-8-3.1-5.7-1.3-4.5 0-2.3 0.7-2.3 1.5-2.2 2.6-2.3 5.7-2.7 8.2-1.9z"/><path fill="#e7f2f0" d="M280 412.9l76 0-3.1 12.4-6.8 14.9-2.6 10.3-0.9 2.2-1.6 2.3-2.8 2.3-4.7 2.1-5.6 1.7-15 3-4.4 1.7-4.7 2.9-5 4.5-2.2 3.5-1.3 4.5-0.9 6.8-0.9 2.3-2.1 2.3-6.8 5-5.7 4.8 0-89.5zM401.9 477.8l7.9-0.8 3.5 0.4 3.4 1.1 3.4 2.3 6.8 6.8 3.4 2.9 8 4.7 0 77.1-20.9 0-0.4-10.2-1.8-13.7-1.8-10.3-2.7-9.1-2.4-5.7-2.8-4.5-9.7-11.4-3.2-4.6-3.1-5.6-1.5-4.6 0-4.6 0.8-2.2 1.5-2.3 2.5-2.1 2.2-1.3 6.8-2.3z"/><path fill="#ddefed" d="M280 412.9l74.9 0-1.7 8-1.4 4.2-7.9 15.1-2.7 9.1-1 2.3-1.7 2.3-2.7 2.3-4.6 2.2-4.5 1.4-15.9 3.1-4.6 1.8-4.8 2.8-6.6 5.8-2.1 3.4-4.8 10.2-2.8 3.4-6.2 6.4 0-83.8zM403 479.9l4.6-0.7 3.4 0 3.4 0.8 2.3 0.9 3.4 2.5 10.2 9.3 8 4.7 0 74.9-17.4 0-0.5-9.1-2-12.5-2.7-12.6-2.9-9.1-2.5-5.7-2.7-4.5-11.9-14.8-2.5-4.6-1.5-4.5-0.3-4.6 0.6-2.3 1.2-2.2 3.7-3.4 5.4-2.3z"/><path fill="#d4ede9" d="M280 412.9l73.8 0-1.3 6.8-1.7 4.6-8.6 14.8-3.4 10.2-2.1 3.4-3.2 2.7-4.5 2.1-4.6 1.2-14.8 2.5-4.5 1.7-4.6 2.6-8.2 6.6-7.1 11.4-6.3 7.6 0-78.2zM404.1 482l5.7-0.7 3.5 0.6 2.2 0.8 4.5 3.1 10.3 9.2 8 4.8 0 72.5-13.6 0-0.9-9.1-2.1-11.4-3.2-12.5-3.5-10.3-2.5-5.7-2.6-4.5-10.9-13.7-3.2-5.7-1.3-5.7 0.7-4.5 1.3-2.3 2-2 4.7-2.5z"/><path fill="#cbebe6" d="M280 412.9l72.7 0-1 5.7-1.6 4.5-2.9 5.1-6.5 9.7-3.6 10.3-1.2 2.3-1.9 2.2-2.7 2.1-3.4 1.5-4.6 1.1-13.7 1.8-4.5 1.4-4.6 2.3-4.5 3.3-5.5 4.8-11.6 15 0-73.1zM405.3 484.3l3.4-0.6 2.3 0 4.5 1.4 3.5 2.2 10.2 9.3 9.1 5.7 0 70-9.6 0-1.1-9.1-2.2-10.2-3.7-12.6-4.3-11.4-2.6-5.7-3.2-5.6-9.9-12.6-3.2-5.7-1-4.5 0.1-2.3 0.6-2.3 2.5-3.4 3.7-2.3z"/><path fill="#bce5df" d="M280 412.9l71.5 0-0.8 5.7-1.2 3.1-2.3 4-8 11.1-1.5 3.4-2.7 8-2.6 3.6-2.8 2.1-4 1.4-16 1.8-4.5 1.2-3.4 1.5-5.7 3.8-5.7 5.1-11.4 12.7 0-68.5zM406.4 486.7l2.3-0.5 2.3-0.1 2.3 0.4 2.2 1 3.5 2.4 9.1 8.6 4.5 3.3 5.7 3.3 0 67.2-5.3 0-1.1-8-2.1-9.1-3.3-10.2-4.5-11.4-4.7-10.3-3.1-5.6-3.1-4.6-7.4-9.1-2.4-4.6-0.8-4.5 0.8-3.4 1.7-2.6 3-2z"/><path fill="#aee0d8" d="M280 412.9l70.3 0-0.5 4.5-1.4 3.9-2.3 3.5-6.1 7.4-2.3 3.5-1.6 3.4-2.6 8-1.3 2.2-2.1 2.3-2.2 1.3-3.5 1.1-14.8 0.9-4.5 0.9-3.4 1.4-3.5 2-3.4 2.7-15.9 15.6 0-64.6zM408.7 489l3.4-0.2 3.4 1.4 3 2.4 8.4 8.4 4.6 3.2 6.8 4 0 64.1-0.6 0-1.1-8-2.3-9.1-3.2-9.1-3.6-8-11.6-22.7-3.2-4.6-5.6-6.8-2.6-4.6-0.7-3.4 0.3-2.6 1.2-2.1 3-2.1z"/><path fill="#a0dad1" d="M280 412.9l69 0-0.4 4.5-0.9 2.3-2.8 4.1-6.6 7.3-2.4 3.4-1.6 3.4-2.9 9.2-2.4 3.2-2.3 1.3-2.3 0.6-14.8 0.3-4.5 0.7-3.4 1.3-3.5 1.9-3.4 2.6-7.2 7.4-8.7 7.6 0-61.1zM409.8 492.4l2.3-0.4 2.3 0.9 2.2 2 5.7 6.8 2.3 2.1 13.7 8.3 0 38.9-4.3-9.4-10.5-18.3-5.6-11.3-9.2-12.1-0.9-3.9 0.7-2.3 1.1-1.1z"/><path fill="#8fd3c9" d="M280 412.9l67.6 0-0.5 4.5-1.1 2.3-3.3 4.1-7.3 7.3-2.3 3.4-1.4 3.4-2.1 8-1.7 2.8-2.3 1.3-2.3 0.4-13.7-0.6-4.5 0.5-3.4 1.2-3.5 1.8-3.4 2.6-9.1 9.3-6.8 5.5 0-57.8zM426.9 512.9l2.3-0.1 2.3 0.7 3.4 1.8 3.4 2.6 0 18.2-9.1-11.6-2.3-3.5-1.4-4.5 0.2-2.3 0.9-1.1z"/><path fill="#81cec2" d="M280 412.9l65.9 0-0.5 3.4-1.7 3.4-3.3 3.5-6.7 5.6-3 3.4-1.6 3.5-2.1 9.1-1.4 2.1-1.2 0.5-2.2 0.3-9.1-1-4.6-0.1-3.4 0.4-3.4 1.1-3.5 1.8-4.5 3.5-9.3 9.6-5.5 4.6 0-54.7z"/><path fill="#73c3b8" d="M280 412.9l63.8 0-1.1 4.1-2.3 2.9-3.4 2.9-9 6-2.4 2.3-1.3 2.3-1.4 5.7-1.1 2.3-0.8 0.5-2.3 0.6-6.8-0.2-4.5 0.4-3.5 0.8-3.4 1.3-6.8 4.9-10.8 11-4 3.6 0-51.4z"/><path fill="#61b7ac" d="M280 412.9l61.1 0-1.9 3.9-3.4 3-5.7 3-9.1 3.5-1.8 1.4-3.9 5-2.2 2.2-3.3 1.9-9.3 4-4.5 3.1-5.7 5-11.4 11.7 0-47.7z"/></g><path fill="none" stroke="#000" stroke-width="0.95" stroke-linejoin="round" d="M380.4 412.9l-3.6 4.6-2.6 4.5-1.9 4.6-0.9 3.4-0.4 2.2-0.1 4.6 0.8 3.4 0.6 1.4 1.4 2 1.3 1.2 1.8 1.2 3.4 1.5 3.5 0.9 4.5 0.7 5.7 0.3 4.6-0.2 3.4-0.6 13.6-3.7 5.7-0.8 3.4-0.1 4.6 0.4 4.6 0.8 4.5 1.3M357.5 518.8l-1 1.1-0.5 1.2-0.3 1.1 0.1 2.3 0.5 1.7 0.9 1.7 3.1 4.6 1.1 2.2 0.5 2.3 0.7 6.8 0.6 3.5 1.1 3.4 1.1 2.3 1.2 1.6 1.1 1.1 1.1 0.9 2.3 0.9 1.2 0.3 2.2-0.1 2.3-0.6 1.2-0.6 2.2-1.6 2.3-2.8 1.4-2.6 1-3.4 0.4-3.4 0-2.3-0.3-2.3-1-3.4-1.5-3.5-2.1-3.3-1.8-2.3-2.7-2.3-2.5-1.4-4.6-2.1-2.8-1-2.8-0.8-2.3-0.3-1.2 0.1-1.1 0.3-1.1 0.7M369.7 412.9l-2.8 5.7-1.5 4.5-1.5 8-0.4 5.7 0.2 2.3 0.4 2.3 1.2 3.4 2.3 3.4 2.4 2.3 2.3 1.7 2.2 1.3 4.6 1.9 6.8 1.9 8 1.5 4.6 0.4 3.4 0 11.4-2 4.5-0.5 3.4 0.1 3.4 0.6 3.5 1.2 3.7 2.1 3.1 2.7 3.4 4.1M384.9 572.3l3.3-4.5 2.3-4.2 1.9-5 1.5-5.6 0.9-6.9 0.1-5.7-0.8-5.7-1.3-4.5-2.2-4.6-2.4-3.6-3.4-4-3.4-3-2.3-1.5-2.3-1.2-4.5-1.7-5.7-1.2-4.6-0.3-3.4 0.3-2.3 0.4-3.3 1-2.5 1.2-2.1 1.3-2.9 2.1-2.3 2.3-2.6 3.4-1.3 2.2-0.7 2.3-0.2 2.3 0.2 1.1 0.3 1.2 1.2 2.3 4.3 5.6 1.8 3.5 0.7 3.4 0 2.3-0.5 2.2-1 2.3-1.6 2.5-1.1 1.1-2.3 1.4-3.4 1-5.7 0.5-3.4 0.6-2.2 0.9-1.6 1.1-0.9 1.2-0.6 1.1-0.6 2.3 0 1.1 0.3 2.3 1.4 3.4M362.8 412.9l-1.5 3.4-0.9 3.4-3.1 14.8-0.6 5.7 0 2.3 0.3 2.3 1.1 3.4 1.6 2.9 2.4 2.8 2.6 2.3 3 2.2 2.3 1.5 3.4 1.9 4.6 1.8 9.1 2.5 5.7 0.9 5.7 0.2 4.5-0.2 9.1-0.9 3.4-0.1 3.5 0.3 3.4 0.9 2.2 1.1 1.2 0.8 1.1 1.1 1.1 1.9 2.2 5.7 1.3 2.3 1.1 1.1 1.6 1.2 4.1 1.8M400.2 572.3l1.3-5.7 0.9-5.7 0.5-6.8 0.1-9.1-0.3-5.7-0.6-4.6-1.2-4.5-1.3-3.5-1.1-2.2-1.5-2.3-3.6-4.5-5.3-5.7-3.3-3.1-2.3-1.9-3.4-2.3-2.3-1.2-2.3-0.8-3.4-0.8-4.5-0.3-6.9 0.4-7.9 1.2-5.7 1.3-8 2.6-4.6 1.3-4.5 0.7-9.1 0.8-6.8 1.4-8 2.5-7.2 2.7-4.6 2.3-1.9 1.2-2.3 1.7-1.6 1.6-1.8 2.3-2.5 4.6-0.9 2.3-1 3.4-0.7 3.4-0.5 3.4-0.2 6.8 0.3 3.5 0.5 4.5 1.6 7.3 2.5 7.5M319.9 472l-2.7 1.2-1.4 1.2-0.9 1.1-0.9 2.3 0 2.3 0.3 1.1 1 2 1.2 1.3 1.1 0.9 2.3 1 1.1 0.1 2.3-0.2 1.1-0.5 2.1-1.2 2.5-2.2 1.1-1.7 0.9-1.8 0.4-2.2-0.1-1.2-0.5-1.1-0.8-1.2-1.9-1.1-1.4-0.4-2.3-0.3-3.4 0.3M357.6 412.9l-3.1 12.5-4.7 12.5-1.1 3.5-0.8 4.5-0.8 9.1-0.6 2.3-0.7 1.1-1.5 1.2-2.8 0.9-11.4 2.5-9.1 1.5-4.5 1-2.8 0.9-2.6 1.1-3.7 2.3-2.5 2.3-1.7 2.3-1.2 2.3-0.5 2.2-0.1 1.2 0.2 2.3 0.8 2.2 1.2 2.3 2.1 3.4 1 2.3 0 1.1-0.2 1.2-0.5 1.1-0.9 1.1-1.2 0.8-2.2 1.1-9.1 2.5-4.6 1.8-4.6 2.7-4.5 3.7M412.8 572.3l0.2-5.7-0.1-5.7-1.5-15.9-1.2-8-1.1-4.5-1-3.5-1.9-4.5-2.7-4.6-2.7-3.4-9-10.2-5.1-6.9-2.9-4.5-1.7-3.4-0.6-2.3-0.2-2.3 0.6-2.3 1.2-2.2 2.4-2.3 2.7-1.7 3.4-1.3 5.7-1.5 6.8-1.1 4.6-0.3 4.6 0.2 3.4 0.8 2.3 1.1 1.1 0.8 2.3 2.2 4.6 5.3 2.4 2.3 4.4 3.1 4.5 2.4M352.9 464l1.1-0.1 2.3 0.2 2.3 0.9 1.1 0.7 1.2 1 1.5 2 1.1 2.3 0.6 2.2 0.3 2.3 0.4 8-0.1 2.3-0.3 1.1-1.2 2.3-1 1.1-1.4 1.2-2.2 1-1.1 0.2-2.9-0.1-2.8-0.5-2.7-0.6-2.3-1.2-1.1-1.1-0.3-1.2 0.1-2.2 2.6-9.1 1.7-9.2 0.9-2.2 1.1-0.9 0.6-0.3M353.3 412.9l-1.1 5.7-0.6 2.3-1 2.5-2.2 4.3-6.9 10.7-1.3 3-2 6.8-1.1 2.3-1.8 2.2-1.2 1.2-1.7 1.2-2.3 1.2-2.2 0.8-4.6 1-9.1 1.2-4.6 0.9-4.5 1.6-4.6 2.4-4.5 3.3-4.6 3.9-1.4 1.8-6 9.2-5.1 6.1M426.6 572.3l-0.8-8-1.7-9.1-3.2-12.5-3.4-10.2-3.3-8-3.1-5.7-3.3-4.6-6.7-7.9-1.6-2.3-1.3-2.3-1.4-3.4-0.6-2.3-0.2-2.3 0.2-2.2 0.8-2.3 1.5-2.2 1.2-1.2 2.2-1.5 2.2-1 2.3-0.6 3.4-0.2 2.3 0.2 3.4 1.2 2.3 1.3 2.3 1.8 5.7 5.4 3.4 2.9 4.6 3.2 4.5 2.5M348.5 412.9l-0.4 4.5-0.9 2.3-2.3 3.3-7.5 8.1-2.4 3.4-1.6 3.4-2.2 8-1.2 2.3-1 1.2-1.1 1-1.2 0.6-2.3 0.6-3.4 0.3-7.9-0.3-4.6 0.1-3.4 0.6-3.4 1.2-3.5 1.9-3.4 2.5-3.4 3.3-4.5 4.9-8 6.7M438.3 545.8l-4.1-7.7-7.3-11.4-2.3-3.8-1.9-4.1-3.3-8-1.2-2.3-1.7-2.2-4.4-4.6-0.8-1.1-1.3-2.3-0.3-1.1 0.1-1.6 0.4-0.7 0.8-0.9 1.1-0.3 1.2 0.4 1.1 0.8 1 1.1 4.1 5.7 1.7 2 1.2 0.9 3.4 2.2 8 4.1 4.5 2.8"/></g><g font-size="9.2" fill="#000" stroke="#000" stroke-width="0.12"><circle cx="341.6" cy="441" r="1.05" fill="#000"/><text x="344.2" y="444.5">Fp1</text><circle cx="375.6" cy="441" r="1.05" fill="#000"/><text x="378.2" y="444.5">Fp2</text><circle cx="315.2" cy="461.1" r="1.05" fill="#000"/><text x="317.8" y="464.6">F7</text><circle cx="402" cy="461.1" r="1.05" fill="#000"/><text x="404.6" y="464.6">F8</text><circle cx="336.7" cy="465.9" r="1.05" fill="#000"/><text x="339.3" y="469.4">F3</text><circle cx="380.5" cy="465.9" r="1.05" fill="#000"/><text x="383.1" y="469.4">F4</text><circle cx="358.6" cy="466.9" r="1.05" fill="#000"/><text x="361.2" y="470.4">Fz</text><circle cx="291.4" cy="471.1" r="1.05" fill="#000"/><text x="294" y="474.6">FT9</text><circle cx="425.8" cy="471.1" r="1.05" fill="#000"/><text x="428.4" y="474.6">FT10</text><circle cx="321.2" cy="478.1" r="1.05" fill="#000"/><text x="323.8" y="481.6">FC5</text><circle cx="396" cy="478.1" r="1.05" fill="#000"/><text x="398.6" y="481.6">FC6</text><circle cx="346.4" cy="479.8" r="1.05" fill="#000"/><text x="349" y="483.3">FC1</text><circle cx="370.8" cy="479.8" r="1.05" fill="#000"/><text x="373.4" y="483.3">FC2</text><circle cx="305" cy="492.8" r="1.05" fill="#000"/><text x="307.6" y="496.3">T7</text><circle cx="412.2" cy="492.8" r="1.05" fill="#000"/><text x="414.8" y="496.3">T8</text><circle cx="332.8" cy="493.1" r="1.05" fill="#000"/><text x="335.4" y="496.6">C3</text><circle cx="384.4" cy="493.1" r="1.05" fill="#000"/><text x="387" y="496.6">C4</text><circle cx="358.6" cy="493.1" r="1.05" fill="#000"/><text x="361.2" y="496.6">Cz</text><circle cx="321.2" cy="507.1" r="1.05" fill="#000"/><text x="323.8" y="510.6">CP5</text><circle cx="396" cy="507.1" r="1.05" fill="#000"/><text x="398.6" y="510.6">CP6</text><circle cx="346.2" cy="506" r="1.05" fill="#000"/><text x="348.8" y="509.5">CP1</text><circle cx="371" cy="506" r="1.05" fill="#000"/><text x="373.6" y="509.5">CP2</text><circle cx="315.2" cy="524.1" r="1.05" fill="#000"/><text x="317.8" y="527.6">P7</text><circle cx="402" cy="524.1" r="1.05" fill="#000"/><text x="404.6" y="527.6">P8</text><circle cx="336.7" cy="519.6" r="1.05" fill="#000"/><text x="339.3" y="523.1">P3</text><circle cx="380.5" cy="519.6" r="1.05" fill="#000"/><text x="383.1" y="523.1">P4</text><circle cx="358.6" cy="518.5" r="1.05" fill="#000"/><text x="361.2" y="522">Pz</text><circle cx="342.2" cy="543.8" r="1.05" fill="#000"/><text x="344.8" y="547.3">O1</text><circle cx="375" cy="543.8" r="2.55" fill="#fff" stroke="#000" stroke-width="0.9"/><text x="377.6" y="547.3">O2</text><circle cx="358.6" cy="546.6" r="1.05" fill="#000"/><text x="361.2" y="550.1">Oz</text></g><circle cx="358.6" cy="492.6" r="75.2" fill="none" stroke="#000" stroke-width="2.8"/><path fill="none" stroke="#000" stroke-width="2.7" stroke-linejoin="round" d="M344.8 417.8L354.6 407.7Q358.6 404 362.6 407.7L372.4 417.8"/><path fill="none" stroke="#000" stroke-width="2.6" stroke-linejoin="round" d="M432.2 477C433.6 474.7 437.9 473.9 439.9 476C440.7 477 440.9 478.6 440.9 480.6L441 502.6C441.1 505.1 442 506.6 441.8 509.1C441.5 512.3 438.8 513.1 436.1 512.8C434.6 512.6 433.4 511.9 432.8 510.9"/><path fill="none" stroke="#000" stroke-width="2.6" stroke-linejoin="round" d="M285 477C283.6 474.7 279.3 473.9 277.3 476C276.5 477 276.3 478.6 276.3 480.6L276.2 502.6C276.1 505.1 275.2 506.6 275.4 509.1C275.7 512.3 278.4 513.1 281.1 512.8C282.6 512.6 283.8 511.9 284.4 510.9"/><clipPath id="cp21"><circle cx="551.2" cy="492.6" r="75.2"/></clipPath><g clip-path="url(#cp21)"><g filter="url(#bl)" fill-rule="evenodd"><circle cx="551.2" cy="492.6" r="78.2" fill="#9d6116"/><path fill="#a96c1e" d="M472.7 412.9l158.3 0 0 159.4-159.5 0 0-159.4zM557.6 501.7l-9.8 2.4-11.4 0.5-6.8 1-1.7 0.7-1.3 1.1-0.4 1.1 0.3 2.3 2 3.3 2.3 2.4 3.4 2.5 4.5 1.9 4.6 1 6.8 0.5 6.9 2.1 3.4 0.6 3.4 0.1 3.4-0.6 4.5-2.1 2.4-2.6 0.6-2.2 0.2-2.3-1.2-5.7-1-2.3-2.1-3.1-3.4-2.6-3.4-0.8-5.7 0.7z"/><path fill="#b37625" d="M472.7 412.9l158.3 0 0 159.4-159.5 0 0-159.4zM562.9 490.3l-10.5 6.6-6.8 2.8-6.9 0.9-12.5-0.2-3.4 0.6-1.7 0.7-1.7 1.6-0.9 1.8 0 2.3 0.9 2.3 2.2 3.4 5.7 6.3 5.7 4.4 5.9 3 7.8 2.3 9.1 1 8-0.8 5.7-1.8 3.4-2.1 2.1-2.1 1.5-2.2 1-2.3 0.8-6.8-0.4-10.3-1.4-4.5-1.5-2.3-2.3-2.3-4.4-2.7-2.2-0.4-2.3 0.4z"/><path fill="#bd7f2c" d="M472.7 412.9l158.3 0 0 159.4-159.5 0 0-159.4zM562.4 484.6l-8.9 7.4-5.7 3.5-3.4 1.3-6.8 1-13.7-1.3-4.5 0.8-2.3 1.5-2.1 2.9-0.9 3.4 0.2 2.3 1.6 3.3 2.3 3.1 4.6 5.3 4.5 4.5 6.9 5 7.9 3.8 6.9 1.6 7.9 0 9.2-2 3.4-1.4 3.4-2 4.2-4.1 2.4-4.6 1.3-4.5 1.8-10.3 1.8-6.8 0-2.3-1.1-2.3-2.4-2.2-9.1-5.7-3.5-1.6-2.2-0.5-2.3 0.2-1.2 0.6z"/><path fill="#c58e3d" d="M472.7 412.9l158.3 0 0 159.4-159.5 0 0-159.4zM563.5 480.1l-3.1 1.9-5.7 5.7-3.3 2.6-4.7 2.9-3.4 1.3-3.4 0.7-4.6 0-13.7-2.3-2.2 0.3-2.3 0.8-2.3 1.6-1.9 2.7-0.9 2.3-0.7 3.4 0.3 3.4 0.9 2.3 3.8 5.7 9.4 10.2 3.9 3.4 4.6 3.2 6.8 3.5 6.8 1.8 6.9 0.1 7.9-1.6 4.6-1.6 4.5-2.2 3.5-2.5 2.8-2.9 2.3-3.5 1.5-3.4 3.4-11.4 1.4-3.3 2.2-3.1 5-4.9 1-2.3-0.2-1.2-0.8-1.1-3.4-2.3-20.9-9.2-3.4-1-2.3-0.1z"/><path fill="#cc9a4c" d="M472.7 412.9l158.3 0 0 159.4-159.5 0 0-159.4zM562.4 477.8l-3.2 1.9-5.8 6.1-3.3 2.8-3.4 2.2-4.6 1.8-3.4 0.5-4.5-0.2-10.3-2.9-3.4-0.6-2.3 0.1-2.3 0.7-2.2 1.5-2.5 3.2-1.7 4.5-0.5 4.6 0.4 3.4 0.9 2.5 1.7 3.2 2.8 3.7 10.3 11.5 4.5 4 4.6 3.2 7.9 3.8 6.9 1.4 6.8-0.3 9.1-2.5 8-3.8 3.4-2.5 2.5-2.6 2.1-2.8 2.1-4 5.8-14.1 2.3-2.6 8-6.2 2.2-3.3 0.3-2.3-0.2-1.1-1.8-2.3-3.9-2.4-14.8-5-12.6-4.9-3.4-0.6-2.3 0.3z"/><path fill="#d2a75c" d="M472.7 412.9l158.3 0 0 159.4-159.5 0 0-159.4zM562.4 475.5l-2 0.8-2.3 1.6-6.5 6.7-3.8 3.2-3.4 1.9-3.4 1.1-3.4 0.3-4.6-0.6-10.2-4-3.4-0.9-2.3 0-2.3 0.7-3.4 2.6-2.3 3.6-1.6 4.7-0.7 4.5 0.1 3.4 0.8 3.4 2.8 5.7 11.1 13.7 8 7.4 8 5 6.8 2.5 6.8 0.8 3.5-0.3 4.5-0.9 5.7-2 5.7-2.5 4.6-2.7 3.4-2.9 2.3-2.7 2.2-3.4 5.7-11.9 2.1-3.5 2.5-2.7 5.7-4.4 3.2-3.1 1.9-3.4 0.7-3.5-0.6-2.2-1.8-2.6-2.4-2-3.3-1.7-14.8-4.6-13.7-4.9-3.4-0.5-2.3 0.2z"/><path fill="#d9b76f" d="M472.7 412.9l158.3 0 0 159.4-159.5 0 0-159.4zM562 473.2l-2.8 1.2-2.3 1.6-6.8 7.4-2.7 2.4-3 1.8-3.4 1.2-3.4 0.3-4.6-0.8-3.4-1.4-6.8-4-3.4-1.4-3.5-0.1-2.2 0.8-3.4 2.7-2.3 3.3-2.1 5.5-1 5.7 0 4.6 0.5 3.4 2.6 6.1 10.2 13.5 8 8.3 8 5.8 7.9 3.6 4.6 1.1 3.4 0.3 6.8-0.7 5.7-1.7 8-3.4 4.6-2.6 4.5-3.7 3.9-5 6-11.3 2.6-4.1 2.6-2.8 6.8-5.7 2.9-3.4 1.8-3.4 0.7-3.4-0.4-3.4-1.8-3.4-2.3-2.2-3.4-2.2-4.6-1.8-12.5-3.7-12.5-4.3-3.4-0.8-3.5 0z"/><path fill="#dfc37e" d="M472.7 412.9l158.3 0 0 159.4-159.5 0 0-159.4zM562.2 441.4l-1.6 1.1-0.1 1.1 1 0.8 1.1 0 1.5-0.8 0.5-1.1-0.8-1.1-1.2-0.1zM560.5 471l-2.4 1.2-2.3 1.8-9.1 10-3.4 2.1-3.4 1-3.5 0-4-1.3-3.6-2.3-6-5.1-2.3-1.1-3.4-0.3-3.4 0.9-4.6 3.2-3.3 4.7-2.1 6.8-0.9 8 0.3 4.5 0.8 3.4 1.3 3.5 1.9 3.4 12.3 15.8 7.9 7.7 8 5.3 4.6 2.1 4.5 1.4 4.6 0.7 3.4 0 8-1.6 5.7-2.1 7.9-3.9 4-2.7 3.7-3.4 3.5-4.5 4.8-9.1 3-4.6 2.7-2.9 6.9-6.2 3.3-3.9 2-4.1 0.8-4.5-0.4-3.4-1.4-3.5-2.9-3.4-3.8-2.5-5.7-2.3-26.2-8.5-3.4-0.8-3.4 0.2z"/><path fill="#e4ca8c" d="M472.7 412.9l158.3 0 0 159.4-159.5 0 0-159.4zM558.9 435.7l-4.2 1.8-3.1 2.7-2.1 3.4-0.5 3.5 0.8 2.2 1 1.2 2.7 1.9 4.6 1.4 3.4-0.3 3.4-1.8 3.4-3.2 2.1-3.7 0.3-3.4-1.2-2.9-2.3-2-3.4-1.1-4.6 0.2zM559.7 467.5l-2.8 1.7-2.2 2.2-9.1 11-2.3 1.6-3.4 1.2-2.3 0-2.3-0.5-3.9-2.3-2.9-3.5-3.4-5.9-1.2-0.8-2.3-0.3-2.2 0.5-4.6 1.5-3.4 1.7-3.2 2.2-2.3 2.3-2.7 4.5-1 3.4-0.9 5.7-0.3 9.1 0.7 4.6 1.1 3.4 1.6 3.4 2.2 3.5 12.8 16.3 4.5 4.6 5.7 4.5 4.6 2.8 4.5 2.2 4.6 1.5 4.5 0.8 3.4 0.2 4.6-0.5 4.6-1 5-1.8 6.3-2.9 5-2.8 4.2-3.2 3.4-3.6 2.4-3.5 4.4-8.3 2.3-3.5 3.4-3.7 6.8-6.2 3.6-4.5 2.5-5.7 0.6-5.7-1-4.1-2-3.8-2.5-2.8-3.4-2.3-5.7-2.5-20.5-6.7-10.3-4.1-2.3-0.4-2.2 0.3z"/><path fill="#e9d39d" d="M472.7 412.9l158.3 0 0 159.4-159.5 0 0-159.4zM558.6 432.2l-3.9 1.1-2.6 1.2-3.4 2.3-2.6 2.3-4.3 5.7-4.2 8.9-1.7 2.5-8.6 4.5-7.7 6.8-11.4 6.9-4.1 3.4-2.5 3.4-1.3 3.4-0.7 4.6-0.6 9.1 0.2 4.5 0.7 4.6 1.5 4.6 1.7 3.4 11.7 16 6.8 7.6 8 6.4 4.6 2.7 4.5 2.1 4.6 1.4 4.5 0.8 3.4 0.2 4.6-0.4 6.8-1.7 9.1-3.9 6.9-3.9 5.3-4.6 4.5-5.6 4.1-8 2-3 10.3-10.1 3.4-4.3 2.5-5.4 1-5.7-0.4-4.5-1.6-4.6-2.7-3.9-3.4-2.9-6.8-3.3-22.9-8.1-4-2.3-2.4-2.3-1.3-2.2-0.1-2.3 0.9-2.3 3.8-5.7 2.1-4.2 0.8-3.8-0.2-3.4-1.8-3.5-3.4-2.9-4.5-1.6-4.6 0zM539.9 458.3l4.5-0.1 5.2 1.4 3.4 2.3 0.9 2.2-1 3.4-6.2 10.3-3 3.4-2.7 1.6-3.4 0.3-3.4-1.7-2-2.5-1-3.4 0.4-3.4 4.8-10.2 1.2-2.1 1.9-1.4z"/><path fill="#eedbaa" d="M472.7 412.9l158.3 0 0 159.4-159.5 0 0-159.4zM556 430l-6.1 2.2-6.7 4.6-4.6 4.6-8.4 10.2-11.7 12.5-4 3.4-9.9 6.4-3.5 3-2.1 3.2-1.3 4.1-0.6 14.1 0.3 4.5 0.8 4.6 1.4 4.6 1.6 3.4 2.2 3.5 10.3 13.9 3.5 4.2 4.4 4.4 4.6 3.8 4.6 3.1 4.5 2.5 4.6 1.8 4.5 1.2 4.6 0.7 4.5-0.1 4.6-0.6 6.8-2.1 9.1-4.1 6.2-3.8 5.4-4.5 4.4-5.7 5.7-10.1 9.3-9.3 4.3-5.5 2.7-5.9 0.8-3.4 0.3-3.4-0.4-4.5-1.5-4.6-1.9-3.4-3.4-3.7-5.7-3.4-22.4-8.9-2.6-1.2-2.3-1.7-1.3-2.7 0-2.3 3.6-10 0.9-3.7 0.1-4.5-0.9-3.5-2.4-3.6-2.3-2-2.3-1.3-5.7-1.5-5.7 0.3zM542.1 468.6l1.2 0.1 1.4 1.1 0.1 3.4-1.7 4.6-2.1 2.3-1.1 0.5-2.3-0.2-1.2-0.9-0.9-1.7-0.2-2.3 0.8-2.3 1.5-2 2.3-1.8 2-0.7z"/><path fill="#f2e2b8" d="M472.7 412.9l158.3 0 0 159.4-159.5 0 0-159.4zM555.3 427.7l-4 1.1-3.5 1.6-3.4 1.9-4.5 3.4-7 6.8-14 17.1-4.1 4.5-3.4 2.7-9.1 5.6-3.4 2.9-1.9 2.5-1.3 3.4-0.6 3.4 0 4.6 0.7 14.8 0.9 4.5 1.6 4.6 4 7.2 9.8 13.3 4.9 5.7 4.8 4.5 5.5 4.4 4.6 2.8 5.7 2.7 4.8 1.5 5.4 1 4.6 0.2 5.7-0.7 8-2.4 9.1-4.2 6.8-4.2 5.7-5 4.1-5.2 5.3-9.1 9.9-10.7 3.5-4.7 1.9-3.9 1.2-3.5 0.8-6.8-0.5-4.8-1.8-5.4-1.9-3.4-3.2-3.6-5.6-3.6-17.9-7.7-3.9-2.2-2.5-2.3-1-2.3-0.1-2.3 2.4-11.3 0.2-4.6-0.9-4.6-2.7-4.5-4.1-3.4-4.8-2.1-4.6-0.7-5.7 0.4z"/><path fill="#f6e9c7" d="M472.7 412.9l158.3 0 0 159.4-159.5 0 0-159.4zM556 425.4l-4.9 1.2-5.5 2.3-5.5 3.3-5.9 4.9-6.2 6.5-11.4 14.8-4 4.6-3.5 2.7-9.1 5.3-4 3.4-1.6 2.3-0.9 2.2-0.7 5.7 1.1 18.2 1.1 5.7 1.5 4.6 2.2 4.6 2.1 3.4 11.8 15.9 4.5 4.8 5.7 5.1 5.7 4 5.7 3.1 5.7 2.3 5.7 1.4 4.5 0.4 5.7-0.2 8-1.9 10.2-4.2 8-4.6 6.8-5.6 4.7-5.7 5.8-9.1 8.9-10.2 3.2-4.6 3-6.9 0.9-3.4 0.4-4.5-0.5-5.7-1.3-4.6-2.1-4.5-2.5-3.5-2.3-2-3.4-2.2-12.5-5.5-4.5-2.4-3.7-2.7-2-2.2-1-2.3-0.3-2.3 1.2-11.4-0.1-4.5-1.3-4.6-2.8-4.6-3.7-3.3-4.6-2.3-5.7-1.3-5.7 0z"/><path fill="#f6ecd1" d="M472.7 412.9l158.3 0 0 159.4-159.5 0 0-159.4zM551.8 424.3l-4 1.3-4.6 2.1-4.5 2.7-4.5 3.4-4.5 4.1-4.2 4.6-11.9 15.9-3 3.5-3.8 2.7-9.1 5.1-3.4 2.6-2.3 3-0.9 2.5-0.5 3.4 0.1 4.6 1.7 18.2 1.3 5.7 1.8 5.1 2.2 4.6 3.4 5.1 8 10.9 5.4 6.2 6 5.5 5.7 4.3 5.7 3.3 5.7 2.6 5.7 1.7 5.7 0.8 5.7-0.1 6.1-1.1 9.8-3.3 9.1-4.6 6.9-4.7 5.9-5.6 3.7-4.5 5.4-8 7.7-9.7 3.4-5.3 2.1-4.4 1.4-4.3 0.6-3.6 0.1-4.6-0.7-5.4-1.5-4.8-2-4.3-2.6-3.7-2.6-2.3-2.7-1.8-15.1-7.3-3.1-2.3-2.8-3.4-1-2.3-0.3-2.2 0.4-11.4-0.4-4.6-1.4-4.5-3-4.6-2.3-2.3-2.9-2-5.9-2.5-6.6-1-3.5 0.1-4.5 0.7z"/><path fill="#f6eedb" d="M472.7 412.9l158.3 0 0 159.4-159.5 0 0-159.4zM553.5 422l-5.7 1.5-6.7 3.1-5.8 3.6-5.7 4.6-7.2 7.7-10.7 14.8-3 3.4-3 2.1-10.2 5.6-4.4 3.7-1.5 2.3-0.8 2.3-0.4 5.7 2.4 21.6 1.2 5.7 1.5 4.5 2 4.6 3.4 5.5 11.4 15 5.4 5.7 5.9 5 6 4.1 6.6 3.5 5.9 2.2 6.6 1.4 5.7 0.3 5.7-0.6 9.1-2.5 11.4-5.1 8-5 7.5-6.7 3.9-4.6 11.3-15.6 4.6-7.2 2-4.5 1.4-4.4 0.6-3.6 0.2-4.5-0.6-5.7-1.3-5-2.2-5.3-2.4-3.7-2.3-2.3-3.4-2.4-14.6-7.5-2.7-2.3-1.8-2.3-1.1-2.3-0.8-3.4 0-11.4-0.7-4.5-1.6-4.6-2.9-4.2-2.6-2.6-3.1-2.2-5.7-2.6-6.8-1.3-8 0.4z"/><path fill="#f5f1e6" d="M472.7 412.9l158.3 0 0 159.4-159.5 0 0-159.4zM550.5 420.9l-6.1 2-5.7 2.8-6.5 4.3-5.4 4.5-7.3 8-11.8 15.9-3.1 2.5-11.4 6.5-4.2 3.6-1.5 2.2-0.8 2.3-0.2 6.9 2.9 22.7 1.3 5.7 1.5 4.6 2.1 4.6 3.4 5.7 6.7 9 5.9 7 5.6 5.6 6.9 5.4 5.7 3.7 7 3.4 6.6 2.1 6.9 1.1 5.7 0 6.8-1.2 10.2-3.4 10.8-5.4 8.2-5.7 7.1-6.9 3.7-4.5 9-12.9 5.1-8.8 1.8-4.5 1.3-4.6 0.5-4.5 0-4.6-0.6-4.5-1.6-5.7-2-5.1-2.4-4-2.1-2.3-3.2-2.3-14.6-8-2.4-2.2-1.6-2.3-1.4-4.6-0.5-11.4-1-5.7-1.9-4.5-3.3-4.6-5.5-4.5-3.4-1.8-4.5-1.6-8-1.1-8 0.9z"/><path fill="#f5f4f0" d="M472.7 412.9l158.3 0 0 159.4-159.5 0 0-159.4zM553.7 418.6l-7 1.6-6.8 2.9-6.9 3.9-6.7 5.2-7.7 8-9.5 12.9-3.4 3.9-3.4 2.6-11.2 6.8-3.9 3.4-2 3.4-0.7 5.7 0.4 5.7 2.6 18.4 1 5.5 1.7 5.7 2.3 5.7 3 5.3 9.5 12.9 5.3 5.9 6 5.5 6.5 5 6.8 4.2 6.8 3 6.9 2 6.8 0.9 6.1-0.3 5.3-0.9 5.7-1.6 12.5-5.4 10.3-6.4 8.3-7.3 4-4.6 3.6-4.9 6.8-10.4 3.5-6.2 1.9-4.6 1.4-4.6 0.8-4.6 0.1-4.5-0.5-5.7-1.5-5.9-2.4-6.6-2.7-4.6-2.2-2.3-2.9-2.1-13.7-7.8-1.7-1.4-1.7-2.3-1-2.3-0.8-3.4-0.8-11.4-0.8-4.6-1.9-4.5-3-4.6-5.4-4.8-6.8-3.6-3.4-1.1-4.6-0.8-7.9 0z"/><path fill="#f0f4f3" d="M472.7 412.9l158.3 0 0 159.4-159.5 0 0-159.4zM551 417.4l-7.7 2.3-6.9 3.2-6.8 4.3-6.2 5-6.4 6.9-9.6 12.5-3 3.4-4.3 3.4-10.3 6.7-4 3.6-1.7 2.3-0.8 2.2-0.5 3.5 0 3.4 3.5 25 1.2 5.7 1.8 5.7 2.6 5.7 3.3 5.7 5 6.8 5.7 6.9 6.6 6.6 6.9 5.7 6.8 4.5 6.8 3.5 6.9 2.5 6.8 1.4 6.8 0.2 6.9-0.8 10.4-3.1 12.3-5.8 10.2-6.8 8.6-7.9 3.7-4.6 3.7-5.5 5.7-9.3 2.8-5.7 1.8-4.6 1.4-5.6 0.5-4.6 0-4.5-0.8-5.7-1.9-6.9-2.6-6.8-2.2-3.4-4.7-4.1-12.5-7.4-2.5-2.2-1.5-2.3-1.7-5.7-0.8-10.2-0.9-4.6-2.3-5.7-3.3-4.5-2.9-2.9-3.5-2.6-3.4-1.9-4.5-1.9-4.6-1.1-4.5-0.5-4.6 0-4.6 0.6z"/><path fill="#e7f2f0" d="M472.7 412.9l158.3 0 0 159.4-159.5 0 0-159.4zM549.1 416.3l-7.2 2.3-7.7 3.7-6.9 4.4-6.6 5.5-5.3 5.7-9.7 12.4-3.4 3.6-4.2 3.4-9.5 6.6-4.5 4.3-1.7 2.8-0.7 2.2-0.4 3.5 0 4.5 3.7 25.1 1.6 6.8 2 5.7 2.7 5.7 3.5 5.7 5.2 6.8 6 6.8 7.1 6.9 7.3 5.7 6.9 4.3 6.9 3.2 6.8 2.2 6.8 1.2 6.9 0.1 6.8-1 5.7-1.5 5.7-2.1 12.5-6.1 10.3-7 8.6-8.1 3.9-5.1 4.5-7.2 3.5-6 3.1-6.8 1.9-5.7 1-4.5 0.5-4.6-0.1-4.5-0.9-5.7-1.5-5.7-2.8-8-1.8-3.4-4-4-13.4-8.5-2.3-2.3-1.4-2.2-1.4-4.7-1.3-11.3-1-4.6-2.6-5.7-3.5-4.5-3.6-3.5-3.2-2.2-3.9-2.2-4.5-1.7-4.6-1.1-4.5-0.6-4.6 0.1-5.7 0.7z"/><path fill="#ddefed" d="M472.7 412.9l158.3 0 0 159.4-159.5 0 0-159.4zM554.5 414l-7.8 1.4-8.7 3.2-8.4 4.5-8 5.9-6.8 6.8-13.7 16.3-4.7 4.1-8.9 6.6-3.8 3.6-1.9 2.6-1.3 3.1-0.6 3.4-0.2 3.4 0.6 5.7 3 20.5 2.9 11.4 2.4 6 2.9 5.4 3.9 5.7 4.5 5.7 6.2 6.8 6.4 5.9 8 6.1 6.8 4.1 7.2 3.3 7.6 2.3 6.9 1 6.8-0.1 5.7-0.9 5.7-1.4 5.7-2.1 8-3.5 6.2-3.3 5.3-3.4 5.9-4.6 5-4.5 4.2-4.6 3-4.2 7.9-14.2 2.4-5.5 1.7-5.7 1.1-5.7 0.2-4.5-0.4-5.7-1.2-5.7-2.6-8.4-2.3-5.7-1.1-1.9-2.3-2.4-13-8.9-2.6-2.3-1.5-2.1-1.9-4.8-1.4-11.3-1-4.6-1.9-4.6-3-4.5-3.1-3.4-3.6-3.1-4.2-2.6-3.8-1.8-4.6-1.6-4.5-0.9-4.6-0.4-4.5 0.1z"/><path fill="#d4ede9" d="M472.7 412.9l79.5 0-8.9 2-8 3.3-8.6 4.9-7.4 5.7-6.8 6.9-12.5 14.8-5.1 4.5-8.6 6.8-3.5 3.5-2.2 3-1.1 2.7-0.9 3.4-0.2 3.4 0.3 5.7 2.8 19.3 2.6 11.7 2.2 6.5 2.3 4.9 3.3 5.4 4.2 5.7 6.2 7.2 6.6 6.5 8.2 6.6 6.8 4.6 6.9 3.5 6.8 2.5 6.8 1.7 6.8 0.6 5.7-0.3 6.9-1.2 6.8-2 6-2.4 7.3-3.4 6.1-3.5 6.5-4.4 5.4-4.6 7.6-8 3.7-5.7 4.1-7.2 3-6.4 2.2-5.7 1.5-5.7 0.8-5.7 0-5.7-1-6.8-1.9-6.9-3.5-9.7-1.6-2.8-1.8-1.9-11.8-8.3-2.6-2.3-1.8-2.3-1.2-2.3-1.1-3.4-2.4-14.8-1.9-4.5-2.1-3.5-4.9-5.7-6.6-4.9-6.9-3.3-8.4-2 67.7 0 0 159.4-159.5 0 0-159.4z"/><path fill="#cbebe6" d="M472.7 412.9l72.5 0-7.6 2.6-8.4 4.2-7.6 5.1-6.8 6-16.4 18.5-14.2 12.6-3.1 3.4-2.1 3.4-1.2 3.4-0.6 3.4-0.2 4.6 3.5 25 2.7 11.4 2.1 5.7 2.7 5.7 3.7 5.7 4.4 5.7 6.2 7 6.8 6.4 7.5 5.9 7.3 4.8 6.9 3.4 7.9 2.8 6.9 1.4 6.8 0.5 5.7-0.4 5.8-1.1 6.7-1.9 6.8-2.6 7.3-3.4 6.4-3.7 6.2-4.3 5.6-4.6 7.6-7.9 6.8-11 3.4-7 2.3-5.8 1.7-5.8 1-5.7 0.2-6.9-1.1-7.9-4.1-13.3-2.3-5.6-1.1-1.6-2.3-2.2-11-8.1-3.9-4.5-2.2-5.7-1.5-10.3-1.1-4.5-2.1-4.6-3.2-4.7-4.1-4.4-5-3.9-5.7-3.2-5.6-2 61.4 0 0 159.4-159.5 0 0-159.4z"/><path fill="#bce5df" d="M472.7 412.9l67.9 0-5.7 2.3-6.4 3.3-5.6 3.5-4.7 3.5-7.1 6.7-15.2 17.1-13 11.9-3.4 4.1-2.3 4.5-1.2 4.6-0.3 5.7 3.2 23.9 2.5 11.4 2 5.7 2.5 5.7 2.5 4.5 3.6 5.2 6.1 7.3 6.5 6.6 6.8 5.9 6.8 5 6.9 4.2 6.8 3.1 6.8 2.3 7 1.4-74.2 0 0-159.4zM574 412.9l57 0 0 159.4-72.6 0 6.2-1.1 6-1.7 6.8-2.6 6.9-3.1 11.4-6.8 5.4-4 4.8-4.3 3.6-3.7 3.5-4.6 6.6-11.4 4.7-11.3 1.6-5.7 0.9-5.7 0.1-6.9-1.1-7.9-4.6-14.8-1.9-4.6-3.1-3.6-10.2-7.8-4.1-4.5-1.2-2.3-1.2-3.4-2.7-14.8-2.1-4.6-2.9-4.5-4.1-4.6-4-3.4-5.1-3.3-5.2-2.4z"/><path fill="#aee0d8" d="M472.7 412.9l64 0-5.9 2.7-5.4 3-5.1 3.4-5.5 4.4-6.8 6.8-13.3 15-12.9 12.2-3.4 4.3-2.3 4.6-1.3 5.1-0.3 5.7 2.9 22.7 2.3 11.4 4.1 11.4 2.3 4.6 2.9 4.5 5.3 6.9 6.3 6.8 6.1 5.7 7 5.6 6.8 4.6 5.7 3.2 6.8 2.9 6.2 1.9-67.7 0 0-159.4zM577.4 412.9l53.6 0 0 159.4-65.7 0 12.1-3.9 12.6-6.1 10.4-7.1 8.8-7.9 6.2-8 6.5-11.9 4-10.9 1.3-5.7 0.6-4.5 0.1-6.9-1.2-7.9-4.5-14.8-1.8-4.6-3.1-3.9-10.7-8.6-3.6-4.6-2.2-5.7-2.6-13.6-2-4.6-2.9-4.5-3.3-4.1-4.3-3.9-4.8-3.4-4.4-2.3z"/><path fill="#a0dad1" d="M472.7 412.9l60.6 0-10.5 5.7-4.9 3.4-5.4 4.5-5.8 5.7-14.3 16-11.8 11.6-3.3 4.3-2.3 4.6-1.4 5.7-0.3 5.7 0.4 5.7 2.4 17 2.3 11.4 4 11.4 2.2 4.6 2.8 4.5 4.6 6.2 5.6 6.4 5.8 5.7 5.7 4.8 6.8 5 6.1 3.8 6.5 3.3 6.4 2.4-63.4 0 0-159.4zM579.7 412.9l51.3 0 0 159.4-60.9 0 11.9-4.5 11.4-6.1 10.2-7.4 8-7.7 3.4-4.4 3.3-5.2 5.7-11.4 3.4-10.2 1.1-5.7 0.5-4.6-0.2-6.8-1.4-8-4.6-14.8-2-4.5-3.5-4.1-9-7.3-3.7-4.6-2.3-5.7-3.1-14.8-2.2-4.5-2.2-3.4-3.7-4.6-3.4-3.3-4.6-3.4-4-2.4z"/><path fill="#8fd3c9" d="M472.7 412.9l57.5 0-9.9 5.7-8.9 6.9-5.7 5.6-14.4 16-11.8 12-3.4 4.7-2.3 4.9-1.4 5.7-0.4 5.7 0.4 5.7 2.2 15.9 2.2 11.4 3.7 11.4 4.7 9.2 3.9 5.6 5.2 6.3 5.7 5.9 5.7 5.1 6.8 5.4 5.7 3.8 6.9 3.8 6.2 2.7-59.8 0 0-159.4zM582 412.9l49 0 0 159.4-56.9 0 11.3-4.7 11.4-6.6 9.1-7 7.7-7.9 6.2-9.1 5.5-11.4 3.2-10.2 1.5-10.3-0.2-6.8-1.1-6.8-5-16-1.8-4.4-3.5-4.4-9.6-8.3-3.3-4.5-2.1-5.7-3-13.7-1.4-3.4-2.8-4.5-2.8-3.8-3.4-3.6-4.6-3.7-3.9-2.6z"/><path fill="#81cec2" d="M472.7 412.9l54.6 0-6 3.4-6.5 4.6-5.7 4.8-6.5 6.5-25 27.4-3.8 6.1-2.3 7 0-59.8zM584.3 412.9l46.7 0 0 88.5-0.7-6.5-1.2-5.7-4.9-14.8-1.4-3.4-3.2-4.4-9.1-8-3.5-4.7-2.3-5.7-3-13.7-1.5-3.4-2.6-4.5-3.1-4.2-3.4-3.6-7.5-5.9zM471.6 489.2l2.4 17.1 2.4 10.2 3.7 10.3 5.1 9.2 4.1 5.6 4.8 5.7 10.5 10 6 4.8 6.5 4.4 11.1 5.8-56.7 0 0-83.6zM631 505.4l0 66.9-53.4 0 11.2-5.1 10.3-6.2 9.1-7.4 6.8-7.3 6.2-9.3 5.2-11.1 3.2-10.5 1.3-9.1z"/><path fill="#73c3b8" d="M472.7 412.9l51.9 0-5.7 3.4-6.3 4.6-10.3 9.5-24.5 26.9-3.9 5.7-2.4 5.4 0-55.5zM586.6 412.9l44.4 0 0 80.4-2.4-8.7-3.4-10.2-2.1-4.6-3.5-4.5-8.8-8-3-4.6-1.8-4.5-3.2-13.7-2.6-5.8-2.8-4.4-3.8-4.6-3.6-3.4-4.4-3.4zM471.6 498.3l2.1 12.5 2.8 10.3 4.1 9.6 5.4 8.6 8.5 10.2 9.8 9.1 10.8 8 10.2 5.7-53.8 0 0-74.2zM631 514.1l0 58.2-50.2 0 9.6-4.5 8.7-5.4 7.9-6.1 6.9-6.8 5.7-7.5 4.7-8.4 4.2-10.3 2.4-9.1z"/><path fill="#61b7ac" d="M472.7 412.9l49.3 0-10.6 7.3-10.6 9.8-23.6 26.1-3.3 4.6-2.4 4.6 0-52.4zM587.7 412.9l43.3 0 0 76.3-4.9-14.8-2.7-5.7-2.7-3.5-8.5-7.9-3.1-4.6-2.1-5.6-3-12.6-3.1-6.8-3-4.5-2.9-3.5-3.4-3.4-4.2-3.4zM471.7 507.4l2.5 10.3 3.2 9.1 4.1 7.9 5.5 8 8 9.1 8.4 7.7 9.5 7.1 9.8 5.7-51.2 0 0-65.9zM631 518.9l0 53.4-47.2 0 8.4-4.2 8-5 8-6.3 6.2-6.1 5.2-6.7 4.5-7.6 3.9-8.5 2.7-8z"/><path fill="#52aca3" d="M472.7 412.9l46.9 0-10.5 7.4-10.2 9.7-21.4 23.9-3.4 4.5-2.6 4.3 0-49.8zM590 412.9l41 0 0 73-4.4-12.7-2.2-4.5-3.5-4.6-7.4-6.8-3.1-4.6-2.2-5.6-3.1-12.6-3-6.8-2.9-4.6-2.7-3.4-7.3-6.8zM471.7 513.1l2.7 9.1 3.3 8 4.1 7.2 5.7 7.8 7 7.8 7.8 7.1 9.1 6.9 8.8 5.3-48.7 0 0-59.9zM631 522.7l0 49.6-44.4 0 7.9-4.2 7.6-4.9 7.1-5.7 5.7-5.7 4.7-5.8 4.5-7.3 3.7-7.4 3-8z"/><path fill="#44a299" d="M472.7 412.9l44.6 0-9.4 6.8-9.8 9.1-19.7 22.1-4.2 5.3-2.7 4.2 0-47.5zM591.1 412.9l39.9 0 0 70-3.4-9.7-2.9-5.7-2.8-3.6-7-6.6-3.2-4.6-2.2-5.6-3.7-13.7-3.1-6.8-4.9-6.9-7-6.8zM471.7 517.7l2.7 7.9 3.8 8 4.2 6.8 5.3 6.9 6.6 7.1 7.2 6.5 7.6 5.9 8.8 5.5-46.4 0 0-55.3zM631 526.1l0 46.2-41.9 0 7.7-4.2 6.8-4.6 6-4.9 5.7-5.6 4.7-5.7 4.1-6.3 3.4-6.5 3.2-7.7z"/><path fill="#33958d" d="M472.7 412.9l42.3 0-9.1 6.8-9.6 9.1-17.9 20.2-6.9 9.2 0-45.3zM593.4 412.9l37.6 0 0 67.2-2.9-8-2.8-5.2-3.4-4.3-6.7-6.4-2.3-3.5-2.2-5.6-3.8-13.7-3.1-6.8-4.7-6.9-6.7-6.8zM471.6 521.1l3.1 7.9 3.5 6.9 4.4 6.8 4.9 6.1 6.8 7.2 6.8 6.1 7.5 5.7 7.1 4.5-44.2 0 0-51.4zM631 529.1l0 43.2-39.4 0 6.3-3.6 6.9-4.7 5.7-4.7 5.3-5.2 4.7-5.7 3.6-5.4 3.4-6.1 3-6.7z"/><path fill="#298b83" d="M472.7 412.9l40.2 0-8.9 6.8-9.5 9.1-15 16.9-8 10.4 0-43.2zM594.5 412.9l36.5 0 0 64.4-2.5-6.3-2.5-4.6-3-3.9-6.8-6.8-2-3-2.3-5.6-3.9-13.7-3.7-8-4.8-6.8-5.6-5.7zM471.6 524.5l2.9 6.8 3.7 6.8 4.7 6.9 4.6 5.5 5.7 6 6.1 5.6 7.4 5.7 6.9 4.5-42.1 0 0-48zM631 531.9l0 40.4-37.1 0 6.3-3.8 5.7-4 5.6-4.7 4.7-4.6 4.5-5.3 3.4-4.9 3.4-5.8 3.2-6.7z"/><path fill="#1f827a" d="M472.7 412.9l38.2 0-8.7 6.8-9.4 9.1-13.3 15-8 10.3 0-41.2zM595.7 412.9l35.3 0 0 61.8-2.1-4.9-2.6-4.5-3.3-4.1-6-6.2-2-3.1-1.9-4.8-4-13.7-3.6-8-4.8-6.8-5.3-5.7zM471.8 527.9l3.2 6.7 3.4 5.8 4 5.7 4.8 5.7 5.4 5.7 6.3 5.6 5.9 4.7 6.7 4.5-40 0 0-44.9zM631 534.4l0 37.9-35 0 6.5-4 5.3-4 4.9-4.2 4.6-4.6 7.3-9.4 3.4-5.7 2.8-5.7z"/><path fill="#12766e" d="M472.7 412.9l36.2 0-8.5 6.8-9.3 9.1-11.6 13.1-8 10.3 0-39.3zM596.8 412.9l34.2 0 0 59.4-2.3-4.8-2.3-3.5-9.6-11.3-2.1-4.5-4.1-13.7-2.8-6.8-4.9-8-6.1-6.8zM471.6 530.2l2.8 5.7 3.5 5.7 4 5.7 4.8 5.7 10.6 10.2 6.1 4.9 6.1 4.2-38 0 0-42.2zM631 536.8l0 35.5-32.9 0 11.2-7.9 8.6-8 7.2-9.1 5.8-10.3z"/></g><path fill="none" stroke="#000" stroke-width="0.95" stroke-linejoin="round" d="M561.5 478.6l-2.3 1.7-5.7 5.9-3.4 2.9-2.3 1.5-2.2 1.2-3.5 1.2-3.4 0.5-4.5-0.3-3.4-0.7-6.9-1.9-3.4-0.5-2.3 0.1-2.3 0.8-2.2 1.6-1.2 1.3-1.3 2.1-0.9 2.3-0.6 2.3-0.3 2.2 0 2.3 0.7 3.4 1.6 3.5 3.1 4.2 4.6 5.5 4.5 4.9 3.4 3.2 4.6 3.6 4.5 2.8 3.5 1.7 4.1 1.4 3.8 0.8 3.4 0.2 3.5-0.2 3.4-0.6 4.5-1.3 4.6-1.6 3.4-1.6 3.4-2.1 3.3-2.7 2-2.3 1.6-2.3 1.7-3.4 1.5-3.4 2.9-8 1.6-3.4 0.8-1.1 1.7-1.6 5.5-4.1 2.4-2.3 1.5-2.3 0.3-1.1 0-1.2-0.6-1.5-1.6-1.9-1.8-1.1-2.4-1.2-12.4-4.1-13.7-5.4-3.4-0.7-2.3 0.4M560.4 433.3l-2.3 0.3-3.4 1.2-3.4 2-2.3 1.9-2.3 2.7-1.5 2.2-1.4 3.5-0.4 2.2 0.1 1.2 0.3 1.1 0.7 1.1 1.3 1.2 1.9 1.1 7.4 3.4 4.1 2.2 1.2 0 6.8-6.9 2.6-3.2 1.9-3.6 0.7-2.1 0.2-2.3-0.3-2.3-0.4-1.1-1.3-2.1-1.1-1.1-2.1-1.4-1.3-0.5-2.3-0.6-2.3-0.2M529.6 462.8l-1.1 0.3-1.2 0.6-4.7 3.8-1.7 1.2-8.4 4.4-4 2.4-1.7 1.3-2.2 2.1-1.2 1.6-1 1.9-1.2 3.4-0.7 3.4-0.6 6.8-0.1 4.6 0.2 3.4 0.7 3.4 1 3.4 1.6 3.4 2.4 3.9 9 12.1 2.8 3.4 3 3.2 3.8 3.6 4.4 3.4 4.3 2.8 4.6 2.3 4.5 1.6 4.6 1 4.5 0.3 3.5-0.3 4.4-0.8 3.7-1.2 5.5-2.2 5.7-2.8 3.1-1.8 2.6-1.9 2.3-1.9 2.3-2.3 1.5-1.9 1.9-2.7 4.5-8.7 1.6-2.2 3-3.4 8-7.5 2.2-2.8 1.2-1.8 1.1-2.1 1.1-2.9 0.5-2.3 0.3-2.3-0.1-2.3-0.3-2.2-0.7-2.3-1-2.3-1.5-2.3-1.7-1.9-2.3-1.8-2.2-1.4-5.7-2.4-18.3-6.1-4.5-1.7-3.4-1.8-8-5.2-1.1-0.4-1.2 0.6-1.1 1.4-6.9 8.9-4.1 6.1-2 2.3-1.8 1.4-2.3 1.1-2.3 0.4-2.3-0.4-2.2-1-1.8-1.5-1.7-2.3-1-2.2-0.4-2.3 0.1-2.3 0.7-2.3 1.5-3.4 0.2-1.1-0.1-1.2-0.9-1.1-1.2-0.2M554.7 423l-5.7 1.4-3.4 1.3-3.5 1.7-5.8 3.7-5.5 4.6-3.5 3.4-3.8 4.5-3.5 4.6-6.5 9.1-3.2 3.8-1.2 1.1-2.3 1.6-7.1 3.7-3.7 2.3-1.7 1.3-2.1 2.1-1.3 2.2-0.5 1.3-0.4 2.2-0.2 3.5 0.2 4.5 1.7 15.9 1.1 5.7 1.3 4.6 2 4.6 2.8 4.7 7.2 10.1 4.5 5.6 5.3 5.7 5.3 4.6 6.1 4.4 5.7 3.1 5.7 2.4 5.7 1.5 5.7 0.6 5.7-0.2 4.6-0.8 5.7-1.7 5.6-2.3 4.6-2.1 4.7-2.6 4.4-3 3.5-2.7 3.3-3.2 4.1-4.8 6.3-9.1 6.7-8.6 3.4-5.2 2.2-4.4 1.3-3.5 0.9-4.5 0.3-4.5-0.2-2.3-0.5-3.4-1.6-5.7-1.2-3.1-1.2-2.1-2.2-3.1-2.3-2.1-3.4-2.2-11.4-5.4-3.4-2-3.4-2.8-1.7-2.3-1-2.3-0.5-2.2-0.1-3.5 0.4-7.9-0.5-4.6-0.5-2.3-0.9-2.2-1.2-2.3-1.7-2.3-2.2-2.3-2.7-2-2.3-1.3-2.7-1.2-2.9-0.9-3.5-0.6-3.4-0.2-3.4 0.2M556.9 415.1l-3.4 0.3-4.5 0.7-4.6 1.3-3.4 1.3-4.6 2.1-4.1 2.3-3.8 2.5-4.3 3.2-3.8 3.4-4.3 4.6-3.8 4.6-6.6 8.4-3.4 3.8-3.4 2.8-10.3 7.2-2.3 1.9-1.9 2-1.6 2.3-1 2.3-0.5 2.3-0.2 2.3 0.1 4.5 0.5 4.6 2.7 18.2 0.9 4.5 1 4.2 2.1 6.1 2.1 4.5 2.7 4.7 3.9 5.6 6.3 7.8 5.7 5.9 6.5 5.7 7.2 5.2 6.8 3.9 6.8 2.8 6.9 1.9 3.4 0.6 3.4 0.3 5.7-0.2 5.7-0.9 5.7-1.5 6.8-2.6 6.9-3.1 6.8-3.8 5.7-3.9 5.7-4.7 4.4-4.3 3.8-4.6 4.3-6.5 4.6-7.9 2.8-6 2.1-5.7 1.3-5.7 0.4-4.6-0.2-5.7-1-5.7-2-6.9-2.6-6.7-2-3.3-2.3-2.3-3.4-2.4-7.4-4.6-2.8-1.9-1.9-1.5-1.8-2.3-1.2-2.2-0.9-3.5-1.3-11.3-0.9-4.3-1.4-3.7-1.3-2.3-1.5-2.3-2.6-3-2.9-2.7-3.2-2.2-4.2-2.4-3.4-1.3-4.5-1.3-4.6-0.7-4.6-0.1M537.1 412.9l-5.2 2.3-6.2 3.4-5.2 3.5-5.6 4.5-3.6 3.4-3.3 3.4-13.1 14.8-4.6 4.5-8.5 7.9-2 2.4-1.4 2-1.4 2.5-0.9 2.2-1.2 4.7-0.3 5.7 0.5 5.7 2.4 17 1 5.7 1.4 5.7 1.8 5.7 2.3 5.7 2.3 4.6 2.9 4.5 5.3 6.9 6.3 6.8 6.1 5.7 6.8 5.4 6.8 4.7 6.6 3.6 5.9 2.5 6.8 2M564.7 572.3l5.9-1.6 5.7-2 6.8-3 5.7-3 5.7-3.4 5.7-4.1 4.6-3.8 4.2-4.1 3-3.5 3.2-4.5 3.4-5.7 3.3-6.5 2.2-5.6 1.7-5 1.3-5.7 0.6-4.5 0.2-3.5-0.1-3.4-0.3-3.4-0.9-4.5-1.2-4.6-3.3-10.2-1.8-4.6-1.5-2.3-1.5-1.5-8.3-6.4-2.6-2.3-2-2.3-1.6-2.3-1.1-2.3-1.1-3.4-1.7-10.2-0.9-3.4-2-4.6-2.9-4.5-3.8-4.6-3.8-3.4-4.6-3.2-4.7-2.5M522.9 412.9l-5.8 3.6-5.7 4.2-5.4 4.7-4.6 4.6-23.7 26.2-1.8 2.2-2.1 3.3-2.3 4.6M631 490.4l-1.4-4.6-3.8-11.4-2-4.6-1.5-2.3-2-2.2-6.4-5.7-2.2-2.3-1.7-2.3-1.4-2.3-1-2.2-1-3.4-2-9.2-1-3.4-1.3-3.4-1.8-3.4-2.6-3.9-3.4-4.1-3.4-3.4-4.3-3.4M471.5 503.9l1.1 5.8 1.4 5.7 1.3 4.5 1.9 5.3 2.3 5 1.8 3.4 2.8 4.4 2.6 3.6 3.7 4.5 4.1 4.6 4.4 4.3 4.5 4 5.4 4.2 4.9 3.4 5.5 3.4 4.4 2.3M582.8 572.3l4.9-2.3 4.5-2.4 4.6-2.7 4.2-2.8 3.8-2.9 3.4-2.9 3.4-3.2 3.3-3.6 2.7-3.4 2.4-3.4 2.1-3.4 2.4-4.6 2.2-4.5 1.8-4.6 1.3-4 1.2-4.2"/></g><g font-size="9.2" fill="#000" stroke="#000" stroke-width="0.12"><circle cx="534.2" cy="441" r="1.05" fill="#000"/><text x="536.9" y="444.5">Fp1</text><circle cx="568.2" cy="441" r="1.05" fill="#000"/><text x="570.9" y="444.5">Fp2</text><circle cx="507.9" cy="461.1" r="1.05" fill="#000"/><text x="510.5" y="464.6">F7</text><circle cx="594.6" cy="461.1" r="1.05" fill="#000"/><text x="597.2" y="464.6">F8</text><circle cx="529.4" cy="465.9" r="1.05" fill="#000"/><text x="532" y="469.4">F3</text><circle cx="573.1" cy="465.9" r="1.05" fill="#000"/><text x="575.8" y="469.4">F4</text><circle cx="551.2" cy="466.9" r="1.05" fill="#000"/><text x="553.9" y="470.4">Fz</text><circle cx="484.1" cy="471.1" r="1.05" fill="#000"/><text x="486.7" y="474.6">FT9</text><circle cx="618.5" cy="471.1" r="1.05" fill="#000"/><text x="621.1" y="474.6">FT10</text><circle cx="513.9" cy="478.1" r="1.05" fill="#000"/><text x="516.5" y="481.6">FC5</text><circle cx="588.6" cy="478.1" r="1.05" fill="#000"/><text x="591.2" y="481.6">FC6</text><circle cx="539" cy="479.8" r="1.05" fill="#000"/><text x="541.6" y="483.3">FC1</text><circle cx="563.5" cy="479.8" r="2.55" fill="#fff" stroke="#000" stroke-width="0.9"/><text x="566.1" y="483.3">FC2</text><circle cx="497.6" cy="492.8" r="1.05" fill="#000"/><text x="500.2" y="496.3">T7</text><circle cx="604.9" cy="492.8" r="2.55" fill="#fff" stroke="#000" stroke-width="0.9"/><text x="607.5" y="496.3">T8</text><circle cx="525.5" cy="493.1" r="1.05" fill="#000"/><text x="528.1" y="496.6">C3</text><circle cx="577" cy="493.1" r="2.55" fill="#fff" stroke="#000" stroke-width="0.9"/><text x="579.6" y="496.6">C4</text><circle cx="551.2" cy="493.1" r="1.05" fill="#000"/><text x="553.9" y="496.6">Cz</text><circle cx="513.9" cy="507.1" r="2.55" fill="#fff" stroke="#000" stroke-width="0.9"/><text x="516.5" y="510.6">CP5</text><circle cx="588.6" cy="507.1" r="2.55" fill="#fff" stroke="#000" stroke-width="0.9"/><text x="591.2" y="510.6">CP6</text><circle cx="538.9" cy="506" r="1.05" fill="#000"/><text x="541.5" y="509.5">CP1</text><circle cx="563.6" cy="506" r="2.55" fill="#fff" stroke="#000" stroke-width="0.9"/><text x="566.2" y="509.5">CP2</text><circle cx="507.9" cy="524.1" r="1.05" fill="#000"/><text x="510.5" y="527.6">P7</text><circle cx="594.6" cy="524.1" r="1.05" fill="#000"/><text x="597.2" y="527.6">P8</text><circle cx="529.4" cy="519.6" r="2.55" fill="#fff" stroke="#000" stroke-width="0.9"/><text x="532" y="523.1">P3</text><circle cx="573.1" cy="519.6" r="2.55" fill="#f00" stroke="#000" stroke-width="0.9"/><text x="575.8" y="523.1">P4</text><circle cx="551.2" cy="518.5" r="2.55" fill="#fff" stroke="#000" stroke-width="0.9"/><text x="553.9" y="522">Pz</text><circle cx="534.9" cy="543.8" r="1.05" fill="#000"/><text x="537.5" y="547.3">O1</text><circle cx="567.6" cy="543.8" r="1.05" fill="#000"/><text x="570.2" y="547.3">O2</text><circle cx="551.2" cy="546.6" r="1.05" fill="#000"/><text x="553.9" y="550.1">Oz</text></g><circle cx="551.2" cy="492.6" r="75.2" fill="none" stroke="#000" stroke-width="2.8"/><path fill="none" stroke="#000" stroke-width="2.7" stroke-linejoin="round" d="M537.5 417.8L547.2 407.7Q551.2 404 555.2 407.7L565 417.8"/><path fill="none" stroke="#000" stroke-width="2.6" stroke-linejoin="round" d="M624.9 477C626.2 474.7 630.5 473.9 632.5 476C633.4 477 633.5 478.6 633.5 480.6L633.6 502.6C633.8 505.1 634.6 506.6 634.5 509.1C634.1 512.3 631.5 513.1 628.8 512.8C627.2 512.6 626 511.9 625.5 510.9"/><path fill="none" stroke="#000" stroke-width="2.6" stroke-linejoin="round" d="M477.6 477C476.2 474.7 471.9 473.9 469.9 476C469.1 477 468.9 478.6 468.9 480.6L468.9 502.6C468.8 505.1 467.9 506.6 468.1 509.1C468.4 512.3 471.1 513.1 473.8 512.8C475.2 512.6 476.4 511.9 477.1 510.9"/><linearGradient id="cb2" x1="0" y1="0" x2="0" y2="1"><stop offset="0.000" stop-color="#003c30"/><stop offset="0.025" stop-color="#00463b"/><stop offset="0.050" stop-color="#005046"/><stop offset="0.075" stop-color="#015b52"/><stop offset="0.100" stop-color="#01655d"/><stop offset="0.125" stop-color="#0c7169"/><stop offset="0.150" stop-color="#1a7e76"/><stop offset="0.175" stop-color="#278a82"/><stop offset="0.200" stop-color="#35978f"/><stop offset="0.225" stop-color="#47a49b"/><stop offset="0.250" stop-color="#58b0a7"/><stop offset="0.275" stop-color="#6dbfb4"/><stop offset="0.300" stop-color="#7fccc0"/><stop offset="0.325" stop-color="#92d4ca"/><stop offset="0.350" stop-color="#a3dbd3"/><stop offset="0.375" stop-color="#b4e2db"/><stop offset="0.400" stop-color="#c7eae5"/><stop offset="0.425" stop-color="#d2ede9"/><stop offset="0.450" stop-color="#def0ed"/><stop offset="0.475" stop-color="#e9f2f1"/><stop offset="0.500" stop-color="#f4f5f5"/><stop offset="0.525" stop-color="#f5f2e8"/><stop offset="0.550" stop-color="#f5efdc"/><stop offset="0.575" stop-color="#f6ebcf"/><stop offset="0.600" stop-color="#f6e8c3"/><stop offset="0.625" stop-color="#f1dfb3"/><stop offset="0.650" stop-color="#ead59f"/><stop offset="0.675" stop-color="#e5cc8f"/><stop offset="0.700" stop-color="#dec17b"/><stop offset="0.725" stop-color="#d7b169"/><stop offset="0.750" stop-color="#cfa256"/><stop offset="0.775" stop-color="#c79040"/><stop offset="0.800" stop-color="#bf812d"/><stop offset="0.825" stop-color="#b17423"/><stop offset="0.850" stop-color="#a5691b"/><stop offset="0.875" stop-color="#995d13"/><stop offset="0.900" stop-color="#8b500a"/><stop offset="0.925" stop-color="#7e4909"/><stop offset="0.950" stop-color="#6e4007"/><stop offset="0.975" stop-color="#613806"/><stop offset="1.000" stop-color="#543005"/></linearGradient><rect x="654.8" y="401.6" width="7.5" height="182.2" fill="url(#cb2)" stroke="#2a2a2a" stroke-width="1.1"/><text x="667.6" y="405.2" font-size="10" fill="#1a1a1a">1</text><line x1="660.3" y1="447.2" x2="662.3" y2="447.2" stroke="#2a2a2a" stroke-width="0.9"/><text x="667.6" y="450.8" font-size="10" fill="#1a1a1a">0.5</text><line x1="660.3" y1="492.7" x2="662.3" y2="492.7" stroke="#2a2a2a" stroke-width="0.9"/><text x="667.6" y="496.3" font-size="10" fill="#1a1a1a">0</text><line x1="660.3" y1="538.2" x2="662.3" y2="538.2" stroke="#2a2a2a" stroke-width="0.9"/><text x="667.1" y="541.9" font-size="10" fill="#1a1a1a">-0.5</text><text x="667.1" y="587.4" font-size="10" fill="#1a1a1a">-1</text><text transform="translate(678.2 492.6) rotate(90)" font-size="9.6" fill="#1a1a1a" text-anchor="middle">Pearson's r</text><text x="358.6" y="9.35" font-size="13.2" text-anchor="middle" fill="#000">CTRL</text><text x="551.25" y="9.35" font-size="13.2" text-anchor="middle" fill="#000">IMMO</text><text x="358.6" y="205.8" font-size="13.2" text-anchor="middle" fill="#000">CTRL</text><text x="551.25" y="205.8" font-size="13.2" text-anchor="middle" fill="#000">IMMO</text><text x="358.6" y="398.8" font-size="13.2" text-anchor="middle" fill="#000">CTRL</text><text x="551.25" y="398.8" font-size="13.2" text-anchor="middle" fill="#000">IMMO</text><text x="241.3" y="23.4" font-size="23" font-weight="bold">d</text><text x="241.8" y="217.0" font-size="23" font-weight="bold">e</text><text x="244.3" y="411.0" font-size="23" font-weight="bold">f</text><text x="-0.4" y="21.0" font-size="23" font-weight="bold">a</text><text x="-2.2" y="218.7" font-size="23" font-weight="bold">b</text><text x="-0.8" y="408.8" font-size="23" font-weight="bold">c</text><text transform="translate(253 104.2) rotate(-90)" font-size="11" text-anchor="middle" fill="#111">Skill consolidation (%)</text><text transform="translate(246.3 300.5) rotate(-90)" font-size="11" text-anchor="middle" fill="#111">Inter-manual</text><text transform="translate(260.3 298.5) rotate(-90)" font-size="11" text-anchor="middle" fill="#111">skill transfer (%)</text><text transform="translate(246.3 493.4) rotate(-90)" font-size="11" text-anchor="middle" fill="#111">New-sequence</text><text transform="translate(260.3 491.7) rotate(-90)" font-size="11" text-anchor="middle" fill="#111">skill transfer (%)</text></svg></body></html>
